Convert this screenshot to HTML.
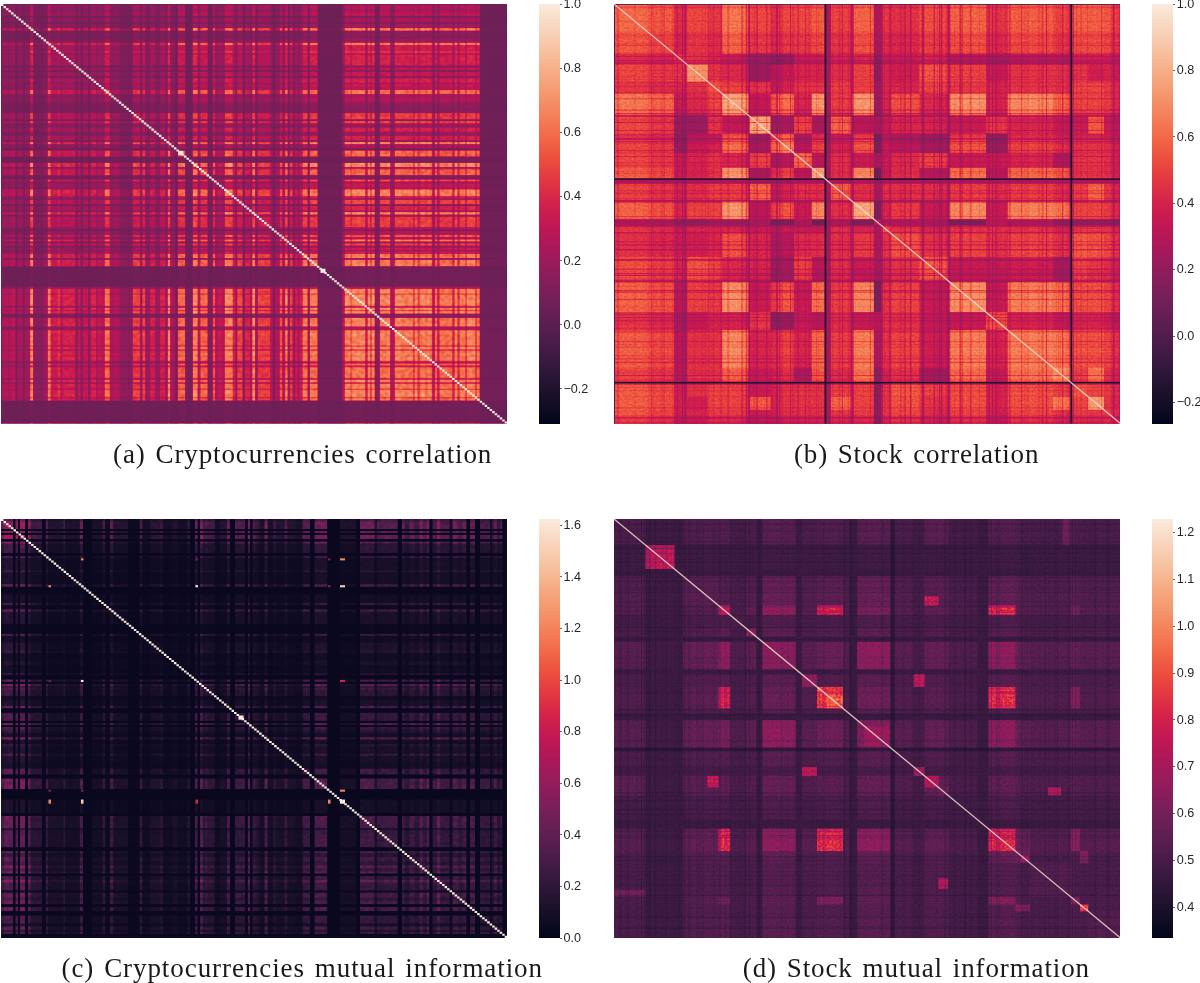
<!DOCTYPE html><html><head><meta charset="utf-8"><title>Correlation and mutual information heatmaps</title><style>
html,body{margin:0;padding:0;background:#fff}
#r{position:relative;width:1200px;height:983px;overflow:hidden;background:#fff;font-family:"Liberation Sans",sans-serif}
.cb{position:absolute;background:linear-gradient(to bottom,#faebdd 0%,#f8d7c0 5.26%,#f7c4a4 10.53%,#f6ae87 15.79%,#f59970 21.05%,#f4815a 26.32%,#f26948 31.58%,#ed4e3e 36.84%,#e33641 42.11%,#d3214b 47.37%,#c11754 52.63%,#aa185a 57.89%,#931c5b 63.16%,#7b1f59 68.42%,#661f54 73.68%,#501d4c 78.95%,#3c1a42 84.21%,#271534 89.47%,#140e26 94.74%,#03051a 100%)}
.tk{position:absolute;width:2px;height:1px;background:#666}
.tl{position:absolute;font-size:12.6px;line-height:15px;color:#262626;white-space:nowrap}
.cap{position:absolute;font-family:"Liberation Serif",serif;font-size:27px;line-height:30px;color:#1a1a1a;white-space:nowrap}
svg{display:block}
</style></head><body><div id="r"><svg width="0" height="0" style="position:absolute"><defs><filter id="fa" x="0" y="0" width="100%" height="100%" color-interpolation-filters="sRGB"><feTurbulence type="fractalNoise" baseFrequency="0.25 0.3" numOctaves="1" seed="5" result="n"/><feColorMatrix in="n" type="matrix" values="1 0 0 0 0 1 0 0 0 0 1 0 0 0 0 0 0 0 0 1" result="m"/><feComposite in="SourceGraphic" in2="m" operator="arithmetic" k1="0.4" k2="0.6" k3="0" k4="0" result="s"/><feComponentTransfer in="s"><feFuncR type="table" tableValues="0.419 0.452 0.484 0.517 0.551 0.584 0.618 0.658 0.691 0.724 0.755 0.785 0.813 0.843 0.866 0.887 0.905 0.920 0.931 0.939 0.946 0.951 0.954 0.957 0.960 0.961 0.963 0.964 0.965 0.965 0.966 0.967 0.969 0.972 0.974 0.978 0.981 0.014 0.014 0.014 0.014 0.014 0.014 0.014 0.014 0.014 0.014 0.014"/><feFuncG type="table" tableValues="0.122 0.122 0.120 0.118 0.114 0.109 0.103 0.096 0.090 0.087 0.089 0.099 0.116 0.146 0.174 0.205 0.239 0.275 0.314 0.353 0.398 0.435 0.471 0.506 0.540 0.573 0.606 0.645 0.677 0.708 0.738 0.769 0.798 0.833 0.862 0.891 0.921 0.020 0.020 0.020 0.020 0.020 0.020 0.020 0.020 0.020 0.020 0.020"/><feFuncB type="table" tableValues="0.336 0.344 0.350 0.355 0.357 0.358 0.358 0.354 0.348 0.339 0.329 0.316 0.302 0.285 0.271 0.258 0.247 0.242 0.245 0.255 0.275 0.297 0.323 0.351 0.381 0.412 0.445 0.486 0.523 0.561 0.601 0.642 0.685 0.737 0.780 0.823 0.865 0.104 0.104 0.104 0.104 0.104 0.104 0.104 0.104 0.104 0.104 0.104"/></feComponentTransfer></filter><filter id="fb" x="0" y="0" width="100%" height="100%" color-interpolation-filters="sRGB"><feTurbulence type="fractalNoise" baseFrequency="0.45 0.55" numOctaves="1" seed="7" result="n"/><feColorMatrix in="n" type="matrix" values="1 0 0 0 0 1 0 0 0 0 1 0 0 0 0 0 0 0 0 1" result="m"/><feComposite in="SourceGraphic" in2="m" operator="arithmetic" k1="0.3" k2="0.7" k3="0" k4="0" result="s"/><feComponentTransfer in="s"><feFuncR type="table" tableValues="0.312 0.343 0.375 0.406 0.439 0.471 0.504 0.537 0.577 0.611 0.645 0.678 0.711 0.743 0.773 0.802 0.829 0.853 0.875 0.895 0.912 0.925 0.936 0.943 0.948 0.952 0.956 0.958 0.960 0.962 0.963 0.964 0.965 0.965 0.966 0.967 0.969 0.972 0.975 0.978 0.014 0.014 0.014 0.014 0.014 0.014 0.014 0.014"/><feFuncG type="table" tableValues="0.115 0.118 0.120 0.122 0.122 0.121 0.119 0.116 0.110 0.105 0.098 0.092 0.088 0.087 0.094 0.109 0.130 0.157 0.186 0.218 0.253 0.291 0.337 0.375 0.413 0.449 0.485 0.519 0.553 0.586 0.619 0.651 0.683 0.714 0.745 0.775 0.804 0.839 0.868 0.897 0.020 0.020 0.020 0.020 0.020 0.020 0.020 0.020"/><feFuncB type="table" tableValues="0.298 0.311 0.323 0.333 0.341 0.348 0.353 0.356 0.358 0.358 0.355 0.350 0.343 0.333 0.321 0.308 0.293 0.279 0.265 0.253 0.245 0.242 0.250 0.264 0.283 0.307 0.334 0.363 0.393 0.425 0.458 0.493 0.530 0.568 0.609 0.651 0.694 0.746 0.789 0.831 0.104 0.104 0.104 0.104 0.104 0.104 0.104 0.104"/></feComponentTransfer></filter><filter id="fc" x="0" y="0" width="100%" height="100%" color-interpolation-filters="sRGB"><feTurbulence type="fractalNoise" baseFrequency="0.25 0.3" numOctaves="1" seed="4" result="n"/><feColorMatrix in="n" type="matrix" values="1 0 0 0 0 1 0 0 0 0 1 0 0 0 0 0 0 0 0 1" result="m"/><feComposite in="SourceGraphic" in2="m" operator="arithmetic" k1="0.3" k2="0.7" k3="0" k4="0" result="s"/><feComponentTransfer in="s"><feFuncR type="table" tableValues="0.039 0.039 0.039 0.039 0.039 0.039 0.039 0.039 0.044 0.044 0.050 0.050 0.056 0.056 0.062 0.068 0.073 0.079 0.085 0.090 0.096 0.101 0.113 0.124 0.129 0.141 0.152 0.163 0.175 0.192 0.204 0.222 0.239 0.257 0.275 0.294 0.312 0.337 0.356 0.381 0.406 0.432 0.465 0.491 0.524 0.557 0.591 0.625 0.658 0.698 0.730 0.767 0.802 0.834 0.866 0.895 0.914 0.933 0.943 0.950 0.956 0.960 0.962 0.964"/><feFuncG type="table" tableValues="0.034 0.034 0.034 0.034 0.034 0.034 0.034 0.034 0.036 0.036 0.039 0.039 0.042 0.042 0.045 0.048 0.050 0.053 0.056 0.058 0.061 0.063 0.067 0.072 0.074 0.078 0.082 0.085 0.088 0.093 0.096 0.100 0.104 0.107 0.110 0.113 0.115 0.118 0.119 0.121 0.122 0.122 0.121 0.120 0.117 0.113 0.108 0.102 0.096 0.089 0.087 0.092 0.109 0.135 0.174 0.218 0.260 0.322 0.375 0.428 0.485 0.540 0.593 0.645"/><feFuncB type="table" tableValues="0.122 0.122 0.122 0.122 0.122 0.122 0.122 0.122 0.126 0.126 0.130 0.130 0.134 0.134 0.138 0.142 0.146 0.150 0.154 0.158 0.162 0.166 0.174 0.182 0.186 0.195 0.203 0.211 0.219 0.231 0.239 0.250 0.260 0.271 0.280 0.290 0.298 0.309 0.316 0.325 0.333 0.340 0.347 0.351 0.355 0.358 0.358 0.357 0.354 0.346 0.337 0.324 0.308 0.291 0.271 0.253 0.244 0.246 0.264 0.292 0.334 0.381 0.431 0.486"/></feComponentTransfer></filter><filter id="fd" x="0" y="0" width="100%" height="100%" color-interpolation-filters="sRGB"><feTurbulence type="fractalNoise" baseFrequency="0.45 0.55" numOctaves="1" seed="9" result="n"/><feColorMatrix in="n" type="matrix" values="1 0 0 0 0 1 0 0 0 0 1 0 0 0 0 0 0 0 0 1" result="m"/><feComposite in="SourceGraphic" in2="m" operator="arithmetic" k1="0.5" k2="0.5" k3="0" k4="0" result="s"/><feComponentTransfer in="s"><feFuncR type="table" tableValues="0.079 0.107 0.135 0.163 0.192 0.222 0.251 0.281 0.312 0.343 0.375 0.406 0.439 0.471 0.504 0.537 0.571 0.604 0.638 0.672 0.705 0.737 0.767 0.797 0.823 0.848 0.871 0.891 0.912 0.925 0.934 0.942 0.947 0.952 0.955 0.958 0.960 0.962 0.963 0.964 0.965 0.965 0.966 0.967 0.969 0.971 0.974 0.977"/><feFuncG type="table" tableValues="0.053 0.065 0.076 0.085 0.093 0.100 0.106 0.111 0.115 0.118 0.120 0.122 0.122 0.121 0.119 0.116 0.111 0.106 0.099 0.093 0.088 0.087 0.092 0.105 0.125 0.151 0.180 0.211 0.253 0.291 0.329 0.368 0.406 0.442 0.478 0.513 0.547 0.580 0.613 0.645 0.677 0.708 0.738 0.769 0.798 0.827 0.857 0.886"/><feFuncB type="table" tableValues="0.150 0.170 0.190 0.211 0.231 0.250 0.267 0.284 0.298 0.311 0.323 0.333 0.341 0.348 0.353 0.356 0.358 0.358 0.356 0.352 0.345 0.335 0.324 0.311 0.296 0.282 0.268 0.255 0.245 0.242 0.248 0.260 0.279 0.302 0.329 0.357 0.387 0.418 0.451 0.486 0.523 0.561 0.601 0.642 0.685 0.729 0.772 0.814"/></feComponentTransfer></filter></defs></svg><svg style="position:absolute;left:1px;top:4px" width="506.3" height="419.5" viewBox="0 0 506.3 419.5"><g filter="url(#fa)"><rect width="506.3" height="419.5" fill="#f5f5f5"/><g style="mix-blend-mode:multiply"><rect x="0" width="2" height="419.5" fill="#111111"/><rect x="1.3" width="6.4" height="419.5" fill="#4d4d4d"/><rect x="7" width="2.2" height="419.5" fill="#393939"/><rect x="8.5" width="3.9" height="419.5" fill="#4d4d4d"/><rect x="11.7" width="3.2" height="419.5" fill="#5f5f5f"/><rect x="14.2" width="3.2" height="419.5" fill="#181818"/><rect x="16.7" width="5.8" height="419.5" fill="#434343"/><rect x="21.8" width="2.7" height="419.5" fill="#181818"/><rect x="23.8" width="6.1" height="419.5" fill="#3c3c3c"/><rect x="29.2" width="3.7" height="419.5" fill="#d6d6d6"/><rect x="32.2" width="8.5" height="419.5" fill="#242424"/><rect x="40" width="2.4" height="419.5" fill="#181818"/><rect x="41.7" width="5.7" height="419.5" fill="#333333"/><rect x="46.7" width="3.6" height="419.5" fill="#cbcbcb"/><rect x="49.6" width="7.8" height="419.5" fill="#676767"/><rect x="56.7" width="3.2" height="419.5" fill="#838383"/><rect x="59.2" width="3.2" height="419.5" fill="#545454"/><rect x="61.7" width="13.2" height="419.5" fill="#6f6f6f"/><rect x="74.2" width="3.5" height="419.5" fill="#2a2a2a"/><rect x="77" width="3.3" height="419.5" fill="#5f5f5f"/><rect x="79.6" width="3.1" height="419.5" fill="#242424"/><rect x="82" width="5.7" height="419.5" fill="#5f5f5f"/><rect x="87" width="3.3" height="419.5" fill="#242424"/><rect x="89.6" width="6.1" height="419.5" fill="#6f6f6f"/><rect x="95" width="2.4" height="419.5" fill="#434343"/><rect x="96.7" width="4" height="419.5" fill="#5f5f5f"/><rect x="100" width="4.45" height="419.5" fill="#545454"/><rect x="103.75" width="5.7" height="419.5" fill="#bdbdbd"/><rect x="108.75" width="5.7" height="419.5" fill="#434343"/><rect x="113.75" width="3.65" height="419.5" fill="#545454"/><rect x="116.7" width="3.2" height="419.5" fill="#434343"/><rect x="119.2" width="9" height="419.5" fill="#272727"/><rect x="127.5" width="2" height="419.5" fill="#1a1a1a"/><rect x="128.8" width="3.6" height="419.5" fill="#272727"/><rect x="131.7" width="8.2" height="419.5" fill="#909090"/><rect x="139.2" width="2.75" height="419.5" fill="#242424"/><rect x="141.25" width="3.65" height="419.5" fill="#989898"/><rect x="144.2" width="5.7" height="419.5" fill="#333333"/><rect x="149.2" width="5.7" height="419.5" fill="#6f6f6f"/><rect x="154.2" width="5.7" height="419.5" fill="#333333"/><rect x="159.2" width="5.7" height="419.5" fill="#6f6f6f"/><rect x="164.2" width="3.2" height="419.5" fill="#333333"/><rect x="166.7" width="3.2" height="419.5" fill="#d6d6d6"/><rect x="169.2" width="5.7" height="419.5" fill="#434343"/><rect x="174.2" width="3.2" height="419.5" fill="#090909"/><rect x="176.7" width="8.2" height="419.5" fill="#b3b3b3"/><rect x="184.2" width="8.2" height="419.5" fill="#111111"/><rect x="191.7" width="5.7" height="419.5" fill="#d6d6d6"/><rect x="196.7" width="2.75" height="419.5" fill="#434343"/><rect x="198.75" width="1.95" height="419.5" fill="#909090"/><rect x="200" width="7.4" height="419.5" fill="#b3b3b3"/><rect x="206.7" width="5.7" height="419.5" fill="#181818"/><rect x="211.7" width="3.2" height="419.5" fill="#a6a6a6"/><rect x="214.2" width="3.2" height="419.5" fill="#434343"/><rect x="216.7" width="5.25" height="419.5" fill="#5f5f5f"/><rect x="221.25" width="3.2" height="419.5" fill="#4d4d4d"/><rect x="223.75" width="8.65" height="419.5" fill="#cfcfcf"/><rect x="231.7" width="3.2" height="419.5" fill="#6f6f6f"/><rect x="234.2" width="2.75" height="419.5" fill="#333333"/><rect x="236.25" width="6.15" height="419.5" fill="#989898"/><rect x="241.7" width="2.75" height="419.5" fill="#181818"/><rect x="243.75" width="6.15" height="419.5" fill="#727272"/><rect x="249.2" width="2.75" height="419.5" fill="#434343"/><rect x="251.25" width="3.65" height="419.5" fill="#d9d9d9"/><rect x="254.2" width="3.2" height="419.5" fill="#333333"/><rect x="256.7" width="13.2" height="419.5" fill="#909090"/><rect x="269.2" width="3.2" height="419.5" fill="#545454"/><rect x="271.7" width="3.2" height="419.5" fill="#181818"/><rect x="274.2" width="5.25" height="419.5" fill="#4d4d4d"/><rect x="278.75" width="3.2" height="419.5" fill="#a6a6a6"/><rect x="281.25" width="3.65" height="419.5" fill="#4d4d4d"/><rect x="284.2" width="3.2" height="419.5" fill="#cfcfcf"/><rect x="286.7" width="2.75" height="419.5" fill="#2a2a2a"/><rect x="288.75" width="3.65" height="419.5" fill="#909090"/><rect x="291.7" width="3.2" height="419.5" fill="#333333"/><rect x="294.2" width="3.2" height="419.5" fill="#676767"/><rect x="296.7" width="2.75" height="419.5" fill="#434343"/><rect x="298.75" width="3.65" height="419.5" fill="#676767"/><rect x="301.7" width="5.7" height="419.5" fill="#c6c6c6"/><rect x="306.7" width="2.75" height="419.5" fill="#2a2a2a"/><rect x="308.75" width="8.65" height="419.5" fill="#c6c6c6"/><rect x="316.7" width="25.25" height="419.5" fill="#090909"/><rect x="341.25" width="3.2" height="419.5" fill="#545454"/><rect x="343.75" width="6.15" height="419.5" fill="#cfcfcf"/><rect x="349.2" width="2.75" height="419.5" fill="#a6a6a6"/><rect x="351.25" width="7.75" height="419.5" fill="#cfcfcf"/><rect x="358.3" width="6.6" height="419.5" fill="#d3d3d3"/><rect x="364.2" width="3.2" height="419.5" fill="#676767"/><rect x="366.7" width="3.2" height="419.5" fill="#d6d6d6"/><rect x="369.2" width="2.3" height="419.5" fill="#909090"/><rect x="370.8" width="3.65" height="419.5" fill="#d9d9d9"/><rect x="373.75" width="5.7" height="419.5" fill="#242424"/><rect x="378.75" width="7.95" height="419.5" fill="#c6c6c6"/><rect x="386" width="3.9" height="419.5" fill="#d3d3d3"/><rect x="389.2" width="5.25" height="419.5" fill="#4d4d4d"/><rect x="393.75" width="6.95" height="419.5" fill="#cfcfcf"/><rect x="400" width="12.7" height="419.5" fill="#c6c6c6"/><rect x="412" width="2.5" height="419.5" fill="#909090"/><rect x="413.8" width="3.4" height="419.5" fill="#d3d3d3"/><rect x="416.5" width="3" height="419.5" fill="#909090"/><rect x="418.8" width="2.9" height="419.5" fill="#c6c6c6"/><rect x="421" width="3.7" height="419.5" fill="#d2d2d2"/><rect x="424" width="3.2" height="419.5" fill="#bdbdbd"/><rect x="426.5" width="3.7" height="419.5" fill="#d2d2d2"/><rect x="429.5" width="2.4" height="419.5" fill="#bdbdbd"/><rect x="431.2" width="3.4" height="419.5" fill="#545454"/><rect x="433.9" width="3" height="419.5" fill="#bdbdbd"/><rect x="436.2" width="3" height="419.5" fill="#676767"/><rect x="438.5" width="13.5" height="419.5" fill="#bdbdbd"/><rect x="451.3" width="3" height="419.5" fill="#6f6f6f"/><rect x="453.6" width="3.5" height="419.5" fill="#d3d3d3"/><rect x="456.4" width="3" height="419.5" fill="#7b7b7b"/><rect x="458.7" width="6.2" height="419.5" fill="#c6c6c6"/><rect x="464.2" width="2.5" height="419.5" fill="#909090"/><rect x="466" width="8.9" height="419.5" fill="#d0d0d0"/><rect x="474.2" width="2.5" height="419.5" fill="#909090"/><rect x="476" width="3.5" height="419.5" fill="#c6c6c6"/><rect x="478.8" width="6.2" height="419.5" fill="#080808"/><rect x="484.3" width="2.1" height="419.5" fill="#111111"/><rect x="485.7" width="20.6" height="419.5" fill="#080808"/></g><g style="mix-blend-mode:multiply"><rect y="0" height="1.78" width="506.3" fill="#111111"/><rect y="1.08" height="5.42" width="506.3" fill="#4d4d4d"/><rect y="5.8" height="1.94" width="506.3" fill="#393939"/><rect y="7.04" height="3.35" width="506.3" fill="#4d4d4d"/><rect y="9.69" height="2.77" width="506.3" fill="#5f5f5f"/><rect y="11.77" height="2.77" width="506.3" fill="#181818"/><rect y="13.84" height="4.93" width="506.3" fill="#434343"/><rect y="18.06" height="2.36" width="506.3" fill="#181818"/><rect y="19.72" height="5.17" width="506.3" fill="#3c3c3c"/><rect y="24.19" height="3.19" width="506.3" fill="#d6d6d6"/><rect y="26.68" height="7.16" width="506.3" fill="#242424"/><rect y="33.14" height="2.11" width="506.3" fill="#181818"/><rect y="34.55" height="4.84" width="506.3" fill="#333333"/><rect y="38.69" height="3.1" width="506.3" fill="#cbcbcb"/><rect y="41.1" height="6.58" width="506.3" fill="#676767"/><rect y="46.98" height="2.77" width="506.3" fill="#838383"/><rect y="49.05" height="2.77" width="506.3" fill="#545454"/><rect y="51.12" height="11.06" width="506.3" fill="#6f6f6f"/><rect y="61.48" height="3.02" width="506.3" fill="#2a2a2a"/><rect y="63.8" height="2.85" width="506.3" fill="#5f5f5f"/><rect y="65.95" height="2.69" width="506.3" fill="#242424"/><rect y="67.94" height="4.84" width="506.3" fill="#5f5f5f"/><rect y="72.08" height="2.85" width="506.3" fill="#242424"/><rect y="74.24" height="5.17" width="506.3" fill="#6f6f6f"/><rect y="78.71" height="2.11" width="506.3" fill="#434343"/><rect y="80.12" height="3.43" width="506.3" fill="#5f5f5f"/><rect y="82.86" height="3.81" width="506.3" fill="#545454"/><rect y="85.96" height="4.84" width="506.3" fill="#bdbdbd"/><rect y="90.11" height="4.84" width="506.3" fill="#434343"/><rect y="94.25" height="3.14" width="506.3" fill="#545454"/><rect y="96.69" height="2.77" width="506.3" fill="#434343"/><rect y="98.76" height="7.58" width="506.3" fill="#272727"/><rect y="105.64" height="1.78" width="506.3" fill="#1a1a1a"/><rect y="106.72" height="3.1" width="506.3" fill="#272727"/><rect y="109.12" height="6.91" width="506.3" fill="#909090"/><rect y="115.34" height="2.4" width="506.3" fill="#242424"/><rect y="117.03" height="3.14" width="506.3" fill="#989898"/><rect y="119.48" height="4.84" width="506.3" fill="#333333"/><rect y="123.62" height="4.84" width="506.3" fill="#6f6f6f"/><rect y="127.76" height="4.84" width="506.3" fill="#333333"/><rect y="131.91" height="4.84" width="506.3" fill="#6f6f6f"/><rect y="136.05" height="2.77" width="506.3" fill="#333333"/><rect y="138.12" height="2.77" width="506.3" fill="#d6d6d6"/><rect y="140.19" height="4.84" width="506.3" fill="#434343"/><rect y="144.34" height="2.77" width="506.3" fill="#090909"/><rect y="146.41" height="6.91" width="506.3" fill="#b3b3b3"/><rect y="152.62" height="6.91" width="506.3" fill="#111111"/><rect y="158.83" height="4.84" width="506.3" fill="#d6d6d6"/><rect y="162.98" height="2.4" width="506.3" fill="#434343"/><rect y="164.68" height="1.74" width="506.3" fill="#909090"/><rect y="165.71" height="6.25" width="506.3" fill="#b3b3b3"/><rect y="171.26" height="4.84" width="506.3" fill="#181818"/><rect y="175.41" height="2.77" width="506.3" fill="#a6a6a6"/><rect y="177.48" height="2.77" width="506.3" fill="#434343"/><rect y="179.55" height="4.47" width="506.3" fill="#5f5f5f"/><rect y="183.32" height="2.77" width="506.3" fill="#4d4d4d"/><rect y="185.39" height="7.29" width="506.3" fill="#cfcfcf"/><rect y="191.98" height="2.77" width="506.3" fill="#6f6f6f"/><rect y="194.05" height="2.4" width="506.3" fill="#333333"/><rect y="195.75" height="5.22" width="506.3" fill="#989898"/><rect y="200.26" height="2.4" width="506.3" fill="#181818"/><rect y="201.96" height="5.22" width="506.3" fill="#727272"/><rect y="206.48" height="2.4" width="506.3" fill="#434343"/><rect y="208.18" height="3.14" width="506.3" fill="#d9d9d9"/><rect y="210.62" height="2.77" width="506.3" fill="#333333"/><rect y="212.69" height="11.06" width="506.3" fill="#909090"/><rect y="223.05" height="2.77" width="506.3" fill="#545454"/><rect y="225.12" height="2.77" width="506.3" fill="#181818"/><rect y="227.19" height="4.47" width="506.3" fill="#4d4d4d"/><rect y="230.96" height="2.77" width="506.3" fill="#a6a6a6"/><rect y="233.03" height="3.14" width="506.3" fill="#4d4d4d"/><rect y="235.48" height="2.77" width="506.3" fill="#cfcfcf"/><rect y="237.55" height="2.4" width="506.3" fill="#2a2a2a"/><rect y="239.25" height="3.14" width="506.3" fill="#909090"/><rect y="241.69" height="2.77" width="506.3" fill="#333333"/><rect y="243.76" height="2.77" width="506.3" fill="#676767"/><rect y="245.83" height="2.4" width="506.3" fill="#434343"/><rect y="247.53" height="3.14" width="506.3" fill="#676767"/><rect y="249.98" height="4.84" width="506.3" fill="#c6c6c6"/><rect y="254.12" height="2.4" width="506.3" fill="#2a2a2a"/><rect y="255.82" height="7.29" width="506.3" fill="#c6c6c6"/><rect y="262.4" height="21.04" width="506.3" fill="#090909"/><rect y="282.75" height="2.77" width="506.3" fill="#545454"/><rect y="284.82" height="5.22" width="506.3" fill="#cfcfcf"/><rect y="289.33" height="2.4" width="506.3" fill="#a6a6a6"/><rect y="291.03" height="6.54" width="506.3" fill="#cfcfcf"/><rect y="296.87" height="5.59" width="506.3" fill="#d3d3d3"/><rect y="301.76" height="2.77" width="506.3" fill="#676767"/><rect y="303.83" height="2.77" width="506.3" fill="#d6d6d6"/><rect y="305.9" height="2.03" width="506.3" fill="#909090"/><rect y="307.23" height="3.14" width="506.3" fill="#d9d9d9"/><rect y="309.67" height="4.84" width="506.3" fill="#242424"/><rect y="313.82" height="6.71" width="506.3" fill="#c6c6c6"/><rect y="319.82" height="3.35" width="506.3" fill="#d3d3d3"/><rect y="322.48" height="4.47" width="506.3" fill="#4d4d4d"/><rect y="326.25" height="5.88" width="506.3" fill="#cfcfcf"/><rect y="331.42" height="10.64" width="506.3" fill="#c6c6c6"/><rect y="341.37" height="2.19" width="506.3" fill="#909090"/><rect y="342.86" height="2.94" width="506.3" fill="#d3d3d3"/><rect y="345.1" height="2.61" width="506.3" fill="#909090"/><rect y="347" height="2.52" width="506.3" fill="#c6c6c6"/><rect y="348.82" height="3.19" width="506.3" fill="#d2d2d2"/><rect y="351.31" height="2.77" width="506.3" fill="#bdbdbd"/><rect y="353.38" height="3.19" width="506.3" fill="#d2d2d2"/><rect y="355.87" height="2.11" width="506.3" fill="#bdbdbd"/><rect y="357.28" height="2.94" width="506.3" fill="#545454"/><rect y="359.51" height="2.61" width="506.3" fill="#bdbdbd"/><rect y="361.42" height="2.61" width="506.3" fill="#676767"/><rect y="363.32" height="11.31" width="506.3" fill="#bdbdbd"/><rect y="373.93" height="2.61" width="506.3" fill="#6f6f6f"/><rect y="375.83" height="3.02" width="506.3" fill="#d3d3d3"/><rect y="378.15" height="2.61" width="506.3" fill="#7b7b7b"/><rect y="380.06" height="5.26" width="506.3" fill="#c6c6c6"/><rect y="384.62" height="2.19" width="506.3" fill="#909090"/><rect y="386.11" height="7.49" width="506.3" fill="#d0d0d0"/><rect y="392.9" height="2.19" width="506.3" fill="#909090"/><rect y="394.39" height="3.02" width="506.3" fill="#c6c6c6"/><rect y="396.71" height="5.26" width="506.3" fill="#080808"/><rect y="401.27" height="1.86" width="506.3" fill="#111111"/><rect y="402.43" height="17.07" width="506.3" fill="#080808"/></g></g><rect x="319.5" y="264.72" width="5" height="4.14" fill="#faebdd"/><rect x="177.3" y="146.9" width="5" height="4.14" fill="#faebdd"/><path d="M0 0h2.506v2.077h-2.506zm2.506 2.077h2.506v2.077h-2.506zm2.506 2.077h2.506v2.077h-2.506zm2.506 2.077h2.506v2.077h-2.506zm2.506 2.077h2.506v2.077h-2.506zm2.506 2.077h2.506v2.077h-2.506zm2.506 2.077h2.506v2.077h-2.506zm2.506 2.077h2.506v2.077h-2.506zm2.506 2.077h2.506v2.077h-2.506zm2.506 2.077h2.506v2.077h-2.506zm2.506 2.077h2.506v2.077h-2.506zm2.506 2.077h2.506v2.077h-2.506zm2.506 2.077h2.506v2.077h-2.506zm2.506 2.077h2.506v2.077h-2.506zm2.506 2.077h2.506v2.077h-2.506zm2.506 2.077h2.506v2.077h-2.506zm2.506 2.077h2.506v2.077h-2.506zm2.506 2.077h2.506v2.077h-2.506zm2.506 2.077h2.506v2.077h-2.506zm2.506 2.077h2.506v2.077h-2.506zm2.506 2.077h2.506v2.077h-2.506zm2.506 2.077h2.506v2.077h-2.506zm2.506 2.077h2.506v2.077h-2.506zm2.506 2.077h2.506v2.077h-2.506zm2.506 2.077h2.506v2.077h-2.506zm2.506 2.077h2.506v2.077h-2.506zm2.506 2.077h2.506v2.077h-2.506zm2.506 2.077h2.506v2.077h-2.506zm2.506 2.077h2.506v2.077h-2.506zm2.506 2.077h2.506v2.077h-2.506zm2.506 2.077h2.506v2.077h-2.506zm2.506 2.077h2.506v2.077h-2.506zm2.506 2.077h2.506v2.077h-2.506zm2.506 2.077h2.506v2.077h-2.506zm2.506 2.077h2.506v2.077h-2.506zm2.506 2.077h2.506v2.077h-2.506zm2.506 2.077h2.506v2.077h-2.506zm2.506 2.077h2.506v2.077h-2.506zm2.506 2.077h2.506v2.077h-2.506zm2.506 2.077h2.506v2.077h-2.506zm2.506 2.077h2.506v2.077h-2.506zm2.506 2.077h2.506v2.077h-2.506zm2.506 2.077h2.506v2.077h-2.506zm2.506 2.077h2.506v2.077h-2.506zm2.506 2.077h2.506v2.077h-2.506zm2.506 2.077h2.506v2.077h-2.506zm2.506 2.077h2.506v2.077h-2.506zm2.506 2.077h2.506v2.077h-2.506zm2.506 2.077h2.506v2.077h-2.506zm2.506 2.077h2.506v2.077h-2.506zm2.506 2.077h2.506v2.077h-2.506zm2.506 2.077h2.506v2.077h-2.506zm2.506 2.077h2.506v2.077h-2.506zm2.506 2.077h2.506v2.077h-2.506zm2.506 2.077h2.506v2.077h-2.506zm2.506 2.077h2.506v2.077h-2.506zm2.506 2.077h2.506v2.077h-2.506zm2.506 2.077h2.506v2.077h-2.506zm2.506 2.077h2.506v2.077h-2.506zm2.506 2.077h2.506v2.077h-2.506zm2.506 2.077h2.506v2.077h-2.506zm2.506 2.077h2.506v2.077h-2.506zm2.506 2.077h2.506v2.077h-2.506zm2.506 2.077h2.506v2.077h-2.506zm2.506 2.077h2.506v2.077h-2.506zm2.506 2.077h2.506v2.077h-2.506zm2.506 2.077h2.506v2.077h-2.506zm2.506 2.077h2.506v2.077h-2.506zm2.506 2.077h2.506v2.077h-2.506zm2.506 2.077h2.506v2.077h-2.506zm2.506 2.077h2.506v2.077h-2.506zm2.506 2.077h2.506v2.077h-2.506zm2.506 2.077h2.506v2.077h-2.506zm2.506 2.077h2.506v2.077h-2.506zm2.506 2.077h2.506v2.077h-2.506zm2.506 2.077h2.506v2.077h-2.506zm2.506 2.077h2.506v2.077h-2.506zm2.506 2.077h2.506v2.077h-2.506zm2.506 2.077h2.506v2.077h-2.506zm2.506 2.077h2.506v2.077h-2.506zm2.506 2.077h2.506v2.077h-2.506zm2.506 2.077h2.506v2.077h-2.506zm2.506 2.077h2.506v2.077h-2.506zm2.506 2.077h2.506v2.077h-2.506zm2.506 2.077h2.506v2.077h-2.506zm2.506 2.077h2.506v2.077h-2.506zm2.506 2.077h2.506v2.077h-2.506zm2.506 2.077h2.506v2.077h-2.506zm2.506 2.077h2.506v2.077h-2.506zm2.506 2.077h2.506v2.077h-2.506zm2.506 2.077h2.506v2.077h-2.506zm2.506 2.077h2.506v2.077h-2.506zm2.506 2.077h2.506v2.077h-2.506zm2.506 2.077h2.506v2.077h-2.506zm2.506 2.077h2.506v2.077h-2.506zm2.506 2.077h2.506v2.077h-2.506zm2.506 2.077h2.506v2.077h-2.506zm2.506 2.077h2.506v2.077h-2.506zm2.506 2.077h2.506v2.077h-2.506zm2.506 2.077h2.506v2.077h-2.506zm2.506 2.077h2.506v2.077h-2.506zm2.506 2.077h2.506v2.077h-2.506zm2.506 2.077h2.506v2.077h-2.506zm2.506 2.077h2.506v2.077h-2.506zm2.506 2.077h2.506v2.077h-2.506zm2.506 2.077h2.506v2.077h-2.506zm2.506 2.077h2.506v2.077h-2.506zm2.506 2.077h2.506v2.077h-2.506zm2.506 2.077h2.506v2.077h-2.506zm2.506 2.077h2.506v2.077h-2.506zm2.506 2.077h2.506v2.077h-2.506zm2.506 2.077h2.506v2.077h-2.506zm2.506 2.077h2.506v2.077h-2.506zm2.506 2.077h2.506v2.077h-2.506zm2.506 2.077h2.506v2.077h-2.506zm2.506 2.077h2.506v2.077h-2.506zm2.506 2.077h2.506v2.077h-2.506zm2.506 2.077h2.506v2.077h-2.506zm2.506 2.077h2.506v2.077h-2.506zm2.506 2.077h2.506v2.077h-2.506zm2.506 2.077h2.506v2.077h-2.506zm2.506 2.077h2.506v2.077h-2.506zm2.506 2.077h2.506v2.077h-2.506zm2.506 2.077h2.506v2.077h-2.506zm2.506 2.077h2.506v2.077h-2.506zm2.506 2.077h2.506v2.077h-2.506zm2.506 2.077h2.506v2.077h-2.506zm2.506 2.077h2.506v2.077h-2.506zm2.506 2.077h2.506v2.077h-2.506zm2.506 2.077h2.506v2.077h-2.506zm2.506 2.077h2.506v2.077h-2.506zm2.506 2.077h2.506v2.077h-2.506zm2.506 2.077h2.506v2.077h-2.506zm2.506 2.077h2.506v2.077h-2.506zm2.506 2.077h2.506v2.077h-2.506zm2.506 2.077h2.506v2.077h-2.506zm2.506 2.077h2.506v2.077h-2.506zm2.506 2.077h2.506v2.077h-2.506zm2.506 2.077h2.506v2.077h-2.506zm2.506 2.077h2.506v2.077h-2.506zm2.506 2.077h2.506v2.077h-2.506zm2.506 2.077h2.506v2.077h-2.506zm2.506 2.077h2.506v2.077h-2.506zm2.506 2.077h2.506v2.077h-2.506zm2.506 2.077h2.506v2.077h-2.506zm2.506 2.077h2.506v2.077h-2.506zm2.506 2.077h2.506v2.077h-2.506zm2.506 2.077h2.506v2.077h-2.506zm2.506 2.077h2.506v2.077h-2.506zm2.506 2.077h2.506v2.077h-2.506zm2.506 2.077h2.506v2.077h-2.506zm2.506 2.077h2.506v2.077h-2.506zm2.506 2.077h2.506v2.077h-2.506zm2.506 2.077h2.506v2.077h-2.506zm2.506 2.077h2.506v2.077h-2.506zm2.506 2.077h2.506v2.077h-2.506zm2.506 2.077h2.506v2.077h-2.506zm2.506 2.077h2.506v2.077h-2.506zm2.506 2.077h2.506v2.077h-2.506zm2.506 2.077h2.506v2.077h-2.506zm2.506 2.077h2.506v2.077h-2.506zm2.506 2.077h2.506v2.077h-2.506zm2.506 2.077h2.506v2.077h-2.506zm2.506 2.077h2.506v2.077h-2.506zm2.506 2.077h2.506v2.077h-2.506zm2.506 2.077h2.506v2.077h-2.506zm2.506 2.077h2.506v2.077h-2.506zm2.506 2.077h2.506v2.077h-2.506zm2.506 2.077h2.506v2.077h-2.506zm2.506 2.077h2.506v2.077h-2.506zm2.506 2.077h2.506v2.077h-2.506zm2.506 2.077h2.506v2.077h-2.506zm2.506 2.077h2.506v2.077h-2.506zm2.506 2.077h2.506v2.077h-2.506zm2.506 2.077h2.506v2.077h-2.506zm2.506 2.077h2.506v2.077h-2.506zm2.506 2.077h2.506v2.077h-2.506zm2.506 2.077h2.506v2.077h-2.506zm2.506 2.077h2.506v2.077h-2.506zm2.506 2.077h2.506v2.077h-2.506zm2.506 2.077h2.506v2.077h-2.506zm2.506 2.077h2.506v2.077h-2.506zm2.506 2.077h2.506v2.077h-2.506zm2.506 2.077h2.506v2.077h-2.506zm2.506 2.077h2.506v2.077h-2.506zm2.506 2.077h2.506v2.077h-2.506zm2.506 2.077h2.506v2.077h-2.506zm2.506 2.077h2.506v2.077h-2.506zm2.506 2.077h2.506v2.077h-2.506zm2.506 2.077h2.506v2.077h-2.506zm2.506 2.077h2.506v2.077h-2.506zm2.506 2.077h2.506v2.077h-2.506zm2.506 2.077h2.506v2.077h-2.506zm2.506 2.077h2.506v2.077h-2.506zm2.506 2.077h2.506v2.077h-2.506zm2.506 2.077h2.506v2.077h-2.506zm2.506 2.077h2.506v2.077h-2.506zm2.506 2.077h2.506v2.077h-2.506zm2.506 2.077h2.506v2.077h-2.506zm2.506 2.077h2.506v2.077h-2.506zm2.506 2.077h2.506v2.077h-2.506zm2.506 2.077h2.506v2.077h-2.506zm2.506 2.077" fill="#faebdd"/></svg><svg style="position:absolute;left:613.7px;top:4px" width="506.5" height="419.5" viewBox="0 0 506.5 419.5"><g filter="url(#fb)"><rect width="506.5" height="419.5" fill="#808080"/><rect x="0" y="0" width="60.5" height="50.11" fill="#9a9a9a"/><rect x="60" y="0" width="13.8" height="50.11" fill="#747474"/><rect x="0" y="49.69" width="60.5" height="11.43" fill="#747474"/><rect x="73.3" y="0" width="20.9" height="50.11" fill="#888888"/><rect x="0" y="60.71" width="60.5" height="17.31" fill="#888888"/><rect x="93.7" y="0" width="15.1" height="50.11" fill="#7c7c7c"/><rect x="0" y="77.61" width="60.5" height="12.51" fill="#7c7c7c"/><rect x="108.3" y="0" width="27.2" height="50.11" fill="#a8a8a8"/><rect x="0" y="89.7" width="60.5" height="22.53" fill="#a8a8a8"/><rect x="135" y="0" width="22.1" height="50.11" fill="#888888"/><rect x="0" y="111.81" width="60.5" height="18.3" fill="#888888"/><rect x="156.6" y="0" width="23.9" height="50.11" fill="#888888"/><rect x="0" y="129.7" width="60.5" height="19.79" fill="#888888"/><rect x="180" y="0" width="18.3" height="50.11" fill="#888888"/><rect x="0" y="149.08" width="60.5" height="15.16" fill="#888888"/><rect x="197.8" y="0" width="13.3" height="50.11" fill="#959595"/><rect x="0" y="163.82" width="60.5" height="11.02" fill="#959595"/><rect x="210.6" y="0" width="6.9" height="50.11" fill="#4a4a4a"/><rect x="0" y="174.43" width="60.5" height="5.71" fill="#4a4a4a"/><rect x="217" y="0" width="21.5" height="50.11" fill="#888888"/><rect x="0" y="179.73" width="60.5" height="17.81" fill="#888888"/><rect x="238" y="0" width="22.5" height="50.11" fill="#9a9a9a"/><rect x="0" y="197.12" width="60.5" height="18.64" fill="#9a9a9a"/><rect x="260" y="0" width="7.5" height="50.11" fill="#4a4a4a"/><rect x="0" y="215.34" width="60.5" height="6.21" fill="#4a4a4a"/><rect x="267" y="0" width="10.5" height="50.11" fill="#7c7c7c"/><rect x="0" y="221.14" width="60.5" height="8.7" fill="#7c7c7c"/><rect x="277" y="0" width="28.9" height="50.11" fill="#777777"/><rect x="0" y="229.42" width="60.5" height="23.94" fill="#777777"/><rect x="305.4" y="0" width="30.1" height="50.11" fill="#8d8d8d"/><rect x="0" y="252.94" width="60.5" height="24.93" fill="#8d8d8d"/><rect x="335" y="0" width="37.5" height="50.11" fill="#9a9a9a"/><rect x="0" y="277.46" width="60.5" height="31.06" fill="#9a9a9a"/><rect x="372" y="0" width="22" height="50.11" fill="#7c7c7c"/><rect x="0" y="308.1" width="60.5" height="18.22" fill="#7c7c7c"/><rect x="393.5" y="0" width="46" height="50.11" fill="#959595"/><rect x="0" y="325.91" width="60.5" height="38.1" fill="#959595"/><rect x="439" y="0" width="19" height="50.11" fill="#888888"/><rect x="0" y="363.59" width="60.5" height="15.74" fill="#888888"/><rect x="457.5" y="0" width="17.3" height="50.11" fill="#959595"/><rect x="0" y="378.92" width="60.5" height="14.33" fill="#959595"/><rect x="474.3" y="0" width="16.2" height="50.11" fill="#959595"/><rect x="0" y="392.83" width="60.5" height="13.42" fill="#959595"/><rect x="490" y="0" width="17" height="50.11" fill="#909090"/><rect x="0" y="405.83" width="60.5" height="14.08" fill="#909090"/><rect x="60" y="49.69" width="13.8" height="11.43" fill="#7c7c7c"/><rect x="73.3" y="49.69" width="20.9" height="11.43" fill="#7c7c7c"/><rect x="60" y="60.71" width="13.8" height="17.31" fill="#7c7c7c"/><rect x="93.7" y="49.69" width="15.1" height="11.43" fill="#6f6f6f"/><rect x="60" y="77.61" width="13.8" height="12.51" fill="#6f6f6f"/><rect x="108.3" y="49.69" width="27.2" height="11.43" fill="#636363"/><rect x="60" y="89.7" width="13.8" height="22.53" fill="#636363"/><rect x="135" y="49.69" width="22.1" height="11.43" fill="#3e3e3e"/><rect x="60" y="111.81" width="13.8" height="18.3" fill="#3e3e3e"/><rect x="156.6" y="49.69" width="23.9" height="11.43" fill="#3e3e3e"/><rect x="60" y="129.7" width="13.8" height="19.79" fill="#3e3e3e"/><rect x="180" y="49.69" width="18.3" height="11.43" fill="#636363"/><rect x="60" y="149.08" width="13.8" height="15.16" fill="#636363"/><rect x="197.8" y="49.69" width="13.3" height="11.43" fill="#636363"/><rect x="60" y="163.82" width="13.8" height="11.02" fill="#636363"/><rect x="210.6" y="49.69" width="6.9" height="11.43" fill="#3e3e3e"/><rect x="60" y="174.43" width="13.8" height="5.71" fill="#3e3e3e"/><rect x="217" y="49.69" width="21.5" height="11.43" fill="#6f6f6f"/><rect x="60" y="179.73" width="13.8" height="17.81" fill="#6f6f6f"/><rect x="238" y="49.69" width="22.5" height="11.43" fill="#6f6f6f"/><rect x="60" y="197.12" width="13.8" height="18.64" fill="#6f6f6f"/><rect x="260" y="49.69" width="7.5" height="11.43" fill="#323232"/><rect x="60" y="215.34" width="13.8" height="6.21" fill="#323232"/><rect x="267" y="49.69" width="10.5" height="11.43" fill="#636363"/><rect x="60" y="221.14" width="13.8" height="8.7" fill="#636363"/><rect x="277" y="49.69" width="28.9" height="11.43" fill="#636363"/><rect x="60" y="229.42" width="13.8" height="23.94" fill="#636363"/><rect x="305.4" y="49.69" width="30.1" height="11.43" fill="#6f6f6f"/><rect x="60" y="252.94" width="13.8" height="24.93" fill="#6f6f6f"/><rect x="335" y="49.69" width="37.5" height="11.43" fill="#575757"/><rect x="60" y="277.46" width="13.8" height="31.06" fill="#575757"/><rect x="372" y="49.69" width="22" height="11.43" fill="#4a4a4a"/><rect x="60" y="308.1" width="13.8" height="18.22" fill="#4a4a4a"/><rect x="393.5" y="49.69" width="46" height="11.43" fill="#575757"/><rect x="60" y="325.91" width="13.8" height="38.1" fill="#575757"/><rect x="439" y="49.69" width="19" height="11.43" fill="#575757"/><rect x="60" y="363.59" width="13.8" height="15.74" fill="#575757"/><rect x="457.5" y="49.69" width="17.3" height="11.43" fill="#686868"/><rect x="60" y="378.92" width="13.8" height="14.33" fill="#686868"/><rect x="474.3" y="49.69" width="16.2" height="11.43" fill="#686868"/><rect x="60" y="392.83" width="13.8" height="13.42" fill="#686868"/><rect x="490" y="49.69" width="17" height="11.43" fill="#686868"/><rect x="60" y="405.83" width="13.8" height="14.08" fill="#686868"/><rect x="73.3" y="60.71" width="20.9" height="17.31" fill="#c6c6c6"/><rect x="93.7" y="60.71" width="15.1" height="17.31" fill="#7c7c7c"/><rect x="73.3" y="77.61" width="20.9" height="12.51" fill="#7c7c7c"/><rect x="108.3" y="60.71" width="27.2" height="17.31" fill="#747474"/><rect x="73.3" y="89.7" width="20.9" height="22.53" fill="#747474"/><rect x="135" y="60.71" width="22.1" height="17.31" fill="#3e3e3e"/><rect x="73.3" y="111.81" width="20.9" height="18.3" fill="#3e3e3e"/><rect x="156.6" y="60.71" width="23.9" height="17.31" fill="#636363"/><rect x="73.3" y="129.7" width="20.9" height="19.79" fill="#636363"/><rect x="180" y="60.71" width="18.3" height="17.31" fill="#6f6f6f"/><rect x="73.3" y="149.08" width="20.9" height="15.16" fill="#6f6f6f"/><rect x="197.8" y="60.71" width="13.3" height="17.31" fill="#6f6f6f"/><rect x="73.3" y="163.82" width="20.9" height="11.02" fill="#6f6f6f"/><rect x="210.6" y="60.71" width="6.9" height="17.31" fill="#4a4a4a"/><rect x="73.3" y="174.43" width="20.9" height="5.71" fill="#4a4a4a"/><rect x="217" y="60.71" width="21.5" height="17.31" fill="#7c7c7c"/><rect x="73.3" y="179.73" width="20.9" height="17.81" fill="#7c7c7c"/><rect x="238" y="60.71" width="22.5" height="17.31" fill="#888888"/><rect x="73.3" y="197.12" width="20.9" height="18.64" fill="#888888"/><rect x="260" y="60.71" width="7.5" height="17.31" fill="#323232"/><rect x="73.3" y="215.34" width="20.9" height="6.21" fill="#323232"/><rect x="267" y="60.71" width="10.5" height="17.31" fill="#6f6f6f"/><rect x="73.3" y="221.14" width="20.9" height="8.7" fill="#6f6f6f"/><rect x="277" y="60.71" width="28.9" height="17.31" fill="#686868"/><rect x="73.3" y="229.42" width="20.9" height="23.94" fill="#686868"/><rect x="305.4" y="60.71" width="30.1" height="17.31" fill="#959595"/><rect x="73.3" y="252.94" width="20.9" height="24.93" fill="#959595"/><rect x="335" y="60.71" width="37.5" height="17.31" fill="#888888"/><rect x="73.3" y="277.46" width="20.9" height="31.06" fill="#888888"/><rect x="372" y="60.71" width="22" height="17.31" fill="#636363"/><rect x="73.3" y="308.1" width="20.9" height="18.22" fill="#636363"/><rect x="393.5" y="60.71" width="46" height="17.31" fill="#7c7c7c"/><rect x="73.3" y="325.91" width="20.9" height="38.1" fill="#7c7c7c"/><rect x="439" y="60.71" width="19" height="17.31" fill="#7c7c7c"/><rect x="73.3" y="363.59" width="20.9" height="15.74" fill="#7c7c7c"/><rect x="457.5" y="60.71" width="17.3" height="17.31" fill="#7c7c7c"/><rect x="73.3" y="378.92" width="20.9" height="14.33" fill="#7c7c7c"/><rect x="474.3" y="60.71" width="16.2" height="17.31" fill="#686868"/><rect x="73.3" y="392.83" width="20.9" height="13.42" fill="#686868"/><rect x="490" y="60.71" width="17" height="17.31" fill="#6f6f6f"/><rect x="73.3" y="405.83" width="20.9" height="14.08" fill="#6f6f6f"/><rect x="93.7" y="77.61" width="15.1" height="12.51" fill="#959595"/><rect x="108.3" y="77.61" width="27.2" height="12.51" fill="#888888"/><rect x="93.7" y="89.7" width="15.1" height="22.53" fill="#888888"/><rect x="135" y="77.61" width="22.1" height="12.51" fill="#7c7c7c"/><rect x="93.7" y="111.81" width="15.1" height="18.3" fill="#7c7c7c"/><rect x="156.6" y="77.61" width="23.9" height="12.51" fill="#6d6d6d"/><rect x="93.7" y="129.7" width="15.1" height="19.79" fill="#6d6d6d"/><rect x="180" y="77.61" width="18.3" height="12.51" fill="#7c7c7c"/><rect x="93.7" y="149.08" width="15.1" height="15.16" fill="#7c7c7c"/><rect x="197.8" y="77.61" width="13.3" height="12.51" fill="#7c7c7c"/><rect x="93.7" y="163.82" width="15.1" height="11.02" fill="#7c7c7c"/><rect x="210.6" y="77.61" width="6.9" height="12.51" fill="#4a4a4a"/><rect x="93.7" y="174.43" width="15.1" height="5.71" fill="#4a4a4a"/><rect x="217" y="77.61" width="21.5" height="12.51" fill="#888888"/><rect x="93.7" y="179.73" width="15.1" height="17.81" fill="#888888"/><rect x="238" y="77.61" width="22.5" height="12.51" fill="#888888"/><rect x="93.7" y="197.12" width="15.1" height="18.64" fill="#888888"/><rect x="260" y="77.61" width="7.5" height="12.51" fill="#3e3e3e"/><rect x="93.7" y="215.34" width="15.1" height="6.21" fill="#3e3e3e"/><rect x="267" y="77.61" width="10.5" height="12.51" fill="#6f6f6f"/><rect x="93.7" y="221.14" width="15.1" height="8.7" fill="#6f6f6f"/><rect x="277" y="77.61" width="28.9" height="12.51" fill="#6f6f6f"/><rect x="93.7" y="229.42" width="15.1" height="23.94" fill="#6f6f6f"/><rect x="305.4" y="77.61" width="30.1" height="12.51" fill="#888888"/><rect x="93.7" y="252.94" width="15.1" height="24.93" fill="#888888"/><rect x="335" y="77.61" width="37.5" height="12.51" fill="#818181"/><rect x="93.7" y="277.46" width="15.1" height="31.06" fill="#818181"/><rect x="372" y="77.61" width="22" height="12.51" fill="#6f6f6f"/><rect x="93.7" y="308.1" width="15.1" height="18.22" fill="#6f6f6f"/><rect x="393.5" y="77.61" width="46" height="12.51" fill="#7c7c7c"/><rect x="93.7" y="325.91" width="15.1" height="38.1" fill="#7c7c7c"/><rect x="439" y="77.61" width="19" height="12.51" fill="#7c7c7c"/><rect x="93.7" y="363.59" width="15.1" height="15.74" fill="#7c7c7c"/><rect x="457.5" y="77.61" width="17.3" height="12.51" fill="#888888"/><rect x="93.7" y="378.92" width="15.1" height="14.33" fill="#888888"/><rect x="474.3" y="77.61" width="16.2" height="12.51" fill="#888888"/><rect x="93.7" y="392.83" width="15.1" height="13.42" fill="#888888"/><rect x="490" y="77.61" width="17" height="12.51" fill="#818181"/><rect x="93.7" y="405.83" width="15.1" height="14.08" fill="#818181"/><rect x="108.3" y="89.7" width="27.2" height="22.53" fill="#d3d3d3"/><rect x="135" y="89.7" width="22.1" height="22.53" fill="#5e5e5e"/><rect x="108.3" y="111.81" width="27.2" height="18.3" fill="#5e5e5e"/><rect x="156.6" y="89.7" width="23.9" height="22.53" fill="#a8a8a8"/><rect x="108.3" y="129.7" width="27.2" height="19.79" fill="#a8a8a8"/><rect x="180" y="89.7" width="18.3" height="22.53" fill="#6f6f6f"/><rect x="108.3" y="149.08" width="27.2" height="15.16" fill="#6f6f6f"/><rect x="197.8" y="89.7" width="13.3" height="22.53" fill="#c6c6c6"/><rect x="108.3" y="163.82" width="27.2" height="11.02" fill="#c6c6c6"/><rect x="210.6" y="89.7" width="6.9" height="22.53" fill="#4a4a4a"/><rect x="108.3" y="174.43" width="27.2" height="5.71" fill="#4a4a4a"/><rect x="217" y="89.7" width="21.5" height="22.53" fill="#888888"/><rect x="108.3" y="179.73" width="27.2" height="17.81" fill="#888888"/><rect x="238" y="89.7" width="22.5" height="22.53" fill="#c6c6c6"/><rect x="108.3" y="197.12" width="27.2" height="18.64" fill="#c6c6c6"/><rect x="260" y="89.7" width="7.5" height="22.53" fill="#3e3e3e"/><rect x="108.3" y="215.34" width="27.2" height="6.21" fill="#3e3e3e"/><rect x="267" y="89.7" width="10.5" height="22.53" fill="#6f6f6f"/><rect x="108.3" y="221.14" width="27.2" height="8.7" fill="#6f6f6f"/><rect x="277" y="89.7" width="28.9" height="22.53" fill="#909090"/><rect x="108.3" y="229.42" width="27.2" height="23.94" fill="#909090"/><rect x="305.4" y="89.7" width="30.1" height="22.53" fill="#747474"/><rect x="108.3" y="252.94" width="27.2" height="24.93" fill="#747474"/><rect x="335" y="89.7" width="37.5" height="22.53" fill="#c1c1c1"/><rect x="108.3" y="277.46" width="27.2" height="31.06" fill="#c1c1c1"/><rect x="372" y="89.7" width="22" height="22.53" fill="#6f6f6f"/><rect x="108.3" y="308.1" width="27.2" height="18.22" fill="#6f6f6f"/><rect x="393.5" y="89.7" width="46" height="22.53" fill="#bababa"/><rect x="108.3" y="325.91" width="27.2" height="38.1" fill="#bababa"/><rect x="439" y="89.7" width="19" height="22.53" fill="#a1a1a1"/><rect x="108.3" y="363.59" width="27.2" height="15.74" fill="#a1a1a1"/><rect x="457.5" y="89.7" width="17.3" height="22.53" fill="#888888"/><rect x="108.3" y="378.92" width="27.2" height="14.33" fill="#888888"/><rect x="474.3" y="89.7" width="16.2" height="22.53" fill="#888888"/><rect x="108.3" y="392.83" width="27.2" height="13.42" fill="#888888"/><rect x="490" y="89.7" width="17" height="22.53" fill="#818181"/><rect x="108.3" y="405.83" width="27.2" height="14.08" fill="#818181"/><rect x="135" y="111.81" width="22.1" height="18.3" fill="#d3d3d3"/><rect x="156.6" y="111.81" width="23.9" height="18.3" fill="#4a4a4a"/><rect x="135" y="129.7" width="22.1" height="19.79" fill="#4a4a4a"/><rect x="180" y="111.81" width="18.3" height="18.3" fill="#888888"/><rect x="135" y="149.08" width="22.1" height="15.16" fill="#888888"/><rect x="197.8" y="111.81" width="13.3" height="18.3" fill="#4a4a4a"/><rect x="135" y="163.82" width="22.1" height="11.02" fill="#4a4a4a"/><rect x="210.6" y="111.81" width="6.9" height="18.3" fill="#3e3e3e"/><rect x="135" y="174.43" width="22.1" height="5.71" fill="#3e3e3e"/><rect x="217" y="111.81" width="21.5" height="18.3" fill="#a1a1a1"/><rect x="135" y="179.73" width="22.1" height="17.81" fill="#a1a1a1"/><rect x="238" y="111.81" width="22.5" height="18.3" fill="#575757"/><rect x="135" y="197.12" width="22.1" height="18.64" fill="#575757"/><rect x="260" y="111.81" width="7.5" height="18.3" fill="#4a4a4a"/><rect x="135" y="215.34" width="22.1" height="6.21" fill="#4a4a4a"/><rect x="267" y="111.81" width="10.5" height="18.3" fill="#636363"/><rect x="135" y="221.14" width="22.1" height="8.7" fill="#636363"/><rect x="277" y="111.81" width="28.9" height="18.3" fill="#6f6f6f"/><rect x="135" y="229.42" width="22.1" height="23.94" fill="#6f6f6f"/><rect x="305.4" y="111.81" width="30.1" height="18.3" fill="#6f6f6f"/><rect x="135" y="252.94" width="22.1" height="24.93" fill="#6f6f6f"/><rect x="335" y="111.81" width="37.5" height="18.3" fill="#636363"/><rect x="135" y="277.46" width="22.1" height="31.06" fill="#636363"/><rect x="372" y="111.81" width="22" height="18.3" fill="#818181"/><rect x="135" y="308.1" width="22.1" height="18.22" fill="#818181"/><rect x="393.5" y="111.81" width="46" height="18.3" fill="#6f6f6f"/><rect x="135" y="325.91" width="22.1" height="38.1" fill="#6f6f6f"/><rect x="439" y="111.81" width="19" height="18.3" fill="#636363"/><rect x="135" y="363.59" width="22.1" height="15.74" fill="#636363"/><rect x="457.5" y="111.81" width="17.3" height="18.3" fill="#636363"/><rect x="135" y="378.92" width="22.1" height="14.33" fill="#636363"/><rect x="474.3" y="111.81" width="16.2" height="18.3" fill="#959595"/><rect x="135" y="392.83" width="22.1" height="13.42" fill="#959595"/><rect x="490" y="111.81" width="17" height="18.3" fill="#636363"/><rect x="135" y="405.83" width="22.1" height="14.08" fill="#636363"/><rect x="156.6" y="129.7" width="23.9" height="19.79" fill="#bababa"/><rect x="180" y="129.7" width="18.3" height="19.79" fill="#575757"/><rect x="156.6" y="149.08" width="23.9" height="15.16" fill="#575757"/><rect x="197.8" y="129.7" width="13.3" height="19.79" fill="#888888"/><rect x="156.6" y="163.82" width="23.9" height="11.02" fill="#888888"/><rect x="210.6" y="129.7" width="6.9" height="19.79" fill="#3e3e3e"/><rect x="156.6" y="174.43" width="23.9" height="5.71" fill="#3e3e3e"/><rect x="217" y="129.7" width="21.5" height="19.79" fill="#6f6f6f"/><rect x="156.6" y="179.73" width="23.9" height="17.81" fill="#6f6f6f"/><rect x="238" y="129.7" width="22.5" height="19.79" fill="#959595"/><rect x="156.6" y="197.12" width="23.9" height="18.64" fill="#959595"/><rect x="260" y="129.7" width="7.5" height="19.79" fill="#252525"/><rect x="156.6" y="215.34" width="23.9" height="6.21" fill="#252525"/><rect x="267" y="129.7" width="10.5" height="19.79" fill="#636363"/><rect x="156.6" y="221.14" width="23.9" height="8.7" fill="#636363"/><rect x="277" y="129.7" width="28.9" height="19.79" fill="#575757"/><rect x="156.6" y="229.42" width="23.9" height="23.94" fill="#575757"/><rect x="305.4" y="129.7" width="30.1" height="19.79" fill="#4a4a4a"/><rect x="156.6" y="252.94" width="23.9" height="24.93" fill="#4a4a4a"/><rect x="335" y="129.7" width="37.5" height="19.79" fill="#959595"/><rect x="156.6" y="277.46" width="23.9" height="31.06" fill="#959595"/><rect x="372" y="129.7" width="22" height="19.79" fill="#3e3e3e"/><rect x="156.6" y="308.1" width="23.9" height="18.22" fill="#3e3e3e"/><rect x="393.5" y="129.7" width="46" height="19.79" fill="#888888"/><rect x="156.6" y="325.91" width="23.9" height="38.1" fill="#888888"/><rect x="439" y="129.7" width="19" height="19.79" fill="#7c7c7c"/><rect x="156.6" y="363.59" width="23.9" height="15.74" fill="#7c7c7c"/><rect x="457.5" y="129.7" width="17.3" height="19.79" fill="#7c7c7c"/><rect x="156.6" y="378.92" width="23.9" height="14.33" fill="#7c7c7c"/><rect x="474.3" y="129.7" width="16.2" height="19.79" fill="#7c7c7c"/><rect x="156.6" y="392.83" width="23.9" height="13.42" fill="#7c7c7c"/><rect x="490" y="129.7" width="17" height="19.79" fill="#777777"/><rect x="156.6" y="405.83" width="23.9" height="14.08" fill="#777777"/><rect x="180" y="149.08" width="18.3" height="15.16" fill="#a1a1a1"/><rect x="197.8" y="149.08" width="13.3" height="15.16" fill="#575757"/><rect x="180" y="163.82" width="18.3" height="11.02" fill="#575757"/><rect x="210.6" y="149.08" width="6.9" height="15.16" fill="#4a4a4a"/><rect x="180" y="174.43" width="18.3" height="5.71" fill="#4a4a4a"/><rect x="217" y="149.08" width="21.5" height="15.16" fill="#7c7c7c"/><rect x="180" y="179.73" width="18.3" height="17.81" fill="#7c7c7c"/><rect x="238" y="149.08" width="22.5" height="15.16" fill="#636363"/><rect x="180" y="197.12" width="18.3" height="18.64" fill="#636363"/><rect x="260" y="149.08" width="7.5" height="15.16" fill="#4a4a4a"/><rect x="180" y="215.34" width="18.3" height="6.21" fill="#4a4a4a"/><rect x="267" y="149.08" width="10.5" height="15.16" fill="#636363"/><rect x="180" y="221.14" width="18.3" height="8.7" fill="#636363"/><rect x="277" y="149.08" width="28.9" height="15.16" fill="#747474"/><rect x="180" y="229.42" width="18.3" height="23.94" fill="#747474"/><rect x="305.4" y="149.08" width="30.1" height="15.16" fill="#888888"/><rect x="180" y="252.94" width="18.3" height="24.93" fill="#888888"/><rect x="335" y="149.08" width="37.5" height="15.16" fill="#636363"/><rect x="180" y="277.46" width="18.3" height="31.06" fill="#636363"/><rect x="372" y="149.08" width="22" height="15.16" fill="#636363"/><rect x="180" y="308.1" width="18.3" height="18.22" fill="#636363"/><rect x="393.5" y="149.08" width="46" height="15.16" fill="#6f6f6f"/><rect x="180" y="325.91" width="18.3" height="38.1" fill="#6f6f6f"/><rect x="439" y="149.08" width="19" height="15.16" fill="#4f4f4f"/><rect x="180" y="363.59" width="18.3" height="15.74" fill="#4f4f4f"/><rect x="457.5" y="149.08" width="17.3" height="15.16" fill="#7c7c7c"/><rect x="180" y="378.92" width="18.3" height="14.33" fill="#7c7c7c"/><rect x="474.3" y="149.08" width="16.2" height="15.16" fill="#7c7c7c"/><rect x="180" y="392.83" width="18.3" height="13.42" fill="#7c7c7c"/><rect x="490" y="149.08" width="17" height="15.16" fill="#777777"/><rect x="180" y="405.83" width="18.3" height="14.08" fill="#777777"/><rect x="197.8" y="163.82" width="13.3" height="11.02" fill="#d3d3d3"/><rect x="210.6" y="163.82" width="6.9" height="11.02" fill="#4a4a4a"/><rect x="197.8" y="174.43" width="13.3" height="5.71" fill="#4a4a4a"/><rect x="217" y="163.82" width="21.5" height="11.02" fill="#7c7c7c"/><rect x="197.8" y="179.73" width="13.3" height="17.81" fill="#7c7c7c"/><rect x="238" y="163.82" width="22.5" height="11.02" fill="#bababa"/><rect x="197.8" y="197.12" width="13.3" height="18.64" fill="#bababa"/><rect x="260" y="163.82" width="7.5" height="11.02" fill="#191919"/><rect x="197.8" y="215.34" width="13.3" height="6.21" fill="#191919"/><rect x="267" y="163.82" width="10.5" height="11.02" fill="#636363"/><rect x="197.8" y="221.14" width="13.3" height="8.7" fill="#636363"/><rect x="277" y="163.82" width="28.9" height="11.02" fill="#777777"/><rect x="197.8" y="229.42" width="13.3" height="23.94" fill="#777777"/><rect x="305.4" y="163.82" width="30.1" height="11.02" fill="#575757"/><rect x="197.8" y="252.94" width="13.3" height="24.93" fill="#575757"/><rect x="335" y="163.82" width="37.5" height="11.02" fill="#a8a8a8"/><rect x="197.8" y="277.46" width="13.3" height="31.06" fill="#a8a8a8"/><rect x="372" y="163.82" width="22" height="11.02" fill="#575757"/><rect x="197.8" y="308.1" width="13.3" height="18.22" fill="#575757"/><rect x="393.5" y="163.82" width="46" height="11.02" fill="#a1a1a1"/><rect x="197.8" y="325.91" width="13.3" height="38.1" fill="#a1a1a1"/><rect x="439" y="163.82" width="19" height="11.02" fill="#9a9a9a"/><rect x="197.8" y="363.59" width="13.3" height="15.74" fill="#9a9a9a"/><rect x="457.5" y="163.82" width="17.3" height="11.02" fill="#7c7c7c"/><rect x="197.8" y="378.92" width="13.3" height="14.33" fill="#7c7c7c"/><rect x="474.3" y="163.82" width="16.2" height="11.02" fill="#7c7c7c"/><rect x="197.8" y="392.83" width="13.3" height="13.42" fill="#7c7c7c"/><rect x="490" y="163.82" width="17" height="11.02" fill="#777777"/><rect x="197.8" y="405.83" width="13.3" height="14.08" fill="#777777"/><rect x="210.6" y="174.43" width="6.9" height="5.71" fill="#4a4a4a"/><rect x="217" y="174.43" width="21.5" height="5.71" fill="#4a4a4a"/><rect x="210.6" y="179.73" width="6.9" height="17.81" fill="#4a4a4a"/><rect x="238" y="174.43" width="22.5" height="5.71" fill="#4a4a4a"/><rect x="210.6" y="197.12" width="6.9" height="18.64" fill="#4a4a4a"/><rect x="260" y="174.43" width="7.5" height="5.71" fill="#323232"/><rect x="210.6" y="215.34" width="6.9" height="6.21" fill="#323232"/><rect x="267" y="174.43" width="10.5" height="5.71" fill="#4a4a4a"/><rect x="210.6" y="221.14" width="6.9" height="8.7" fill="#4a4a4a"/><rect x="277" y="174.43" width="28.9" height="5.71" fill="#4a4a4a"/><rect x="210.6" y="229.42" width="6.9" height="23.94" fill="#4a4a4a"/><rect x="305.4" y="174.43" width="30.1" height="5.71" fill="#4a4a4a"/><rect x="210.6" y="252.94" width="6.9" height="24.93" fill="#4a4a4a"/><rect x="335" y="174.43" width="37.5" height="5.71" fill="#4a4a4a"/><rect x="210.6" y="277.46" width="6.9" height="31.06" fill="#4a4a4a"/><rect x="372" y="174.43" width="22" height="5.71" fill="#4a4a4a"/><rect x="210.6" y="308.1" width="6.9" height="18.22" fill="#4a4a4a"/><rect x="393.5" y="174.43" width="46" height="5.71" fill="#4a4a4a"/><rect x="210.6" y="325.91" width="6.9" height="38.1" fill="#4a4a4a"/><rect x="439" y="174.43" width="19" height="5.71" fill="#4a4a4a"/><rect x="210.6" y="363.59" width="6.9" height="15.74" fill="#4a4a4a"/><rect x="457.5" y="174.43" width="17.3" height="5.71" fill="#4a4a4a"/><rect x="210.6" y="378.92" width="6.9" height="14.33" fill="#4a4a4a"/><rect x="474.3" y="174.43" width="16.2" height="5.71" fill="#4a4a4a"/><rect x="210.6" y="392.83" width="6.9" height="13.42" fill="#4a4a4a"/><rect x="490" y="174.43" width="17" height="5.71" fill="#4a4a4a"/><rect x="210.6" y="405.83" width="6.9" height="14.08" fill="#4a4a4a"/><rect x="217" y="179.73" width="21.5" height="17.81" fill="#a1a1a1"/><rect x="238" y="179.73" width="22.5" height="17.81" fill="#7c7c7c"/><rect x="217" y="197.12" width="21.5" height="18.64" fill="#7c7c7c"/><rect x="260" y="179.73" width="7.5" height="17.81" fill="#4a4a4a"/><rect x="217" y="215.34" width="21.5" height="6.21" fill="#4a4a4a"/><rect x="267" y="179.73" width="10.5" height="17.81" fill="#7c7c7c"/><rect x="217" y="221.14" width="21.5" height="8.7" fill="#7c7c7c"/><rect x="277" y="179.73" width="28.9" height="17.81" fill="#7c7c7c"/><rect x="217" y="229.42" width="21.5" height="23.94" fill="#7c7c7c"/><rect x="305.4" y="179.73" width="30.1" height="17.81" fill="#7c7c7c"/><rect x="217" y="252.94" width="21.5" height="24.93" fill="#7c7c7c"/><rect x="335" y="179.73" width="37.5" height="17.81" fill="#888888"/><rect x="217" y="277.46" width="21.5" height="31.06" fill="#888888"/><rect x="372" y="179.73" width="22" height="17.81" fill="#7c7c7c"/><rect x="217" y="308.1" width="21.5" height="18.22" fill="#7c7c7c"/><rect x="393.5" y="179.73" width="46" height="17.81" fill="#888888"/><rect x="217" y="325.91" width="21.5" height="38.1" fill="#888888"/><rect x="439" y="179.73" width="19" height="17.81" fill="#7c7c7c"/><rect x="217" y="363.59" width="21.5" height="15.74" fill="#7c7c7c"/><rect x="457.5" y="179.73" width="17.3" height="17.81" fill="#888888"/><rect x="217" y="378.92" width="21.5" height="14.33" fill="#888888"/><rect x="474.3" y="179.73" width="16.2" height="17.81" fill="#a1a1a1"/><rect x="217" y="392.83" width="21.5" height="13.42" fill="#a1a1a1"/><rect x="490" y="179.73" width="17" height="17.81" fill="#818181"/><rect x="217" y="405.83" width="21.5" height="14.08" fill="#818181"/><rect x="238" y="197.12" width="22.5" height="18.64" fill="#d3d3d3"/><rect x="260" y="197.12" width="7.5" height="18.64" fill="#252525"/><rect x="238" y="215.34" width="22.5" height="6.21" fill="#252525"/><rect x="267" y="197.12" width="10.5" height="18.64" fill="#6f6f6f"/><rect x="238" y="221.14" width="22.5" height="8.7" fill="#6f6f6f"/><rect x="277" y="197.12" width="28.9" height="18.64" fill="#818181"/><rect x="238" y="229.42" width="22.5" height="23.94" fill="#818181"/><rect x="305.4" y="197.12" width="30.1" height="18.64" fill="#636363"/><rect x="238" y="252.94" width="22.5" height="24.93" fill="#636363"/><rect x="335" y="197.12" width="37.5" height="18.64" fill="#bababa"/><rect x="238" y="277.46" width="22.5" height="31.06" fill="#bababa"/><rect x="372" y="197.12" width="22" height="18.64" fill="#636363"/><rect x="238" y="308.1" width="22.5" height="18.22" fill="#636363"/><rect x="393.5" y="197.12" width="46" height="18.64" fill="#b2b2b2"/><rect x="238" y="325.91" width="22.5" height="38.1" fill="#b2b2b2"/><rect x="439" y="197.12" width="19" height="18.64" fill="#adadad"/><rect x="238" y="363.59" width="22.5" height="15.74" fill="#adadad"/><rect x="457.5" y="197.12" width="17.3" height="18.64" fill="#888888"/><rect x="238" y="378.92" width="22.5" height="14.33" fill="#888888"/><rect x="474.3" y="197.12" width="16.2" height="18.64" fill="#888888"/><rect x="238" y="392.83" width="22.5" height="13.42" fill="#888888"/><rect x="490" y="197.12" width="17" height="18.64" fill="#818181"/><rect x="238" y="405.83" width="22.5" height="14.08" fill="#818181"/><rect x="260" y="215.34" width="7.5" height="6.21" fill="#575757"/><rect x="267" y="215.34" width="10.5" height="6.21" fill="#4a4a4a"/><rect x="260" y="221.14" width="7.5" height="8.7" fill="#4a4a4a"/><rect x="277" y="215.34" width="28.9" height="6.21" fill="#4a4a4a"/><rect x="260" y="229.42" width="7.5" height="23.94" fill="#4a4a4a"/><rect x="305.4" y="215.34" width="30.1" height="6.21" fill="#4a4a4a"/><rect x="260" y="252.94" width="7.5" height="24.93" fill="#4a4a4a"/><rect x="335" y="215.34" width="37.5" height="6.21" fill="#252525"/><rect x="260" y="277.46" width="7.5" height="31.06" fill="#252525"/><rect x="372" y="215.34" width="22" height="6.21" fill="#575757"/><rect x="260" y="308.1" width="7.5" height="18.22" fill="#575757"/><rect x="393.5" y="215.34" width="46" height="6.21" fill="#4a4a4a"/><rect x="260" y="325.91" width="7.5" height="38.1" fill="#4a4a4a"/><rect x="439" y="215.34" width="19" height="6.21" fill="#323232"/><rect x="260" y="363.59" width="7.5" height="15.74" fill="#323232"/><rect x="457.5" y="215.34" width="17.3" height="6.21" fill="#323232"/><rect x="260" y="378.92" width="7.5" height="14.33" fill="#323232"/><rect x="474.3" y="215.34" width="16.2" height="6.21" fill="#323232"/><rect x="260" y="392.83" width="7.5" height="13.42" fill="#323232"/><rect x="490" y="215.34" width="17" height="6.21" fill="#323232"/><rect x="260" y="405.83" width="7.5" height="14.08" fill="#323232"/><rect x="267" y="221.14" width="10.5" height="8.7" fill="#959595"/><rect x="277" y="221.14" width="28.9" height="8.7" fill="#7c7c7c"/><rect x="267" y="229.42" width="10.5" height="23.94" fill="#7c7c7c"/><rect x="305.4" y="221.14" width="30.1" height="8.7" fill="#6f6f6f"/><rect x="267" y="252.94" width="10.5" height="24.93" fill="#6f6f6f"/><rect x="335" y="221.14" width="37.5" height="8.7" fill="#7c7c7c"/><rect x="267" y="277.46" width="10.5" height="31.06" fill="#7c7c7c"/><rect x="372" y="221.14" width="22" height="8.7" fill="#7c7c7c"/><rect x="267" y="308.1" width="10.5" height="18.22" fill="#7c7c7c"/><rect x="393.5" y="221.14" width="46" height="8.7" fill="#7c7c7c"/><rect x="267" y="325.91" width="10.5" height="38.1" fill="#7c7c7c"/><rect x="439" y="221.14" width="19" height="8.7" fill="#6f6f6f"/><rect x="267" y="363.59" width="10.5" height="15.74" fill="#6f6f6f"/><rect x="457.5" y="221.14" width="17.3" height="8.7" fill="#7c7c7c"/><rect x="267" y="378.92" width="10.5" height="14.33" fill="#7c7c7c"/><rect x="474.3" y="221.14" width="16.2" height="8.7" fill="#7c7c7c"/><rect x="267" y="392.83" width="10.5" height="13.42" fill="#7c7c7c"/><rect x="490" y="221.14" width="17" height="8.7" fill="#7c7c7c"/><rect x="267" y="405.83" width="10.5" height="14.08" fill="#7c7c7c"/><rect x="277" y="229.42" width="28.9" height="23.94" fill="#909090"/><rect x="305.4" y="229.42" width="30.1" height="23.94" fill="#7c7c7c"/><rect x="277" y="252.94" width="28.9" height="24.93" fill="#7c7c7c"/><rect x="335" y="229.42" width="37.5" height="23.94" fill="#888888"/><rect x="277" y="277.46" width="28.9" height="31.06" fill="#888888"/><rect x="372" y="229.42" width="22" height="23.94" fill="#7c7c7c"/><rect x="277" y="308.1" width="28.9" height="18.22" fill="#7c7c7c"/><rect x="393.5" y="229.42" width="46" height="23.94" fill="#888888"/><rect x="277" y="325.91" width="28.9" height="38.1" fill="#888888"/><rect x="439" y="229.42" width="19" height="23.94" fill="#7c7c7c"/><rect x="277" y="363.59" width="28.9" height="15.74" fill="#7c7c7c"/><rect x="457.5" y="229.42" width="17.3" height="23.94" fill="#959595"/><rect x="277" y="378.92" width="28.9" height="14.33" fill="#959595"/><rect x="474.3" y="229.42" width="16.2" height="23.94" fill="#909090"/><rect x="277" y="392.83" width="28.9" height="13.42" fill="#909090"/><rect x="490" y="229.42" width="17" height="23.94" fill="#888888"/><rect x="277" y="405.83" width="28.9" height="14.08" fill="#888888"/><rect x="305.4" y="252.94" width="30.1" height="24.93" fill="#9a9a9a"/><rect x="335" y="252.94" width="37.5" height="24.93" fill="#636363"/><rect x="305.4" y="277.46" width="30.1" height="31.06" fill="#636363"/><rect x="372" y="252.94" width="22" height="24.93" fill="#636363"/><rect x="305.4" y="308.1" width="30.1" height="18.22" fill="#636363"/><rect x="393.5" y="252.94" width="46" height="24.93" fill="#686868"/><rect x="305.4" y="325.91" width="30.1" height="38.1" fill="#686868"/><rect x="439" y="252.94" width="19" height="24.93" fill="#4a4a4a"/><rect x="305.4" y="363.59" width="30.1" height="15.74" fill="#4a4a4a"/><rect x="457.5" y="252.94" width="17.3" height="24.93" fill="#888888"/><rect x="305.4" y="378.92" width="30.1" height="14.33" fill="#888888"/><rect x="474.3" y="252.94" width="16.2" height="24.93" fill="#7c7c7c"/><rect x="305.4" y="392.83" width="30.1" height="13.42" fill="#7c7c7c"/><rect x="490" y="252.94" width="17" height="24.93" fill="#777777"/><rect x="305.4" y="405.83" width="30.1" height="14.08" fill="#777777"/><rect x="335" y="277.46" width="37.5" height="31.06" fill="#c1c1c1"/><rect x="372" y="277.46" width="22" height="31.06" fill="#636363"/><rect x="335" y="308.1" width="37.5" height="18.22" fill="#636363"/><rect x="393.5" y="277.46" width="46" height="31.06" fill="#b2b2b2"/><rect x="335" y="325.91" width="37.5" height="38.1" fill="#b2b2b2"/><rect x="439" y="277.46" width="19" height="31.06" fill="#a8a8a8"/><rect x="335" y="363.59" width="37.5" height="15.74" fill="#a8a8a8"/><rect x="457.5" y="277.46" width="17.3" height="31.06" fill="#909090"/><rect x="335" y="378.92" width="37.5" height="14.33" fill="#909090"/><rect x="474.3" y="277.46" width="16.2" height="31.06" fill="#909090"/><rect x="335" y="392.83" width="37.5" height="13.42" fill="#909090"/><rect x="490" y="277.46" width="17" height="31.06" fill="#888888"/><rect x="335" y="405.83" width="37.5" height="14.08" fill="#888888"/><rect x="372" y="308.1" width="22" height="18.22" fill="#959595"/><rect x="393.5" y="308.1" width="46" height="18.22" fill="#6f6f6f"/><rect x="372" y="325.91" width="22" height="38.1" fill="#6f6f6f"/><rect x="439" y="308.1" width="19" height="18.22" fill="#636363"/><rect x="372" y="363.59" width="22" height="15.74" fill="#636363"/><rect x="457.5" y="308.1" width="17.3" height="18.22" fill="#6f6f6f"/><rect x="372" y="378.92" width="22" height="14.33" fill="#6f6f6f"/><rect x="474.3" y="308.1" width="16.2" height="18.22" fill="#6f6f6f"/><rect x="372" y="392.83" width="22" height="13.42" fill="#6f6f6f"/><rect x="490" y="308.1" width="17" height="18.22" fill="#686868"/><rect x="372" y="405.83" width="22" height="14.08" fill="#686868"/><rect x="393.5" y="325.91" width="46" height="38.1" fill="#b2b2b2"/><rect x="439" y="325.91" width="19" height="38.1" fill="#adadad"/><rect x="393.5" y="363.59" width="46" height="15.74" fill="#adadad"/><rect x="457.5" y="325.91" width="17.3" height="38.1" fill="#909090"/><rect x="393.5" y="378.92" width="46" height="14.33" fill="#909090"/><rect x="474.3" y="325.91" width="16.2" height="38.1" fill="#909090"/><rect x="393.5" y="392.83" width="46" height="13.42" fill="#909090"/><rect x="490" y="325.91" width="17" height="38.1" fill="#888888"/><rect x="393.5" y="405.83" width="46" height="14.08" fill="#888888"/><rect x="439" y="363.59" width="19" height="15.74" fill="#c6c6c6"/><rect x="457.5" y="363.59" width="17.3" height="15.74" fill="#888888"/><rect x="439" y="378.92" width="19" height="14.33" fill="#888888"/><rect x="474.3" y="363.59" width="16.2" height="15.74" fill="#adadad"/><rect x="439" y="392.83" width="19" height="13.42" fill="#adadad"/><rect x="490" y="363.59" width="17" height="15.74" fill="#7c7c7c"/><rect x="439" y="405.83" width="19" height="14.08" fill="#7c7c7c"/><rect x="457.5" y="378.92" width="17.3" height="14.33" fill="#959595"/><rect x="474.3" y="378.92" width="16.2" height="14.33" fill="#888888"/><rect x="457.5" y="392.83" width="17.3" height="13.42" fill="#888888"/><rect x="490" y="378.92" width="17" height="14.33" fill="#818181"/><rect x="457.5" y="405.83" width="17.3" height="14.08" fill="#818181"/><rect x="474.3" y="392.83" width="16.2" height="13.42" fill="#c6c6c6"/><rect x="490" y="392.83" width="17" height="13.42" fill="#7c7c7c"/><rect x="474.3" y="405.83" width="16.2" height="14.08" fill="#7c7c7c"/><rect x="490" y="405.83" width="17" height="14.08" fill="#818181"/><g style="mix-blend-mode:multiply"><rect x="0" width="1.78" height="419.5" fill="#f0f0f0"/><rect x="1.08" width="1.78" height="419.5" fill="#ffffff"/><rect x="2.16" width="1.78" height="419.5" fill="#fcfcfc"/><rect x="3.24" width="1.78" height="419.5" fill="#d6d6d6"/><rect x="4.32" width="1.78" height="419.5" fill="#e8e8e8"/><rect x="5.4" width="6.1" height="419.5" fill="#ffffff"/><rect x="10.8" width="1.78" height="419.5" fill="#fcfcfc"/><rect x="11.88" width="1.78" height="419.5" fill="#ffffff"/><rect x="12.96" width="1.78" height="419.5" fill="#fcfcfc"/><rect x="14.04" width="6.1" height="419.5" fill="#ffffff"/><rect x="19.44" width="1.78" height="419.5" fill="#fcfcfc"/><rect x="20.52" width="1.78" height="419.5" fill="#e8e8e8"/><rect x="21.6" width="8.26" height="419.5" fill="#ffffff"/><rect x="29.16" width="1.78" height="419.5" fill="#f5f5f5"/><rect x="30.24" width="1.78" height="419.5" fill="#ffffff"/><rect x="31.32" width="1.78" height="419.5" fill="#fafafa"/><rect x="32.4" width="1.78" height="419.5" fill="#f5f5f5"/><rect x="33.48" width="1.78" height="419.5" fill="#fafafa"/><rect x="34.56" width="1.78" height="419.5" fill="#dbdbdb"/><rect x="35.64" width="1.78" height="419.5" fill="#ffffff"/><rect x="36.72" width="1.78" height="419.5" fill="#bfbfbf"/><rect x="37.8" width="1.78" height="419.5" fill="#e6e6e6"/><rect x="38.88" width="1.78" height="419.5" fill="#dedede"/><rect x="39.96" width="2.86" height="419.5" fill="#e6e6e6"/><rect x="42.12" width="1.78" height="419.5" fill="#e8e8e8"/><rect x="43.2" width="2.86" height="419.5" fill="#f0f0f0"/><rect x="45.36" width="1.78" height="419.5" fill="#e6e6e6"/><rect x="46.44" width="1.78" height="419.5" fill="#e3e3e3"/><rect x="47.52" width="1.78" height="419.5" fill="#d6d6d6"/><rect x="48.6" width="1.78" height="419.5" fill="#e6e6e6"/><rect x="49.68" width="1.78" height="419.5" fill="#c4c4c4"/><rect x="50.76" width="1.78" height="419.5" fill="#f0f0f0"/><rect x="51.84" width="1.78" height="419.5" fill="#e8e8e8"/><rect x="52.92" width="5.02" height="419.5" fill="#ebebeb"/><rect x="57.24" width="1.78" height="419.5" fill="#ededed"/><rect x="58.32" width="1.78" height="419.5" fill="#d4d4d4"/><rect x="59.4" width="1.78" height="419.5" fill="#ebebeb"/><rect x="60.48" width="1.78" height="419.5" fill="#f2f2f2"/><rect x="61.56" width="1.78" height="419.5" fill="#fafafa"/><rect x="62.64" width="1.78" height="419.5" fill="#bfbfbf"/><rect x="63.72" width="1.78" height="419.5" fill="#f2f2f2"/><rect x="64.8" width="2.86" height="419.5" fill="#f7f7f7"/><rect x="66.96" width="1.78" height="419.5" fill="#fcfcfc"/><rect x="68.04" width="1.78" height="419.5" fill="#9e9e9e"/><rect x="69.12" width="1.78" height="419.5" fill="#ffffff"/><rect x="70.2" width="2.86" height="419.5" fill="#bfbfbf"/><rect x="72.36" width="1.78" height="419.5" fill="#f7f7f7"/><rect x="73.44" width="1.78" height="419.5" fill="#fafafa"/><rect x="74.52" width="1.78" height="419.5" fill="#f7f7f7"/><rect x="75.6" width="1.78" height="419.5" fill="#f2f2f2"/><rect x="76.68" width="1.78" height="419.5" fill="#fcfcfc"/><rect x="77.76" width="2.86" height="419.5" fill="#f5f5f5"/><rect x="79.92" width="1.78" height="419.5" fill="#e3e3e3"/><rect x="81" width="1.78" height="419.5" fill="#f5f5f5"/><rect x="82.08" width="2.86" height="419.5" fill="#f7f7f7"/><rect x="84.24" width="1.78" height="419.5" fill="#f5f5f5"/><rect x="85.32" width="1.78" height="419.5" fill="#fafafa"/><rect x="86.4" width="1.78" height="419.5" fill="#f7f7f7"/><rect x="87.48" width="1.78" height="419.5" fill="#dbdbdb"/><rect x="88.56" width="1.78" height="419.5" fill="#f5f5f5"/><rect x="89.64" width="1.78" height="419.5" fill="#fcfcfc"/><rect x="90.72" width="1.78" height="419.5" fill="#e0e0e0"/><rect x="91.8" width="1.78" height="419.5" fill="#fafafa"/><rect x="92.88" width="1.78" height="419.5" fill="#f7f7f7"/><rect x="93.96" width="1.78" height="419.5" fill="#e0e0e0"/><rect x="95.04" width="1.78" height="419.5" fill="#f5f5f5"/><rect x="96.12" width="2.86" height="419.5" fill="#f7f7f7"/><rect x="98.28" width="1.78" height="419.5" fill="#f5f5f5"/><rect x="99.36" width="1.78" height="419.5" fill="#d6d6d6"/><rect x="100.44" width="2.86" height="419.5" fill="#ffffff"/><rect x="102.6" width="1.78" height="419.5" fill="#f5f5f5"/><rect x="103.68" width="1.78" height="419.5" fill="#fcfcfc"/><rect x="104.76" width="1.78" height="419.5" fill="#fafafa"/><rect x="105.84" width="1.78" height="419.5" fill="#e0e0e0"/><rect x="106.92" width="1.78" height="419.5" fill="#dbdbdb"/><rect x="108" width="1.78" height="419.5" fill="#f5f5f5"/><rect x="109.08" width="1.78" height="419.5" fill="#f2f2f2"/><rect x="110.16" width="1.78" height="419.5" fill="#fafafa"/><rect x="111.24" width="1.78" height="419.5" fill="#fcfcfc"/><rect x="112.32" width="1.78" height="419.5" fill="#fafafa"/><rect x="113.4" width="1.78" height="419.5" fill="#c9c9c9"/><rect x="114.48" width="1.78" height="419.5" fill="#e0e0e0"/><rect x="115.56" width="1.78" height="419.5" fill="#fafafa"/><rect x="116.64" width="1.78" height="419.5" fill="#ffffff"/><rect x="117.72" width="1.78" height="419.5" fill="#f7f7f7"/><rect x="118.8" width="1.78" height="419.5" fill="#f0f0f0"/><rect x="119.88" width="1.78" height="419.5" fill="#fcfcfc"/><rect x="120.96" width="1.78" height="419.5" fill="#f5f5f5"/><rect x="122.04" width="1.78" height="419.5" fill="#fcfcfc"/><rect x="123.12" width="1.78" height="419.5" fill="#ededed"/><rect x="124.2" width="1.78" height="419.5" fill="#fcfcfc"/><rect x="125.28" width="1.78" height="419.5" fill="#f2f2f2"/><rect x="126.36" width="1.78" height="419.5" fill="#fcfcfc"/><rect x="127.44" width="1.78" height="419.5" fill="#ababab"/><rect x="128.52" width="1.78" height="419.5" fill="#e6e6e6"/><rect x="129.6" width="1.78" height="419.5" fill="#f7f7f7"/><rect x="130.68" width="1.78" height="419.5" fill="#f2f2f2"/><rect x="131.76" width="1.78" height="419.5" fill="#a1a1a1"/><rect x="132.84" width="1.78" height="419.5" fill="#dbdbdb"/><rect x="133.92" width="2.86" height="419.5" fill="#999999"/><rect x="136.08" width="1.78" height="419.5" fill="#f7f7f7"/><rect x="137.16" width="1.78" height="419.5" fill="#fafafa"/><rect x="138.24" width="1.78" height="419.5" fill="#f7f7f7"/><rect x="139.32" width="1.78" height="419.5" fill="#e0e0e0"/><rect x="140.4" width="1.78" height="419.5" fill="#e8e8e8"/><rect x="141.48" width="1.78" height="419.5" fill="#f7f7f7"/><rect x="142.56" width="1.78" height="419.5" fill="#a3a3a3"/><rect x="143.64" width="1.78" height="419.5" fill="#fafafa"/><rect x="144.72" width="1.78" height="419.5" fill="#f7f7f7"/><rect x="145.8" width="1.78" height="419.5" fill="#fafafa"/><rect x="146.88" width="1.78" height="419.5" fill="#f7f7f7"/><rect x="147.96" width="1.78" height="419.5" fill="#fcfcfc"/><rect x="149.04" width="1.78" height="419.5" fill="#fafafa"/><rect x="150.12" width="1.78" height="419.5" fill="#f5f5f5"/><rect x="151.2" width="1.78" height="419.5" fill="#fafafa"/><rect x="152.28" width="1.78" height="419.5" fill="#b5b5b5"/><rect x="153.36" width="1.78" height="419.5" fill="#fcfcfc"/><rect x="154.44" width="1.78" height="419.5" fill="#f7f7f7"/><rect x="155.52" width="1.78" height="419.5" fill="#fcfcfc"/><rect x="156.6" width="1.78" height="419.5" fill="#c4c4c4"/><rect x="157.68" width="1.78" height="419.5" fill="#cccccc"/><rect x="158.76" width="1.78" height="419.5" fill="#dbdbdb"/><rect x="159.84" width="1.78" height="419.5" fill="#d9d9d9"/><rect x="160.92" width="1.78" height="419.5" fill="#d6d6d6"/><rect x="162" width="2.86" height="419.5" fill="#a3a3a3"/><rect x="164.16" width="1.78" height="419.5" fill="#f2f2f2"/><rect x="165.24" width="1.78" height="419.5" fill="#9e9e9e"/><rect x="166.32" width="1.78" height="419.5" fill="#f5f5f5"/><rect x="167.4" width="1.78" height="419.5" fill="#cfcfcf"/><rect x="168.48" width="1.78" height="419.5" fill="#ededed"/><rect x="169.56" width="1.78" height="419.5" fill="#fcfcfc"/><rect x="170.64" width="1.78" height="419.5" fill="#fafafa"/><rect x="171.72" width="1.78" height="419.5" fill="#f2f2f2"/><rect x="172.8" width="1.78" height="419.5" fill="#fafafa"/><rect x="173.88" width="1.78" height="419.5" fill="#f5f5f5"/><rect x="174.96" width="1.78" height="419.5" fill="#ffffff"/><rect x="176.04" width="1.78" height="419.5" fill="#adadad"/><rect x="177.12" width="1.78" height="419.5" fill="#fcfcfc"/><rect x="178.2" width="1.78" height="419.5" fill="#dedede"/><rect x="179.28" width="1.78" height="419.5" fill="#e8e8e8"/><rect x="180.36" width="3.94" height="419.5" fill="#f7f7f7"/><rect x="183.6" width="1.78" height="419.5" fill="#bababa"/><rect x="184.68" width="1.78" height="419.5" fill="#f7f7f7"/><rect x="185.76" width="1.78" height="419.5" fill="#f5f5f5"/><rect x="186.84" width="1.78" height="419.5" fill="#fcfcfc"/><rect x="187.92" width="2.86" height="419.5" fill="#fafafa"/><rect x="190.08" width="1.78" height="419.5" fill="#f5f5f5"/><rect x="191.16" width="1.78" height="419.5" fill="#c9c9c9"/><rect x="192.24" width="1.78" height="419.5" fill="#fafafa"/><rect x="193.32" width="1.78" height="419.5" fill="#fcfcfc"/><rect x="194.4" width="1.78" height="419.5" fill="#e0e0e0"/><rect x="195.48" width="1.78" height="419.5" fill="#e8e8e8"/><rect x="196.56" width="1.78" height="419.5" fill="#f5f5f5"/><rect x="197.64" width="1.78" height="419.5" fill="#ffffff"/><rect x="198.72" width="1.78" height="419.5" fill="#ebebeb"/><rect x="199.8" width="1.78" height="419.5" fill="#fcfcfc"/><rect x="200.88" width="1.78" height="419.5" fill="#f5f5f5"/><rect x="201.96" width="1.78" height="419.5" fill="#d9d9d9"/><rect x="203.04" width="1.78" height="419.5" fill="#f7f7f7"/><rect x="204.12" width="1.78" height="419.5" fill="#e3e3e3"/><rect x="205.2" width="1.78" height="419.5" fill="#fcfcfc"/><rect x="206.28" width="1.78" height="419.5" fill="#f2f2f2"/><rect x="207.36" width="1.78" height="419.5" fill="#fafafa"/><rect x="208.44" width="1.78" height="419.5" fill="#fcfcfc"/><rect x="209.52" width="1.78" height="419.5" fill="#fafafa"/><rect x="210.6" width="1.78" height="419.5" fill="#fcfcfc"/><rect x="211.68" width="1.78" height="419.5" fill="#f7f7f7"/><rect x="212.76" width="1.78" height="419.5" fill="#ffffff"/><rect x="213.84" width="1.78" height="419.5" fill="#f5f5f5"/><rect x="214.92" width="1.78" height="419.5" fill="#ebebeb"/><rect x="216" width="1.78" height="419.5" fill="#ffffff"/><rect x="217.08" width="1.78" height="419.5" fill="#f5f5f5"/><rect x="218.16" width="1.78" height="419.5" fill="#e0e0e0"/><rect x="219.24" width="1.78" height="419.5" fill="#ebebeb"/><rect x="220.32" width="1.78" height="419.5" fill="#fcfcfc"/><rect x="221.4" width="1.78" height="419.5" fill="#f0f0f0"/><rect x="222.48" width="1.78" height="419.5" fill="#f7f7f7"/><rect x="223.56" width="1.78" height="419.5" fill="#f2f2f2"/><rect x="224.64" width="1.78" height="419.5" fill="#cfcfcf"/><rect x="225.72" width="1.78" height="419.5" fill="#e3e3e3"/><rect x="226.8" width="1.78" height="419.5" fill="#fafafa"/><rect x="227.88" width="1.78" height="419.5" fill="#adadad"/><rect x="228.96" width="1.78" height="419.5" fill="#f7f7f7"/><rect x="230.04" width="1.78" height="419.5" fill="#e8e8e8"/><rect x="231.12" width="1.78" height="419.5" fill="#f7f7f7"/><rect x="232.2" width="1.78" height="419.5" fill="#f5f5f5"/><rect x="233.28" width="1.78" height="419.5" fill="#ebebeb"/><rect x="234.36" width="1.78" height="419.5" fill="#d1d1d1"/><rect x="235.44" width="1.78" height="419.5" fill="#f2f2f2"/><rect x="236.52" width="3.94" height="419.5" fill="#999999"/><rect x="239.76" width="1.78" height="419.5" fill="#fcfcfc"/><rect x="240.84" width="1.78" height="419.5" fill="#ededed"/><rect x="241.92" width="1.78" height="419.5" fill="#fafafa"/><rect x="243" width="1.78" height="419.5" fill="#f5f5f5"/><rect x="244.08" width="1.78" height="419.5" fill="#f7f7f7"/><rect x="245.16" width="1.78" height="419.5" fill="#fafafa"/><rect x="246.24" width="1.78" height="419.5" fill="#f5f5f5"/><rect x="247.32" width="1.78" height="419.5" fill="#fafafa"/><rect x="248.4" width="1.78" height="419.5" fill="#f0f0f0"/><rect x="249.48" width="2.86" height="419.5" fill="#f5f5f5"/><rect x="251.64" width="1.78" height="419.5" fill="#fcfcfc"/><rect x="252.72" width="1.78" height="419.5" fill="#fafafa"/><rect x="253.8" width="1.78" height="419.5" fill="#f7f7f7"/><rect x="254.88" width="1.78" height="419.5" fill="#f5f5f5"/><rect x="255.96" width="1.78" height="419.5" fill="#c7c7c7"/><rect x="257.04" width="1.78" height="419.5" fill="#fafafa"/><rect x="258.12" width="1.78" height="419.5" fill="#f7f7f7"/><rect x="259.2" width="1.78" height="419.5" fill="#e3e3e3"/><rect x="260.28" width="1.78" height="419.5" fill="#f2f2f2"/><rect x="261.36" width="1.78" height="419.5" fill="#f5f5f5"/><rect x="262.44" width="2.86" height="419.5" fill="#f7f7f7"/><rect x="264.6" width="2.86" height="419.5" fill="#fcfcfc"/><rect x="266.76" width="1.78" height="419.5" fill="#ababab"/><rect x="267.84" width="1.78" height="419.5" fill="#a1a1a1"/><rect x="268.92" width="1.78" height="419.5" fill="#fcfcfc"/><rect x="270" width="1.78" height="419.5" fill="#dedede"/><rect x="271.08" width="2.86" height="419.5" fill="#fcfcfc"/><rect x="273.24" width="2.86" height="419.5" fill="#f5f5f5"/><rect x="275.4" width="1.78" height="419.5" fill="#b2b2b2"/><rect x="276.48" width="1.78" height="419.5" fill="#e0e0e0"/><rect x="277.56" width="1.78" height="419.5" fill="#f2f2f2"/><rect x="278.64" width="1.78" height="419.5" fill="#fcfcfc"/><rect x="279.72" width="1.78" height="419.5" fill="#f7f7f7"/><rect x="280.8" width="1.78" height="419.5" fill="#fafafa"/><rect x="281.88" width="1.78" height="419.5" fill="#ffffff"/><rect x="282.96" width="1.78" height="419.5" fill="#f5f5f5"/><rect x="284.04" width="1.78" height="419.5" fill="#f7f7f7"/><rect x="285.12" width="1.78" height="419.5" fill="#fcfcfc"/><rect x="286.2" width="1.78" height="419.5" fill="#c9c9c9"/><rect x="287.28" width="2.86" height="419.5" fill="#f7f7f7"/><rect x="289.44" width="1.78" height="419.5" fill="#e6e6e6"/><rect x="290.52" width="1.78" height="419.5" fill="#bababa"/><rect x="291.6" width="1.78" height="419.5" fill="#f7f7f7"/><rect x="292.68" width="1.78" height="419.5" fill="#ffffff"/><rect x="293.76" width="1.78" height="419.5" fill="#f5f5f5"/><rect x="294.84" width="1.78" height="419.5" fill="#fafafa"/><rect x="295.92" width="1.78" height="419.5" fill="#b0b0b0"/><rect x="297" width="1.78" height="419.5" fill="#dbdbdb"/><rect x="298.08" width="1.78" height="419.5" fill="#ffffff"/><rect x="299.16" width="1.78" height="419.5" fill="#fcfcfc"/><rect x="300.24" width="1.78" height="419.5" fill="#f5f5f5"/><rect x="301.32" width="1.78" height="419.5" fill="#fafafa"/><rect x="302.4" width="1.78" height="419.5" fill="#fcfcfc"/><rect x="303.48" width="1.78" height="419.5" fill="#f7f7f7"/><rect x="304.56" width="1.78" height="419.5" fill="#ffffff"/><rect x="305.64" width="2.86" height="419.5" fill="#f7f7f7"/><rect x="307.8" width="1.78" height="419.5" fill="#9c9c9c"/><rect x="308.88" width="1.78" height="419.5" fill="#a6a6a6"/><rect x="309.96" width="1.78" height="419.5" fill="#e6e6e6"/><rect x="311.04" width="2.86" height="419.5" fill="#fafafa"/><rect x="313.2" width="2.86" height="419.5" fill="#f7f7f7"/><rect x="315.36" width="1.78" height="419.5" fill="#f0f0f0"/><rect x="316.44" width="1.78" height="419.5" fill="#f7f7f7"/><rect x="317.52" width="1.78" height="419.5" fill="#fafafa"/><rect x="318.6" width="1.78" height="419.5" fill="#f5f5f5"/><rect x="319.68" width="1.78" height="419.5" fill="#a6a6a6"/><rect x="320.76" width="2.86" height="419.5" fill="#f5f5f5"/><rect x="322.92" width="1.78" height="419.5" fill="#dedede"/><rect x="324" width="1.78" height="419.5" fill="#f5f5f5"/><rect x="325.08" width="1.78" height="419.5" fill="#a1a1a1"/><rect x="326.16" width="1.78" height="419.5" fill="#e6e6e6"/><rect x="327.24" width="1.78" height="419.5" fill="#9c9c9c"/><rect x="328.32" width="1.78" height="419.5" fill="#f7f7f7"/><rect x="329.4" width="1.78" height="419.5" fill="#f2f2f2"/><rect x="330.48" width="1.78" height="419.5" fill="#f7f7f7"/><rect x="331.56" width="1.78" height="419.5" fill="#d6d6d6"/><rect x="332.64" width="1.78" height="419.5" fill="#dbdbdb"/><rect x="333.72" width="2.86" height="419.5" fill="#8c8c8c"/><rect x="335.88" width="1.78" height="419.5" fill="#dbdbdb"/><rect x="336.96" width="1.78" height="419.5" fill="#f5f5f5"/><rect x="338.04" width="2.86" height="419.5" fill="#f7f7f7"/><rect x="340.2" width="1.78" height="419.5" fill="#e0e0e0"/><rect x="341.28" width="1.78" height="419.5" fill="#fafafa"/><rect x="342.36" width="1.78" height="419.5" fill="#f2f2f2"/><rect x="343.44" width="1.78" height="419.5" fill="#ffffff"/><rect x="344.52" width="1.78" height="419.5" fill="#f2f2f2"/><rect x="345.6" width="1.78" height="419.5" fill="#9e9e9e"/><rect x="346.68" width="1.78" height="419.5" fill="#d9d9d9"/><rect x="347.76" width="1.78" height="419.5" fill="#c2c2c2"/><rect x="348.84" width="1.78" height="419.5" fill="#f5f5f5"/><rect x="349.92" width="1.78" height="419.5" fill="#f7f7f7"/><rect x="351" width="1.78" height="419.5" fill="#ffffff"/><rect x="352.08" width="1.78" height="419.5" fill="#f2f2f2"/><rect x="353.16" width="1.78" height="419.5" fill="#fafafa"/><rect x="354.24" width="1.78" height="419.5" fill="#f2f2f2"/><rect x="355.32" width="1.78" height="419.5" fill="#ededed"/><rect x="356.4" width="1.78" height="419.5" fill="#b2b2b2"/><rect x="357.48" width="1.78" height="419.5" fill="#fafafa"/><rect x="358.56" width="1.78" height="419.5" fill="#f5f5f5"/><rect x="359.64" width="1.78" height="419.5" fill="#fcfcfc"/><rect x="360.72" width="1.78" height="419.5" fill="#fafafa"/><rect x="361.8" width="1.78" height="419.5" fill="#f7f7f7"/><rect x="362.88" width="1.78" height="419.5" fill="#f5f5f5"/><rect x="363.96" width="1.78" height="419.5" fill="#f7f7f7"/><rect x="365.04" width="1.78" height="419.5" fill="#dedede"/><rect x="366.12" width="1.78" height="419.5" fill="#fafafa"/><rect x="367.2" width="1.78" height="419.5" fill="#f7f7f7"/><rect x="368.28" width="1.78" height="419.5" fill="#f5f5f5"/><rect x="369.36" width="1.78" height="419.5" fill="#f2f2f2"/><rect x="370.44" width="1.78" height="419.5" fill="#fcfcfc"/><rect x="371.52" width="1.78" height="419.5" fill="#f2f2f2"/><rect x="372.6" width="1.78" height="419.5" fill="#ededed"/><rect x="373.68" width="2.86" height="419.5" fill="#cccccc"/><rect x="375.84" width="1.78" height="419.5" fill="#fcfcfc"/><rect x="376.92" width="1.78" height="419.5" fill="#f7f7f7"/><rect x="378" width="1.78" height="419.5" fill="#b2b2b2"/><rect x="379.08" width="2.86" height="419.5" fill="#f5f5f5"/><rect x="381.24" width="1.78" height="419.5" fill="#c2c2c2"/><rect x="382.32" width="1.78" height="419.5" fill="#d9d9d9"/><rect x="383.4" width="1.78" height="419.5" fill="#e8e8e8"/><rect x="384.48" width="2.86" height="419.5" fill="#f2f2f2"/><rect x="386.64" width="1.78" height="419.5" fill="#e8e8e8"/><rect x="387.72" width="2.86" height="419.5" fill="#fcfcfc"/><rect x="389.88" width="1.78" height="419.5" fill="#f5f5f5"/><rect x="390.96" width="1.78" height="419.5" fill="#dbdbdb"/><rect x="392.04" width="1.78" height="419.5" fill="#f5f5f5"/><rect x="393.12" width="1.78" height="419.5" fill="#d6d6d6"/><rect x="394.2" width="1.78" height="419.5" fill="#f0f0f0"/><rect x="395.28" width="1.78" height="419.5" fill="#b8b8b8"/><rect x="396.36" width="1.78" height="419.5" fill="#ededed"/><rect x="397.44" width="1.78" height="419.5" fill="#fafafa"/><rect x="398.52" width="1.78" height="419.5" fill="#fcfcfc"/><rect x="399.6" width="1.78" height="419.5" fill="#fafafa"/><rect x="400.68" width="1.78" height="419.5" fill="#f5f5f5"/><rect x="401.76" width="1.78" height="419.5" fill="#fafafa"/><rect x="402.84" width="1.78" height="419.5" fill="#f5f5f5"/><rect x="403.92" width="1.78" height="419.5" fill="#f7f7f7"/><rect x="405" width="1.78" height="419.5" fill="#f2f2f2"/><rect x="406.08" width="1.78" height="419.5" fill="#f7f7f7"/><rect x="407.16" width="1.78" height="419.5" fill="#bdbdbd"/><rect x="408.24" width="1.78" height="419.5" fill="#f7f7f7"/><rect x="409.32" width="1.78" height="419.5" fill="#fafafa"/><rect x="410.4" width="1.78" height="419.5" fill="#e3e3e3"/><rect x="411.48" width="1.78" height="419.5" fill="#f7f7f7"/><rect x="412.56" width="1.78" height="419.5" fill="#f2f2f2"/><rect x="413.64" width="1.78" height="419.5" fill="#dedede"/><rect x="414.72" width="1.78" height="419.5" fill="#fcfcfc"/><rect x="415.8" width="2.86" height="419.5" fill="#ffffff"/><rect x="417.96" width="1.78" height="419.5" fill="#f7f7f7"/><rect x="419.04" width="1.78" height="419.5" fill="#ffffff"/><rect x="420.12" width="2.86" height="419.5" fill="#f7f7f7"/><rect x="422.28" width="1.78" height="419.5" fill="#ffffff"/><rect x="423.36" width="1.78" height="419.5" fill="#f0f0f0"/><rect x="424.44" width="1.78" height="419.5" fill="#dbdbdb"/><rect x="425.52" width="1.78" height="419.5" fill="#f5f5f5"/><rect x="426.6" width="1.78" height="419.5" fill="#fafafa"/><rect x="427.68" width="1.78" height="419.5" fill="#c9c9c9"/><rect x="428.76" width="1.78" height="419.5" fill="#e3e3e3"/><rect x="429.84" width="1.78" height="419.5" fill="#fcfcfc"/><rect x="430.92" width="1.78" height="419.5" fill="#f5f5f5"/><rect x="432" width="1.78" height="419.5" fill="#ababab"/><rect x="433.08" width="1.78" height="419.5" fill="#f2f2f2"/><rect x="434.16" width="1.78" height="419.5" fill="#ededed"/><rect x="435.24" width="1.78" height="419.5" fill="#ffffff"/><rect x="436.32" width="1.78" height="419.5" fill="#fcfcfc"/><rect x="437.4" width="1.78" height="419.5" fill="#f5f5f5"/><rect x="438.48" width="1.78" height="419.5" fill="#f7f7f7"/><rect x="439.56" width="1.78" height="419.5" fill="#fafafa"/><rect x="440.64" width="1.78" height="419.5" fill="#fcfcfc"/><rect x="441.72" width="1.78" height="419.5" fill="#e6e6e6"/><rect x="442.8" width="1.78" height="419.5" fill="#fcfcfc"/><rect x="443.88" width="1.78" height="419.5" fill="#dedede"/><rect x="444.96" width="1.78" height="419.5" fill="#f2f2f2"/><rect x="446.04" width="1.78" height="419.5" fill="#e6e6e6"/><rect x="447.12" width="1.78" height="419.5" fill="#f5f5f5"/><rect x="448.2" width="1.78" height="419.5" fill="#a6a6a6"/><rect x="449.28" width="1.78" height="419.5" fill="#f7f7f7"/><rect x="450.36" width="1.78" height="419.5" fill="#fcfcfc"/><rect x="451.44" width="1.78" height="419.5" fill="#f2f2f2"/><rect x="452.52" width="1.78" height="419.5" fill="#d9d9d9"/><rect x="453.6" width="1.78" height="419.5" fill="#f7f7f7"/><rect x="454.68" width="1.78" height="419.5" fill="#bdbdbd"/><rect x="455.76" width="1.78" height="419.5" fill="#adadad"/><rect x="456.84" width="1.78" height="419.5" fill="#ededed"/><rect x="457.92" width="1.78" height="419.5" fill="#f5f5f5"/><rect x="459" width="1.78" height="419.5" fill="#b5b5b5"/><rect x="460.08" width="1.78" height="419.5" fill="#fafafa"/><rect x="461.16" width="1.78" height="419.5" fill="#fcfcfc"/><rect x="462.24" width="1.78" height="419.5" fill="#dbdbdb"/><rect x="463.32" width="2.86" height="419.5" fill="#fcfcfc"/><rect x="465.48" width="1.78" height="419.5" fill="#f5f5f5"/><rect x="466.56" width="1.78" height="419.5" fill="#d9d9d9"/><rect x="467.64" width="1.78" height="419.5" fill="#fcfcfc"/><rect x="468.72" width="1.78" height="419.5" fill="#f7f7f7"/><rect x="469.8" width="1.78" height="419.5" fill="#ffffff"/><rect x="470.88" width="2.86" height="419.5" fill="#fafafa"/><rect x="473.04" width="1.78" height="419.5" fill="#dedede"/><rect x="474.12" width="1.78" height="419.5" fill="#ffffff"/><rect x="475.2" width="3.94" height="419.5" fill="#f7f7f7"/><rect x="478.44" width="1.78" height="419.5" fill="#f5f5f5"/><rect x="479.52" width="1.78" height="419.5" fill="#fafafa"/><rect x="480.6" width="1.78" height="419.5" fill="#fcfcfc"/><rect x="481.68" width="1.78" height="419.5" fill="#ffffff"/><rect x="482.76" width="1.78" height="419.5" fill="#f2f2f2"/><rect x="483.84" width="1.78" height="419.5" fill="#fafafa"/><rect x="484.92" width="1.78" height="419.5" fill="#f5f5f5"/><rect x="486" width="1.78" height="419.5" fill="#ffffff"/><rect x="487.08" width="1.78" height="419.5" fill="#c4c4c4"/><rect x="488.16" width="1.78" height="419.5" fill="#fafafa"/><rect x="489.24" width="1.78" height="419.5" fill="#ffffff"/><rect x="490.32" width="2.86" height="419.5" fill="#f5f5f5"/><rect x="492.48" width="1.78" height="419.5" fill="#fcfcfc"/><rect x="493.56" width="1.78" height="419.5" fill="#f5f5f5"/><rect x="494.64" width="1.78" height="419.5" fill="#ffffff"/><rect x="495.72" width="1.78" height="419.5" fill="#f7f7f7"/><rect x="496.8" width="1.78" height="419.5" fill="#dbdbdb"/><rect x="497.88" width="1.78" height="419.5" fill="#d9d9d9"/><rect x="498.96" width="1.78" height="419.5" fill="#969696"/><rect x="500.04" width="1.78" height="419.5" fill="#c4c4c4"/><rect x="501.12" width="1.78" height="419.5" fill="#e3e3e3"/><rect x="502.2" width="1.78" height="419.5" fill="#e0e0e0"/><rect x="503.28" width="1.78" height="419.5" fill="#dbdbdb"/><rect x="504.36" width="1.78" height="419.5" fill="#d9d9d9"/><rect x="505.44" width="1.06" height="419.5" fill="#999999"/></g><g style="mix-blend-mode:multiply"><rect y="0" height="1.59" width="506.5" fill="#f0f0f0"/><rect y="0.89" height="1.59" width="506.5" fill="#ffffff"/><rect y="1.79" height="1.59" width="506.5" fill="#fcfcfc"/><rect y="2.68" height="1.59" width="506.5" fill="#d6d6d6"/><rect y="3.58" height="1.59" width="506.5" fill="#e8e8e8"/><rect y="4.47" height="5.17" width="506.5" fill="#ffffff"/><rect y="8.94" height="1.59" width="506.5" fill="#fcfcfc"/><rect y="9.84" height="1.59" width="506.5" fill="#ffffff"/><rect y="10.73" height="1.59" width="506.5" fill="#fcfcfc"/><rect y="11.63" height="5.17" width="506.5" fill="#ffffff"/><rect y="16.1" height="1.59" width="506.5" fill="#fcfcfc"/><rect y="17" height="1.59" width="506.5" fill="#e8e8e8"/><rect y="17.89" height="6.96" width="506.5" fill="#ffffff"/><rect y="24.15" height="1.59" width="506.5" fill="#f5f5f5"/><rect y="25.05" height="1.59" width="506.5" fill="#ffffff"/><rect y="25.94" height="1.59" width="506.5" fill="#fafafa"/><rect y="26.83" height="1.59" width="506.5" fill="#f5f5f5"/><rect y="27.73" height="1.59" width="506.5" fill="#fafafa"/><rect y="28.62" height="1.59" width="506.5" fill="#dbdbdb"/><rect y="29.52" height="1.59" width="506.5" fill="#ffffff"/><rect y="30.41" height="1.59" width="506.5" fill="#bfbfbf"/><rect y="31.31" height="1.59" width="506.5" fill="#e6e6e6"/><rect y="32.2" height="1.59" width="506.5" fill="#dedede"/><rect y="33.1" height="2.49" width="506.5" fill="#e6e6e6"/><rect y="34.89" height="1.59" width="506.5" fill="#e8e8e8"/><rect y="35.78" height="2.49" width="506.5" fill="#f0f0f0"/><rect y="37.57" height="1.59" width="506.5" fill="#e6e6e6"/><rect y="38.46" height="1.59" width="506.5" fill="#e3e3e3"/><rect y="39.36" height="1.59" width="506.5" fill="#d6d6d6"/><rect y="40.25" height="1.59" width="506.5" fill="#e6e6e6"/><rect y="41.15" height="1.59" width="506.5" fill="#c4c4c4"/><rect y="42.04" height="1.59" width="506.5" fill="#f0f0f0"/><rect y="42.94" height="1.59" width="506.5" fill="#e8e8e8"/><rect y="43.83" height="4.28" width="506.5" fill="#ebebeb"/><rect y="47.41" height="1.59" width="506.5" fill="#ededed"/><rect y="48.3" height="1.59" width="506.5" fill="#d4d4d4"/><rect y="49.2" height="1.59" width="506.5" fill="#ebebeb"/><rect y="50.09" height="1.59" width="506.5" fill="#f2f2f2"/><rect y="50.99" height="1.59" width="506.5" fill="#fafafa"/><rect y="51.88" height="1.59" width="506.5" fill="#bfbfbf"/><rect y="52.78" height="1.59" width="506.5" fill="#f2f2f2"/><rect y="53.67" height="2.49" width="506.5" fill="#f7f7f7"/><rect y="55.46" height="1.59" width="506.5" fill="#fcfcfc"/><rect y="56.35" height="1.59" width="506.5" fill="#9e9e9e"/><rect y="57.25" height="1.59" width="506.5" fill="#ffffff"/><rect y="58.14" height="2.49" width="506.5" fill="#bfbfbf"/><rect y="59.93" height="1.59" width="506.5" fill="#f7f7f7"/><rect y="60.83" height="1.59" width="506.5" fill="#fafafa"/><rect y="61.72" height="1.59" width="506.5" fill="#f7f7f7"/><rect y="62.61" height="1.59" width="506.5" fill="#f2f2f2"/><rect y="63.51" height="1.59" width="506.5" fill="#fcfcfc"/><rect y="64.4" height="2.49" width="506.5" fill="#f5f5f5"/><rect y="66.19" height="1.59" width="506.5" fill="#e3e3e3"/><rect y="67.09" height="1.59" width="506.5" fill="#f5f5f5"/><rect y="67.98" height="2.49" width="506.5" fill="#f7f7f7"/><rect y="69.77" height="1.59" width="506.5" fill="#f5f5f5"/><rect y="70.66" height="1.59" width="506.5" fill="#fafafa"/><rect y="71.56" height="1.59" width="506.5" fill="#f7f7f7"/><rect y="72.45" height="1.59" width="506.5" fill="#dbdbdb"/><rect y="73.35" height="1.59" width="506.5" fill="#f5f5f5"/><rect y="74.24" height="1.59" width="506.5" fill="#fcfcfc"/><rect y="75.14" height="1.59" width="506.5" fill="#e0e0e0"/><rect y="76.03" height="1.59" width="506.5" fill="#fafafa"/><rect y="76.93" height="1.59" width="506.5" fill="#f7f7f7"/><rect y="77.82" height="1.59" width="506.5" fill="#e0e0e0"/><rect y="78.72" height="1.59" width="506.5" fill="#f5f5f5"/><rect y="79.61" height="2.49" width="506.5" fill="#f7f7f7"/><rect y="81.4" height="1.59" width="506.5" fill="#f5f5f5"/><rect y="82.29" height="1.59" width="506.5" fill="#d6d6d6"/><rect y="83.19" height="2.49" width="506.5" fill="#ffffff"/><rect y="84.98" height="1.59" width="506.5" fill="#f5f5f5"/><rect y="85.87" height="1.59" width="506.5" fill="#fcfcfc"/><rect y="86.77" height="1.59" width="506.5" fill="#fafafa"/><rect y="87.66" height="1.59" width="506.5" fill="#e0e0e0"/><rect y="88.55" height="1.59" width="506.5" fill="#dbdbdb"/><rect y="89.45" height="1.59" width="506.5" fill="#f5f5f5"/><rect y="90.34" height="1.59" width="506.5" fill="#f2f2f2"/><rect y="91.24" height="1.59" width="506.5" fill="#fafafa"/><rect y="92.13" height="1.59" width="506.5" fill="#fcfcfc"/><rect y="93.03" height="1.59" width="506.5" fill="#fafafa"/><rect y="93.92" height="1.59" width="506.5" fill="#c9c9c9"/><rect y="94.82" height="1.59" width="506.5" fill="#e0e0e0"/><rect y="95.71" height="1.59" width="506.5" fill="#fafafa"/><rect y="96.61" height="1.59" width="506.5" fill="#ffffff"/><rect y="97.5" height="1.59" width="506.5" fill="#f7f7f7"/><rect y="98.39" height="1.59" width="506.5" fill="#f0f0f0"/><rect y="99.29" height="1.59" width="506.5" fill="#fcfcfc"/><rect y="100.18" height="1.59" width="506.5" fill="#f5f5f5"/><rect y="101.08" height="1.59" width="506.5" fill="#fcfcfc"/><rect y="101.97" height="1.59" width="506.5" fill="#ededed"/><rect y="102.87" height="1.59" width="506.5" fill="#fcfcfc"/><rect y="103.76" height="1.59" width="506.5" fill="#f2f2f2"/><rect y="104.66" height="1.59" width="506.5" fill="#fcfcfc"/><rect y="105.55" height="1.59" width="506.5" fill="#ababab"/><rect y="106.44" height="1.59" width="506.5" fill="#e6e6e6"/><rect y="107.34" height="1.59" width="506.5" fill="#f7f7f7"/><rect y="108.23" height="1.59" width="506.5" fill="#f2f2f2"/><rect y="109.13" height="1.59" width="506.5" fill="#a1a1a1"/><rect y="110.02" height="1.59" width="506.5" fill="#dbdbdb"/><rect y="110.92" height="2.49" width="506.5" fill="#999999"/><rect y="112.71" height="1.59" width="506.5" fill="#f7f7f7"/><rect y="113.6" height="1.59" width="506.5" fill="#fafafa"/><rect y="114.49" height="1.59" width="506.5" fill="#f7f7f7"/><rect y="115.39" height="1.59" width="506.5" fill="#e0e0e0"/><rect y="116.28" height="1.59" width="506.5" fill="#e8e8e8"/><rect y="117.18" height="1.59" width="506.5" fill="#f7f7f7"/><rect y="118.07" height="1.59" width="506.5" fill="#a3a3a3"/><rect y="118.97" height="1.59" width="506.5" fill="#fafafa"/><rect y="119.86" height="1.59" width="506.5" fill="#f7f7f7"/><rect y="120.76" height="1.59" width="506.5" fill="#fafafa"/><rect y="121.65" height="1.59" width="506.5" fill="#f7f7f7"/><rect y="122.55" height="1.59" width="506.5" fill="#fcfcfc"/><rect y="123.44" height="1.59" width="506.5" fill="#fafafa"/><rect y="124.33" height="1.59" width="506.5" fill="#f5f5f5"/><rect y="125.23" height="1.59" width="506.5" fill="#fafafa"/><rect y="126.12" height="1.59" width="506.5" fill="#b5b5b5"/><rect y="127.02" height="1.59" width="506.5" fill="#fcfcfc"/><rect y="127.91" height="1.59" width="506.5" fill="#f7f7f7"/><rect y="128.81" height="1.59" width="506.5" fill="#fcfcfc"/><rect y="129.7" height="1.59" width="506.5" fill="#c4c4c4"/><rect y="130.6" height="1.59" width="506.5" fill="#cccccc"/><rect y="131.49" height="1.59" width="506.5" fill="#dbdbdb"/><rect y="132.38" height="1.59" width="506.5" fill="#d9d9d9"/><rect y="133.28" height="1.59" width="506.5" fill="#d6d6d6"/><rect y="134.17" height="2.49" width="506.5" fill="#a3a3a3"/><rect y="135.96" height="1.59" width="506.5" fill="#f2f2f2"/><rect y="136.86" height="1.59" width="506.5" fill="#9e9e9e"/><rect y="137.75" height="1.59" width="506.5" fill="#f5f5f5"/><rect y="138.65" height="1.59" width="506.5" fill="#cfcfcf"/><rect y="139.54" height="1.59" width="506.5" fill="#ededed"/><rect y="140.44" height="1.59" width="506.5" fill="#fcfcfc"/><rect y="141.33" height="1.59" width="506.5" fill="#fafafa"/><rect y="142.22" height="1.59" width="506.5" fill="#f2f2f2"/><rect y="143.12" height="1.59" width="506.5" fill="#fafafa"/><rect y="144.01" height="1.59" width="506.5" fill="#f5f5f5"/><rect y="144.91" height="1.59" width="506.5" fill="#ffffff"/><rect y="145.8" height="1.59" width="506.5" fill="#adadad"/><rect y="146.7" height="1.59" width="506.5" fill="#fcfcfc"/><rect y="147.59" height="1.59" width="506.5" fill="#dedede"/><rect y="148.49" height="1.59" width="506.5" fill="#e8e8e8"/><rect y="149.38" height="3.38" width="506.5" fill="#f7f7f7"/><rect y="152.06" height="1.59" width="506.5" fill="#bababa"/><rect y="152.96" height="1.59" width="506.5" fill="#f7f7f7"/><rect y="153.85" height="1.59" width="506.5" fill="#f5f5f5"/><rect y="154.75" height="1.59" width="506.5" fill="#fcfcfc"/><rect y="155.64" height="2.49" width="506.5" fill="#fafafa"/><rect y="157.43" height="1.59" width="506.5" fill="#f5f5f5"/><rect y="158.33" height="1.59" width="506.5" fill="#c9c9c9"/><rect y="159.22" height="1.59" width="506.5" fill="#fafafa"/><rect y="160.11" height="1.59" width="506.5" fill="#fcfcfc"/><rect y="161.01" height="1.59" width="506.5" fill="#e0e0e0"/><rect y="161.9" height="1.59" width="506.5" fill="#e8e8e8"/><rect y="162.8" height="1.59" width="506.5" fill="#f5f5f5"/><rect y="163.69" height="1.59" width="506.5" fill="#ffffff"/><rect y="164.59" height="1.59" width="506.5" fill="#ebebeb"/><rect y="165.48" height="1.59" width="506.5" fill="#fcfcfc"/><rect y="166.38" height="1.59" width="506.5" fill="#f5f5f5"/><rect y="167.27" height="1.59" width="506.5" fill="#d9d9d9"/><rect y="168.16" height="1.59" width="506.5" fill="#f7f7f7"/><rect y="169.06" height="1.59" width="506.5" fill="#e3e3e3"/><rect y="169.95" height="1.59" width="506.5" fill="#fcfcfc"/><rect y="170.85" height="1.59" width="506.5" fill="#f2f2f2"/><rect y="171.74" height="1.59" width="506.5" fill="#fafafa"/><rect y="172.64" height="1.59" width="506.5" fill="#fcfcfc"/><rect y="173.53" height="1.59" width="506.5" fill="#fafafa"/><rect y="174.43" height="1.59" width="506.5" fill="#fcfcfc"/><rect y="175.32" height="1.59" width="506.5" fill="#f7f7f7"/><rect y="176.21" height="1.59" width="506.5" fill="#ffffff"/><rect y="177.11" height="1.59" width="506.5" fill="#f5f5f5"/><rect y="178" height="1.59" width="506.5" fill="#ebebeb"/><rect y="178.9" height="1.59" width="506.5" fill="#ffffff"/><rect y="179.79" height="1.59" width="506.5" fill="#f5f5f5"/><rect y="180.69" height="1.59" width="506.5" fill="#e0e0e0"/><rect y="181.58" height="1.59" width="506.5" fill="#ebebeb"/><rect y="182.48" height="1.59" width="506.5" fill="#fcfcfc"/><rect y="183.37" height="1.59" width="506.5" fill="#f0f0f0"/><rect y="184.27" height="1.59" width="506.5" fill="#f7f7f7"/><rect y="185.16" height="1.59" width="506.5" fill="#f2f2f2"/><rect y="186.05" height="1.59" width="506.5" fill="#cfcfcf"/><rect y="186.95" height="1.59" width="506.5" fill="#e3e3e3"/><rect y="187.84" height="1.59" width="506.5" fill="#fafafa"/><rect y="188.74" height="1.59" width="506.5" fill="#adadad"/><rect y="189.63" height="1.59" width="506.5" fill="#f7f7f7"/><rect y="190.53" height="1.59" width="506.5" fill="#e8e8e8"/><rect y="191.42" height="1.59" width="506.5" fill="#f7f7f7"/><rect y="192.32" height="1.59" width="506.5" fill="#f5f5f5"/><rect y="193.21" height="1.59" width="506.5" fill="#ebebeb"/><rect y="194.1" height="1.59" width="506.5" fill="#d1d1d1"/><rect y="195" height="1.59" width="506.5" fill="#f2f2f2"/><rect y="195.89" height="3.38" width="506.5" fill="#999999"/><rect y="198.58" height="1.59" width="506.5" fill="#fcfcfc"/><rect y="199.47" height="1.59" width="506.5" fill="#ededed"/><rect y="200.37" height="1.59" width="506.5" fill="#fafafa"/><rect y="201.26" height="1.59" width="506.5" fill="#f5f5f5"/><rect y="202.16" height="1.59" width="506.5" fill="#f7f7f7"/><rect y="203.05" height="1.59" width="506.5" fill="#fafafa"/><rect y="203.94" height="1.59" width="506.5" fill="#f5f5f5"/><rect y="204.84" height="1.59" width="506.5" fill="#fafafa"/><rect y="205.73" height="1.59" width="506.5" fill="#f0f0f0"/><rect y="206.63" height="2.49" width="506.5" fill="#f5f5f5"/><rect y="208.42" height="1.59" width="506.5" fill="#fcfcfc"/><rect y="209.31" height="1.59" width="506.5" fill="#fafafa"/><rect y="210.21" height="1.59" width="506.5" fill="#f7f7f7"/><rect y="211.1" height="1.59" width="506.5" fill="#f5f5f5"/><rect y="211.99" height="1.59" width="506.5" fill="#c7c7c7"/><rect y="212.89" height="1.59" width="506.5" fill="#fafafa"/><rect y="213.78" height="1.59" width="506.5" fill="#f7f7f7"/><rect y="214.68" height="1.59" width="506.5" fill="#e3e3e3"/><rect y="215.57" height="1.59" width="506.5" fill="#f2f2f2"/><rect y="216.47" height="1.59" width="506.5" fill="#f5f5f5"/><rect y="217.36" height="2.49" width="506.5" fill="#f7f7f7"/><rect y="219.15" height="2.49" width="506.5" fill="#fcfcfc"/><rect y="220.94" height="1.59" width="506.5" fill="#ababab"/><rect y="221.83" height="1.59" width="506.5" fill="#a1a1a1"/><rect y="222.73" height="1.59" width="506.5" fill="#fcfcfc"/><rect y="223.62" height="1.59" width="506.5" fill="#dedede"/><rect y="224.52" height="2.49" width="506.5" fill="#fcfcfc"/><rect y="226.31" height="2.49" width="506.5" fill="#f5f5f5"/><rect y="228.1" height="1.59" width="506.5" fill="#b2b2b2"/><rect y="228.99" height="1.59" width="506.5" fill="#e0e0e0"/><rect y="229.88" height="1.59" width="506.5" fill="#f2f2f2"/><rect y="230.78" height="1.59" width="506.5" fill="#fcfcfc"/><rect y="231.67" height="1.59" width="506.5" fill="#f7f7f7"/><rect y="232.57" height="1.59" width="506.5" fill="#fafafa"/><rect y="233.46" height="1.59" width="506.5" fill="#ffffff"/><rect y="234.36" height="1.59" width="506.5" fill="#f5f5f5"/><rect y="235.25" height="1.59" width="506.5" fill="#f7f7f7"/><rect y="236.15" height="1.59" width="506.5" fill="#fcfcfc"/><rect y="237.04" height="1.59" width="506.5" fill="#c9c9c9"/><rect y="237.93" height="2.49" width="506.5" fill="#f7f7f7"/><rect y="239.72" height="1.59" width="506.5" fill="#e6e6e6"/><rect y="240.62" height="1.59" width="506.5" fill="#bababa"/><rect y="241.51" height="1.59" width="506.5" fill="#f7f7f7"/><rect y="242.41" height="1.59" width="506.5" fill="#ffffff"/><rect y="243.3" height="1.59" width="506.5" fill="#f5f5f5"/><rect y="244.2" height="1.59" width="506.5" fill="#fafafa"/><rect y="245.09" height="1.59" width="506.5" fill="#b0b0b0"/><rect y="245.99" height="1.59" width="506.5" fill="#dbdbdb"/><rect y="246.88" height="1.59" width="506.5" fill="#ffffff"/><rect y="247.77" height="1.59" width="506.5" fill="#fcfcfc"/><rect y="248.67" height="1.59" width="506.5" fill="#f5f5f5"/><rect y="249.56" height="1.59" width="506.5" fill="#fafafa"/><rect y="250.46" height="1.59" width="506.5" fill="#fcfcfc"/><rect y="251.35" height="1.59" width="506.5" fill="#f7f7f7"/><rect y="252.25" height="1.59" width="506.5" fill="#ffffff"/><rect y="253.14" height="2.49" width="506.5" fill="#f7f7f7"/><rect y="254.93" height="1.59" width="506.5" fill="#9c9c9c"/><rect y="255.82" height="1.59" width="506.5" fill="#a6a6a6"/><rect y="256.72" height="1.59" width="506.5" fill="#e6e6e6"/><rect y="257.61" height="2.49" width="506.5" fill="#fafafa"/><rect y="259.4" height="2.49" width="506.5" fill="#f7f7f7"/><rect y="261.19" height="1.59" width="506.5" fill="#f0f0f0"/><rect y="262.09" height="1.59" width="506.5" fill="#f7f7f7"/><rect y="262.98" height="1.59" width="506.5" fill="#fafafa"/><rect y="263.88" height="1.59" width="506.5" fill="#f5f5f5"/><rect y="264.77" height="1.59" width="506.5" fill="#a6a6a6"/><rect y="265.66" height="2.49" width="506.5" fill="#f5f5f5"/><rect y="267.45" height="1.59" width="506.5" fill="#dedede"/><rect y="268.35" height="1.59" width="506.5" fill="#f5f5f5"/><rect y="269.24" height="1.59" width="506.5" fill="#a1a1a1"/><rect y="270.14" height="1.59" width="506.5" fill="#e6e6e6"/><rect y="271.03" height="1.59" width="506.5" fill="#9c9c9c"/><rect y="271.93" height="1.59" width="506.5" fill="#f7f7f7"/><rect y="272.82" height="1.59" width="506.5" fill="#f2f2f2"/><rect y="273.71" height="1.59" width="506.5" fill="#f7f7f7"/><rect y="274.61" height="1.59" width="506.5" fill="#d6d6d6"/><rect y="275.5" height="1.59" width="506.5" fill="#dbdbdb"/><rect y="276.4" height="2.49" width="506.5" fill="#8c8c8c"/><rect y="278.19" height="1.59" width="506.5" fill="#dbdbdb"/><rect y="279.08" height="1.59" width="506.5" fill="#f5f5f5"/><rect y="279.98" height="2.49" width="506.5" fill="#f7f7f7"/><rect y="281.76" height="1.59" width="506.5" fill="#e0e0e0"/><rect y="282.66" height="1.59" width="506.5" fill="#fafafa"/><rect y="283.55" height="1.59" width="506.5" fill="#f2f2f2"/><rect y="284.45" height="1.59" width="506.5" fill="#ffffff"/><rect y="285.34" height="1.59" width="506.5" fill="#f2f2f2"/><rect y="286.24" height="1.59" width="506.5" fill="#9e9e9e"/><rect y="287.13" height="1.59" width="506.5" fill="#d9d9d9"/><rect y="288.03" height="1.59" width="506.5" fill="#c2c2c2"/><rect y="288.92" height="1.59" width="506.5" fill="#f5f5f5"/><rect y="289.82" height="1.59" width="506.5" fill="#f7f7f7"/><rect y="290.71" height="1.59" width="506.5" fill="#ffffff"/><rect y="291.6" height="1.59" width="506.5" fill="#f2f2f2"/><rect y="292.5" height="1.59" width="506.5" fill="#fafafa"/><rect y="293.39" height="1.59" width="506.5" fill="#f2f2f2"/><rect y="294.29" height="1.59" width="506.5" fill="#ededed"/><rect y="295.18" height="1.59" width="506.5" fill="#b2b2b2"/><rect y="296.08" height="1.59" width="506.5" fill="#fafafa"/><rect y="296.97" height="1.59" width="506.5" fill="#f5f5f5"/><rect y="297.87" height="1.59" width="506.5" fill="#fcfcfc"/><rect y="298.76" height="1.59" width="506.5" fill="#fafafa"/><rect y="299.65" height="1.59" width="506.5" fill="#f7f7f7"/><rect y="300.55" height="1.59" width="506.5" fill="#f5f5f5"/><rect y="301.44" height="1.59" width="506.5" fill="#f7f7f7"/><rect y="302.34" height="1.59" width="506.5" fill="#dedede"/><rect y="303.23" height="1.59" width="506.5" fill="#fafafa"/><rect y="304.13" height="1.59" width="506.5" fill="#f7f7f7"/><rect y="305.02" height="1.59" width="506.5" fill="#f5f5f5"/><rect y="305.92" height="1.59" width="506.5" fill="#f2f2f2"/><rect y="306.81" height="1.59" width="506.5" fill="#fcfcfc"/><rect y="307.71" height="1.59" width="506.5" fill="#f2f2f2"/><rect y="308.6" height="1.59" width="506.5" fill="#ededed"/><rect y="309.49" height="2.49" width="506.5" fill="#cccccc"/><rect y="311.28" height="1.59" width="506.5" fill="#fcfcfc"/><rect y="312.18" height="1.59" width="506.5" fill="#f7f7f7"/><rect y="313.07" height="1.59" width="506.5" fill="#b2b2b2"/><rect y="313.97" height="2.49" width="506.5" fill="#f5f5f5"/><rect y="315.76" height="1.59" width="506.5" fill="#c2c2c2"/><rect y="316.65" height="1.59" width="506.5" fill="#d9d9d9"/><rect y="317.54" height="1.59" width="506.5" fill="#e8e8e8"/><rect y="318.44" height="2.49" width="506.5" fill="#f2f2f2"/><rect y="320.23" height="1.59" width="506.5" fill="#e8e8e8"/><rect y="321.12" height="2.49" width="506.5" fill="#fcfcfc"/><rect y="322.91" height="1.59" width="506.5" fill="#f5f5f5"/><rect y="323.81" height="1.59" width="506.5" fill="#dbdbdb"/><rect y="324.7" height="1.59" width="506.5" fill="#f5f5f5"/><rect y="325.59" height="1.59" width="506.5" fill="#d6d6d6"/><rect y="326.49" height="1.59" width="506.5" fill="#f0f0f0"/><rect y="327.38" height="1.59" width="506.5" fill="#b8b8b8"/><rect y="328.28" height="1.59" width="506.5" fill="#ededed"/><rect y="329.17" height="1.59" width="506.5" fill="#fafafa"/><rect y="330.07" height="1.59" width="506.5" fill="#fcfcfc"/><rect y="330.96" height="1.59" width="506.5" fill="#fafafa"/><rect y="331.86" height="1.59" width="506.5" fill="#f5f5f5"/><rect y="332.75" height="1.59" width="506.5" fill="#fafafa"/><rect y="333.65" height="1.59" width="506.5" fill="#f5f5f5"/><rect y="334.54" height="1.59" width="506.5" fill="#f7f7f7"/><rect y="335.43" height="1.59" width="506.5" fill="#f2f2f2"/><rect y="336.33" height="1.59" width="506.5" fill="#f7f7f7"/><rect y="337.22" height="1.59" width="506.5" fill="#bdbdbd"/><rect y="338.12" height="1.59" width="506.5" fill="#f7f7f7"/><rect y="339.01" height="1.59" width="506.5" fill="#fafafa"/><rect y="339.91" height="1.59" width="506.5" fill="#e3e3e3"/><rect y="340.8" height="1.59" width="506.5" fill="#f7f7f7"/><rect y="341.7" height="1.59" width="506.5" fill="#f2f2f2"/><rect y="342.59" height="1.59" width="506.5" fill="#dedede"/><rect y="343.48" height="1.59" width="506.5" fill="#fcfcfc"/><rect y="344.38" height="2.49" width="506.5" fill="#ffffff"/><rect y="346.17" height="1.59" width="506.5" fill="#f7f7f7"/><rect y="347.06" height="1.59" width="506.5" fill="#ffffff"/><rect y="347.96" height="2.49" width="506.5" fill="#f7f7f7"/><rect y="349.75" height="1.59" width="506.5" fill="#ffffff"/><rect y="350.64" height="1.59" width="506.5" fill="#f0f0f0"/><rect y="351.54" height="1.59" width="506.5" fill="#dbdbdb"/><rect y="352.43" height="1.59" width="506.5" fill="#f5f5f5"/><rect y="353.32" height="1.59" width="506.5" fill="#fafafa"/><rect y="354.22" height="1.59" width="506.5" fill="#c9c9c9"/><rect y="355.11" height="1.59" width="506.5" fill="#e3e3e3"/><rect y="356.01" height="1.59" width="506.5" fill="#fcfcfc"/><rect y="356.9" height="1.59" width="506.5" fill="#f5f5f5"/><rect y="357.8" height="1.59" width="506.5" fill="#ababab"/><rect y="358.69" height="1.59" width="506.5" fill="#f2f2f2"/><rect y="359.59" height="1.59" width="506.5" fill="#ededed"/><rect y="360.48" height="1.59" width="506.5" fill="#ffffff"/><rect y="361.37" height="1.59" width="506.5" fill="#fcfcfc"/><rect y="362.27" height="1.59" width="506.5" fill="#f5f5f5"/><rect y="363.16" height="1.59" width="506.5" fill="#f7f7f7"/><rect y="364.06" height="1.59" width="506.5" fill="#fafafa"/><rect y="364.95" height="1.59" width="506.5" fill="#fcfcfc"/><rect y="365.85" height="1.59" width="506.5" fill="#e6e6e6"/><rect y="366.74" height="1.59" width="506.5" fill="#fcfcfc"/><rect y="367.64" height="1.59" width="506.5" fill="#dedede"/><rect y="368.53" height="1.59" width="506.5" fill="#f2f2f2"/><rect y="369.43" height="1.59" width="506.5" fill="#e6e6e6"/><rect y="370.32" height="1.59" width="506.5" fill="#f5f5f5"/><rect y="371.21" height="1.59" width="506.5" fill="#a6a6a6"/><rect y="372.11" height="1.59" width="506.5" fill="#f7f7f7"/><rect y="373" height="1.59" width="506.5" fill="#fcfcfc"/><rect y="373.9" height="1.59" width="506.5" fill="#f2f2f2"/><rect y="374.79" height="1.59" width="506.5" fill="#d9d9d9"/><rect y="375.69" height="1.59" width="506.5" fill="#f7f7f7"/><rect y="376.58" height="1.59" width="506.5" fill="#bdbdbd"/><rect y="377.48" height="1.59" width="506.5" fill="#adadad"/><rect y="378.37" height="1.59" width="506.5" fill="#ededed"/><rect y="379.26" height="1.59" width="506.5" fill="#f5f5f5"/><rect y="380.16" height="1.59" width="506.5" fill="#b5b5b5"/><rect y="381.05" height="1.59" width="506.5" fill="#fafafa"/><rect y="381.95" height="1.59" width="506.5" fill="#fcfcfc"/><rect y="382.84" height="1.59" width="506.5" fill="#dbdbdb"/><rect y="383.74" height="2.49" width="506.5" fill="#fcfcfc"/><rect y="385.53" height="1.59" width="506.5" fill="#f5f5f5"/><rect y="386.42" height="1.59" width="506.5" fill="#d9d9d9"/><rect y="387.31" height="1.59" width="506.5" fill="#fcfcfc"/><rect y="388.21" height="1.59" width="506.5" fill="#f7f7f7"/><rect y="389.1" height="1.59" width="506.5" fill="#ffffff"/><rect y="390" height="2.49" width="506.5" fill="#fafafa"/><rect y="391.79" height="1.59" width="506.5" fill="#dedede"/><rect y="392.68" height="1.59" width="506.5" fill="#ffffff"/><rect y="393.58" height="3.38" width="506.5" fill="#f7f7f7"/><rect y="396.26" height="1.59" width="506.5" fill="#f5f5f5"/><rect y="397.15" height="1.59" width="506.5" fill="#fafafa"/><rect y="398.05" height="1.59" width="506.5" fill="#fcfcfc"/><rect y="398.94" height="1.59" width="506.5" fill="#ffffff"/><rect y="399.84" height="1.59" width="506.5" fill="#f2f2f2"/><rect y="400.73" height="1.59" width="506.5" fill="#fafafa"/><rect y="401.63" height="1.59" width="506.5" fill="#f5f5f5"/><rect y="402.52" height="1.59" width="506.5" fill="#ffffff"/><rect y="403.42" height="1.59" width="506.5" fill="#c4c4c4"/><rect y="404.31" height="1.59" width="506.5" fill="#fafafa"/><rect y="405.2" height="1.59" width="506.5" fill="#ffffff"/><rect y="406.1" height="2.49" width="506.5" fill="#f5f5f5"/><rect y="407.89" height="1.59" width="506.5" fill="#fcfcfc"/><rect y="408.78" height="1.59" width="506.5" fill="#f5f5f5"/><rect y="409.68" height="1.59" width="506.5" fill="#ffffff"/><rect y="410.57" height="1.59" width="506.5" fill="#f7f7f7"/><rect y="411.47" height="1.59" width="506.5" fill="#dbdbdb"/><rect y="412.36" height="1.59" width="506.5" fill="#d9d9d9"/><rect y="413.26" height="1.59" width="506.5" fill="#969696"/><rect y="414.15" height="1.59" width="506.5" fill="#c4c4c4"/><rect y="415.04" height="1.59" width="506.5" fill="#e3e3e3"/><rect y="415.94" height="1.59" width="506.5" fill="#e0e0e0"/><rect y="416.83" height="1.59" width="506.5" fill="#dbdbdb"/><rect y="417.73" height="1.59" width="506.5" fill="#d9d9d9"/><rect y="418.62" height="0.88" width="506.5" fill="#999999"/></g></g><rect x="0" y="0" width="1" height="419.5" fill="#4a1c52"/><rect x="0" y="0" width="506.5" height="0.83" fill="#4a1c52"/><rect x="210.6" y="0" width="1.7" height="419.5" fill="#1c102e"/><rect x="0" y="174.43" width="506.5" height="1.41" fill="#1c102e"/><rect x="456.5" y="0" width="1.8" height="419.5" fill="#1c102e"/><rect x="0" y="378.09" width="506.5" height="1.49" fill="#1c102e"/><line x1="0" y1="0" x2="506.5" y2="419.5" stroke="#f9dfcc" stroke-width="1.25" stroke-opacity="0.85"/></svg><svg style="position:absolute;left:1px;top:519px" width="506.3" height="419" viewBox="0 0 506.3 419"><g filter="url(#fc)"><rect width="506.3" height="419" fill="#f5f5f5"/><g style="mix-blend-mode:multiply"><rect x="0" width="3.9" height="419" fill="#cfcfcf"/><rect x="3.2" width="9.7" height="419" fill="#f1f1f1"/><rect x="12.2" width="2.8" height="419" fill="#000000"/><rect x="14.3" width="3.4" height="419" fill="#ececec"/><rect x="17" width="2.7" height="419" fill="#000000"/><rect x="19" width="6" height="419" fill="#f9f9f9"/><rect x="24.3" width="3.4" height="419" fill="#000000"/><rect x="27" width="3.3" height="419" fill="#ececec"/><rect x="29.6" width="12.4" height="419" fill="#acacac"/><rect x="41.3" width="3.8" height="419" fill="#000000"/><rect x="44.4" width="3.3" height="419" fill="#bcbcbc"/><rect x="47" width="16.1" height="419" fill="#838383"/><rect x="62.4" width="2.3" height="419" fill="#b6b6b6"/><rect x="64" width="15.5" height="419" fill="#777777"/><rect x="78.8" width="3.9" height="419" fill="#d2d2d2"/><rect x="82" width="9.7" height="419" fill="#282828"/><rect x="91" width="11.3" height="419" fill="#717171"/><rect x="101.6" width="3.3" height="419" fill="#b6b6b6"/><rect x="104.2" width="5.5" height="419" fill="#4e4e4e"/><rect x="109" width="3.9" height="419" fill="#cacaca"/><rect x="112.2" width="15.5" height="419" fill="#838383"/><rect x="127" width="12.3" height="419" fill="#3f3f3f"/><rect x="138.6" width="3.4" height="419" fill="#bcbcbc"/><rect x="141.3" width="8.6" height="419" fill="#626262"/><rect x="149.2" width="10.3" height="419" fill="#8d8d8d"/><rect x="158.8" width="3.9" height="419" fill="#a2a2a2"/><rect x="162" width="10.1" height="419" fill="#626262"/><rect x="171.4" width="6" height="419" fill="#838383"/><rect x="176.7" width="10.3" height="419" fill="#626262"/><rect x="186.3" width="3.4" height="419" fill="#9a9a9a"/><rect x="189" width="5.4" height="419" fill="#000000"/><rect x="193.7" width="3.8" height="419" fill="#d2d2d2"/><rect x="196.8" width="2.9" height="419" fill="#000000"/><rect x="199" width="3.7" height="419" fill="#e2e2e2"/><rect x="202" width="3" height="419" fill="#acacac"/><rect x="204.3" width="2.8" height="419" fill="#c2c2c2"/><rect x="206.4" width="8.1" height="419" fill="#acacac"/><rect x="213.8" width="5.9" height="419" fill="#626262"/><rect x="219" width="7.7" height="419" fill="#838383"/><rect x="226" width="3.7" height="419" fill="#d2d2d2"/><rect x="229" width="5.6" height="419" fill="#000000"/><rect x="233.9" width="10.8" height="419" fill="#bcbcbc"/><rect x="244" width="3.3" height="419" fill="#000000"/><rect x="246.6" width="3.3" height="419" fill="#e2e2e2"/><rect x="249.2" width="2.8" height="419" fill="#000000"/><rect x="251.3" width="3.4" height="419" fill="#bcbcbc"/><rect x="254" width="2.7" height="419" fill="#acacac"/><rect x="256" width="3.5" height="419" fill="#9a9a9a"/><rect x="258.8" width="5.4" height="419" fill="#717171"/><rect x="263.5" width="3.9" height="419" fill="#dbdbdb"/><rect x="266.7" width="6" height="419" fill="#717171"/><rect x="272" width="3.7" height="419" fill="#a2a2a2"/><rect x="275" width="9.3" height="419" fill="#838383"/><rect x="283.6" width="3.4" height="419" fill="#bcbcbc"/><rect x="286.3" width="8.6" height="419" fill="#838383"/><rect x="294.2" width="8.1" height="419" fill="#717171"/><rect x="301.6" width="8.1" height="419" fill="#c5c5c5"/><rect x="309" width="5" height="419" fill="#000000"/><rect x="313.3" width="13.9" height="419" fill="#d7d7d7"/><rect x="326.5" width="12.9" height="419" fill="#000000"/><rect x="338.7" width="17.6" height="419" fill="#777777"/><rect x="355.6" width="3.9" height="419" fill="#000000"/><rect x="358.8" width="15.5" height="419" fill="#d2d2d2"/><rect x="373.6" width="3.1" height="419" fill="#838383"/><rect x="376" width="5.7" height="419" fill="#bcbcbc"/><rect x="381" width="16.6" height="419" fill="#c5c5c5"/><rect x="396.9" width="4.8" height="419" fill="#000000"/><rect x="401" width="3.4" height="419" fill="#cacaca"/><rect x="403.7" width="5.5" height="419" fill="#a2a2a2"/><rect x="408.5" width="6" height="419" fill="#cacaca"/><rect x="413.8" width="5.5" height="419" fill="#acacac"/><rect x="418.6" width="3.8" height="419" fill="#e2e2e2"/><rect x="421.7" width="5" height="419" fill="#bcbcbc"/><rect x="426" width="3.3" height="419" fill="#e2e2e2"/><rect x="428.6" width="3.4" height="419" fill="#000000"/><rect x="431.3" width="5.4" height="419" fill="#bcbcbc"/><rect x="436" width="3.9" height="419" fill="#e9e9e9"/><rect x="439.2" width="10.2" height="419" fill="#bcbcbc"/><rect x="448.7" width="3.4" height="419" fill="#626262"/><rect x="451.4" width="6.5" height="419" fill="#d2d2d2"/><rect x="457.2" width="4.9" height="419" fill="#b6b6b6"/><rect x="461.4" width="5" height="419" fill="#d2d2d2"/><rect x="465.7" width="3.8" height="419" fill="#000000"/><rect x="468.8" width="6" height="419" fill="#d2d2d2"/><rect x="474.1" width="5.5" height="419" fill="#000000"/><rect x="478.9" width="10.8" height="419" fill="#b6b6b6"/><rect x="489" width="2.7" height="419" fill="#626262"/><rect x="491" width="2.9" height="419" fill="#a2a2a2"/><rect x="493.2" width="3.8" height="419" fill="#cacaca"/><rect x="496.3" width="3.4" height="419" fill="#9a9a9a"/><rect x="499" width="3.3" height="419" fill="#bcbcbc"/><rect x="501.6" width="4.7" height="419" fill="#000000"/></g><g style="mix-blend-mode:multiply"><rect y="0" height="3.35" width="506.3" fill="#cfcfcf"/><rect y="2.65" height="8.15" width="506.3" fill="#f1f1f1"/><rect y="10.1" height="2.44" width="506.3" fill="#000000"/><rect y="11.83" height="2.93" width="506.3" fill="#ececec"/><rect y="14.07" height="2.36" width="506.3" fill="#000000"/><rect y="15.72" height="5.09" width="506.3" fill="#f9f9f9"/><rect y="20.11" height="2.93" width="506.3" fill="#000000"/><rect y="22.34" height="2.85" width="506.3" fill="#ececec"/><rect y="24.5" height="10.38" width="506.3" fill="#acacac"/><rect y="34.18" height="3.27" width="506.3" fill="#000000"/><rect y="36.74" height="2.85" width="506.3" fill="#bcbcbc"/><rect y="38.9" height="13.44" width="506.3" fill="#838383"/><rect y="51.64" height="2.02" width="506.3" fill="#b6b6b6"/><rect y="52.96" height="12.95" width="506.3" fill="#777777"/><rect y="65.21" height="3.35" width="506.3" fill="#d2d2d2"/><rect y="67.86" height="8.15" width="506.3" fill="#282828"/><rect y="75.31" height="9.47" width="506.3" fill="#717171"/><rect y="84.08" height="2.85" width="506.3" fill="#b6b6b6"/><rect y="86.23" height="4.67" width="506.3" fill="#4e4e4e"/><rect y="90.21" height="3.35" width="506.3" fill="#cacaca"/><rect y="92.85" height="12.95" width="506.3" fill="#838383"/><rect y="105.1" height="10.3" width="506.3" fill="#3f3f3f"/><rect y="114.7" height="2.93" width="506.3" fill="#bcbcbc"/><rect y="116.94" height="7.24" width="506.3" fill="#626262"/><rect y="123.47" height="8.64" width="506.3" fill="#8d8d8d"/><rect y="131.42" height="3.35" width="506.3" fill="#a2a2a2"/><rect y="134.07" height="8.48" width="506.3" fill="#626262"/><rect y="141.85" height="5.09" width="506.3" fill="#838383"/><rect y="146.23" height="8.64" width="506.3" fill="#626262"/><rect y="154.18" height="2.93" width="506.3" fill="#9a9a9a"/><rect y="156.41" height="4.59" width="506.3" fill="#000000"/><rect y="160.3" height="3.27" width="506.3" fill="#d2d2d2"/><rect y="162.87" height="2.52" width="506.3" fill="#000000"/><rect y="164.69" height="3.18" width="506.3" fill="#e2e2e2"/><rect y="167.17" height="2.6" width="506.3" fill="#acacac"/><rect y="169.07" height="2.44" width="506.3" fill="#c2c2c2"/><rect y="170.81" height="6.82" width="506.3" fill="#acacac"/><rect y="176.94" height="5" width="506.3" fill="#626262"/><rect y="181.24" height="6.49" width="506.3" fill="#838383"/><rect y="187.03" height="3.18" width="506.3" fill="#d2d2d2"/><rect y="189.51" height="4.76" width="506.3" fill="#000000"/><rect y="193.57" height="9.06" width="506.3" fill="#bcbcbc"/><rect y="201.93" height="2.85" width="506.3" fill="#000000"/><rect y="204.08" height="2.85" width="506.3" fill="#e2e2e2"/><rect y="206.23" height="2.44" width="506.3" fill="#000000"/><rect y="207.97" height="2.93" width="506.3" fill="#bcbcbc"/><rect y="210.2" height="2.36" width="506.3" fill="#acacac"/><rect y="211.86" height="3.02" width="506.3" fill="#9a9a9a"/><rect y="214.18" height="4.59" width="506.3" fill="#717171"/><rect y="218.07" height="3.35" width="506.3" fill="#dbdbdb"/><rect y="220.71" height="5.09" width="506.3" fill="#717171"/><rect y="225.1" height="3.18" width="506.3" fill="#a2a2a2"/><rect y="227.58" height="7.82" width="506.3" fill="#838383"/><rect y="234.7" height="2.93" width="506.3" fill="#bcbcbc"/><rect y="236.93" height="7.24" width="506.3" fill="#838383"/><rect y="243.47" height="6.82" width="506.3" fill="#717171"/><rect y="249.6" height="6.82" width="506.3" fill="#c5c5c5"/><rect y="255.72" height="4.26" width="506.3" fill="#000000"/><rect y="259.28" height="11.62" width="506.3" fill="#d7d7d7"/><rect y="270.2" height="10.8" width="506.3" fill="#000000"/><rect y="280.3" height="14.69" width="506.3" fill="#777777"/><rect y="294.28" height="3.35" width="506.3" fill="#000000"/><rect y="296.93" height="12.95" width="506.3" fill="#d2d2d2"/><rect y="309.18" height="2.69" width="506.3" fill="#838383"/><rect y="311.17" height="4.84" width="506.3" fill="#bcbcbc"/><rect y="315.31" height="13.86" width="506.3" fill="#c5c5c5"/><rect y="328.46" height="4.09" width="506.3" fill="#000000"/><rect y="331.86" height="2.93" width="506.3" fill="#cacaca"/><rect y="334.09" height="4.67" width="506.3" fill="#a2a2a2"/><rect y="338.06" height="5.09" width="506.3" fill="#cacaca"/><rect y="342.45" height="4.67" width="506.3" fill="#acacac"/><rect y="346.42" height="3.27" width="506.3" fill="#e2e2e2"/><rect y="348.99" height="4.26" width="506.3" fill="#bcbcbc"/><rect y="352.55" height="2.85" width="506.3" fill="#e2e2e2"/><rect y="354.7" height="2.93" width="506.3" fill="#000000"/><rect y="356.93" height="4.59" width="506.3" fill="#bcbcbc"/><rect y="360.82" height="3.35" width="506.3" fill="#e9e9e9"/><rect y="363.47" height="8.56" width="506.3" fill="#bcbcbc"/><rect y="371.33" height="2.93" width="506.3" fill="#626262"/><rect y="373.57" height="5.5" width="506.3" fill="#d2d2d2"/><rect y="378.37" height="4.18" width="506.3" fill="#b6b6b6"/><rect y="381.84" height="4.26" width="506.3" fill="#d2d2d2"/><rect y="385.4" height="3.27" width="506.3" fill="#000000"/><rect y="387.97" height="5.09" width="506.3" fill="#d2d2d2"/><rect y="392.35" height="4.67" width="506.3" fill="#000000"/><rect y="396.32" height="9.06" width="506.3" fill="#b6b6b6"/><rect y="404.68" height="2.36" width="506.3" fill="#626262"/><rect y="406.34" height="2.52" width="506.3" fill="#a2a2a2"/><rect y="408.16" height="3.27" width="506.3" fill="#cacaca"/><rect y="410.72" height="2.93" width="506.3" fill="#9a9a9a"/><rect y="412.96" height="2.85" width="506.3" fill="#bcbcbc"/><rect y="415.11" height="3.89" width="506.3" fill="#000000"/></g></g><rect x="47.5" y="66.21" width="2.5" height="2.07" fill="#f4875e"/><rect x="80" y="39.31" width="2.5" height="2.07" fill="#f4875e"/><rect x="47.5" y="280.55" width="2.5" height="4.14" fill="#f4875e"/><rect x="339" y="39.31" width="5" height="2.07" fill="#f4875e"/><rect x="47.5" y="160.96" width="2.5" height="2.07" fill="#7a1f59"/><rect x="194.5" y="39.31" width="2.5" height="2.07" fill="#7a1f59"/><rect x="47.5" y="270.62" width="2.5" height="2.07" fill="#7a1f59"/><rect x="327" y="39.31" width="2.5" height="2.07" fill="#7a1f59"/><rect x="80" y="160.96" width="2.5" height="2.07" fill="#faebdd"/><rect x="194.5" y="66.21" width="2.5" height="2.07" fill="#faebdd"/><rect x="80" y="280.55" width="2.5" height="4.14" fill="#f8d0b5"/><rect x="339" y="66.21" width="5" height="2.07" fill="#f8d0b5"/><rect x="80" y="270.62" width="2.5" height="2.07" fill="#8a1d5b"/><rect x="327" y="66.21" width="2.5" height="2.07" fill="#8a1d5b"/><rect x="194.5" y="280.55" width="2.5" height="4.14" fill="#d1264a"/><rect x="339" y="160.96" width="5" height="2.07" fill="#d1264a"/><rect x="327" y="280.55" width="2.5" height="4.14" fill="#f4875e"/><rect x="339" y="270.62" width="5" height="2.07" fill="#f4875e"/><rect x="339" y="280.55" width="5" height="4.14" fill="#faebdd"/><rect x="237.5" y="196.55" width="5" height="4.14" fill="#faebdd"/><path d="M0 0h2.506v2.074h-2.506zm2.506 2.074h2.506v2.074h-2.506zm2.506 2.074h2.506v2.074h-2.506zm2.506 2.074h2.506v2.074h-2.506zm2.506 2.074h2.506v2.074h-2.506zm2.506 2.074h2.506v2.074h-2.506zm2.506 2.074h2.506v2.074h-2.506zm2.506 2.074h2.506v2.074h-2.506zm2.506 2.074h2.506v2.074h-2.506zm2.506 2.074h2.506v2.074h-2.506zm2.506 2.074h2.506v2.074h-2.506zm2.506 2.074h2.506v2.074h-2.506zm2.506 2.074h2.506v2.074h-2.506zm2.506 2.074h2.506v2.074h-2.506zm2.506 2.074h2.506v2.074h-2.506zm2.506 2.074h2.506v2.074h-2.506zm2.506 2.074h2.506v2.074h-2.506zm2.506 2.074h2.506v2.074h-2.506zm2.506 2.074h2.506v2.074h-2.506zm2.506 2.074h2.506v2.074h-2.506zm2.506 2.074h2.506v2.074h-2.506zm2.506 2.074h2.506v2.074h-2.506zm2.506 2.074h2.506v2.074h-2.506zm2.506 2.074h2.506v2.074h-2.506zm2.506 2.074h2.506v2.074h-2.506zm2.506 2.074h2.506v2.074h-2.506zm2.506 2.074h2.506v2.074h-2.506zm2.506 2.074h2.506v2.074h-2.506zm2.506 2.074h2.506v2.074h-2.506zm2.506 2.074h2.506v2.074h-2.506zm2.506 2.074h2.506v2.074h-2.506zm2.506 2.074h2.506v2.074h-2.506zm2.506 2.074h2.506v2.074h-2.506zm2.506 2.074h2.506v2.074h-2.506zm2.506 2.074h2.506v2.074h-2.506zm2.506 2.074h2.506v2.074h-2.506zm2.506 2.074h2.506v2.074h-2.506zm2.506 2.074h2.506v2.074h-2.506zm2.506 2.074h2.506v2.074h-2.506zm2.506 2.074h2.506v2.074h-2.506zm2.506 2.074h2.506v2.074h-2.506zm2.506 2.074h2.506v2.074h-2.506zm2.506 2.074h2.506v2.074h-2.506zm2.506 2.074h2.506v2.074h-2.506zm2.506 2.074h2.506v2.074h-2.506zm2.506 2.074h2.506v2.074h-2.506zm2.506 2.074h2.506v2.074h-2.506zm2.506 2.074h2.506v2.074h-2.506zm2.506 2.074h2.506v2.074h-2.506zm2.506 2.074h2.506v2.074h-2.506zm2.506 2.074h2.506v2.074h-2.506zm2.506 2.074h2.506v2.074h-2.506zm2.506 2.074h2.506v2.074h-2.506zm2.506 2.074h2.506v2.074h-2.506zm2.506 2.074h2.506v2.074h-2.506zm2.506 2.074h2.506v2.074h-2.506zm2.506 2.074h2.506v2.074h-2.506zm2.506 2.074h2.506v2.074h-2.506zm2.506 2.074h2.506v2.074h-2.506zm2.506 2.074h2.506v2.074h-2.506zm2.506 2.074h2.506v2.074h-2.506zm2.506 2.074h2.506v2.074h-2.506zm2.506 2.074h2.506v2.074h-2.506zm2.506 2.074h2.506v2.074h-2.506zm2.506 2.074h2.506v2.074h-2.506zm2.506 2.074h2.506v2.074h-2.506zm2.506 2.074h2.506v2.074h-2.506zm2.506 2.074h2.506v2.074h-2.506zm2.506 2.074h2.506v2.074h-2.506zm2.506 2.074h2.506v2.074h-2.506zm2.506 2.074h2.506v2.074h-2.506zm2.506 2.074h2.506v2.074h-2.506zm2.506 2.074h2.506v2.074h-2.506zm2.506 2.074h2.506v2.074h-2.506zm2.506 2.074h2.506v2.074h-2.506zm2.506 2.074h2.506v2.074h-2.506zm2.506 2.074h2.506v2.074h-2.506zm2.506 2.074h2.506v2.074h-2.506zm2.506 2.074h2.506v2.074h-2.506zm2.506 2.074h2.506v2.074h-2.506zm2.506 2.074h2.506v2.074h-2.506zm2.506 2.074h2.506v2.074h-2.506zm2.506 2.074h2.506v2.074h-2.506zm2.506 2.074h2.506v2.074h-2.506zm2.506 2.074h2.506v2.074h-2.506zm2.506 2.074h2.506v2.074h-2.506zm2.506 2.074h2.506v2.074h-2.506zm2.506 2.074h2.506v2.074h-2.506zm2.506 2.074h2.506v2.074h-2.506zm2.506 2.074h2.506v2.074h-2.506zm2.506 2.074h2.506v2.074h-2.506zm2.506 2.074h2.506v2.074h-2.506zm2.506 2.074h2.506v2.074h-2.506zm2.506 2.074h2.506v2.074h-2.506zm2.506 2.074h2.506v2.074h-2.506zm2.506 2.074h2.506v2.074h-2.506zm2.506 2.074h2.506v2.074h-2.506zm2.506 2.074h2.506v2.074h-2.506zm2.506 2.074h2.506v2.074h-2.506zm2.506 2.074h2.506v2.074h-2.506zm2.506 2.074h2.506v2.074h-2.506zm2.506 2.074h2.506v2.074h-2.506zm2.506 2.074h2.506v2.074h-2.506zm2.506 2.074h2.506v2.074h-2.506zm2.506 2.074h2.506v2.074h-2.506zm2.506 2.074h2.506v2.074h-2.506zm2.506 2.074h2.506v2.074h-2.506zm2.506 2.074h2.506v2.074h-2.506zm2.506 2.074h2.506v2.074h-2.506zm2.506 2.074h2.506v2.074h-2.506zm2.506 2.074h2.506v2.074h-2.506zm2.506 2.074h2.506v2.074h-2.506zm2.506 2.074h2.506v2.074h-2.506zm2.506 2.074h2.506v2.074h-2.506zm2.506 2.074h2.506v2.074h-2.506zm2.506 2.074h2.506v2.074h-2.506zm2.506 2.074h2.506v2.074h-2.506zm2.506 2.074h2.506v2.074h-2.506zm2.506 2.074h2.506v2.074h-2.506zm2.506 2.074h2.506v2.074h-2.506zm2.506 2.074h2.506v2.074h-2.506zm2.506 2.074h2.506v2.074h-2.506zm2.506 2.074h2.506v2.074h-2.506zm2.506 2.074h2.506v2.074h-2.506zm2.506 2.074h2.506v2.074h-2.506zm2.506 2.074h2.506v2.074h-2.506zm2.506 2.074h2.506v2.074h-2.506zm2.506 2.074h2.506v2.074h-2.506zm2.506 2.074h2.506v2.074h-2.506zm2.506 2.074h2.506v2.074h-2.506zm2.506 2.074h2.506v2.074h-2.506zm2.506 2.074h2.506v2.074h-2.506zm2.506 2.074h2.506v2.074h-2.506zm2.506 2.074h2.506v2.074h-2.506zm2.506 2.074h2.506v2.074h-2.506zm2.506 2.074h2.506v2.074h-2.506zm2.506 2.074h2.506v2.074h-2.506zm2.506 2.074h2.506v2.074h-2.506zm2.506 2.074h2.506v2.074h-2.506zm2.506 2.074h2.506v2.074h-2.506zm2.506 2.074h2.506v2.074h-2.506zm2.506 2.074h2.506v2.074h-2.506zm2.506 2.074h2.506v2.074h-2.506zm2.506 2.074h2.506v2.074h-2.506zm2.506 2.074h2.506v2.074h-2.506zm2.506 2.074h2.506v2.074h-2.506zm2.506 2.074h2.506v2.074h-2.506zm2.506 2.074h2.506v2.074h-2.506zm2.506 2.074h2.506v2.074h-2.506zm2.506 2.074h2.506v2.074h-2.506zm2.506 2.074h2.506v2.074h-2.506zm2.506 2.074h2.506v2.074h-2.506zm2.506 2.074h2.506v2.074h-2.506zm2.506 2.074h2.506v2.074h-2.506zm2.506 2.074h2.506v2.074h-2.506zm2.506 2.074h2.506v2.074h-2.506zm2.506 2.074h2.506v2.074h-2.506zm2.506 2.074h2.506v2.074h-2.506zm2.506 2.074h2.506v2.074h-2.506zm2.506 2.074h2.506v2.074h-2.506zm2.506 2.074h2.506v2.074h-2.506zm2.506 2.074h2.506v2.074h-2.506zm2.506 2.074h2.506v2.074h-2.506zm2.506 2.074h2.506v2.074h-2.506zm2.506 2.074h2.506v2.074h-2.506zm2.506 2.074h2.506v2.074h-2.506zm2.506 2.074h2.506v2.074h-2.506zm2.506 2.074h2.506v2.074h-2.506zm2.506 2.074h2.506v2.074h-2.506zm2.506 2.074h2.506v2.074h-2.506zm2.506 2.074h2.506v2.074h-2.506zm2.506 2.074h2.506v2.074h-2.506zm2.506 2.074h2.506v2.074h-2.506zm2.506 2.074h2.506v2.074h-2.506zm2.506 2.074h2.506v2.074h-2.506zm2.506 2.074h2.506v2.074h-2.506zm2.506 2.074h2.506v2.074h-2.506zm2.506 2.074h2.506v2.074h-2.506zm2.506 2.074h2.506v2.074h-2.506zm2.506 2.074h2.506v2.074h-2.506zm2.506 2.074h2.506v2.074h-2.506zm2.506 2.074h2.506v2.074h-2.506zm2.506 2.074h2.506v2.074h-2.506zm2.506 2.074h2.506v2.074h-2.506zm2.506 2.074h2.506v2.074h-2.506zm2.506 2.074h2.506v2.074h-2.506zm2.506 2.074h2.506v2.074h-2.506zm2.506 2.074h2.506v2.074h-2.506zm2.506 2.074h2.506v2.074h-2.506zm2.506 2.074h2.506v2.074h-2.506zm2.506 2.074h2.506v2.074h-2.506zm2.506 2.074h2.506v2.074h-2.506zm2.506 2.074h2.506v2.074h-2.506zm2.506 2.074h2.506v2.074h-2.506zm2.506 2.074h2.506v2.074h-2.506zm2.506 2.074h2.506v2.074h-2.506zm2.506 2.074h2.506v2.074h-2.506zm2.506 2.074h2.506v2.074h-2.506zm2.506 2.074h2.506v2.074h-2.506zm2.506 2.074h2.506v2.074h-2.506zm2.506 2.074h2.506v2.074h-2.506zm2.506 2.074h2.506v2.074h-2.506zm2.506 2.074" fill="#faebdd"/></svg><svg style="position:absolute;left:613.7px;top:519px" width="506.5" height="419" viewBox="0 0 506.5 419"><g filter="url(#fd)"><rect width="506.5" height="419" fill="#333333"/><rect x="0" y="0" width="32" height="26.47" fill="#3a3a3a"/><rect x="31.5" y="0" width="29.5" height="26.47" fill="#2e2e2e"/><rect x="0" y="26.06" width="32" height="24.4" fill="#2e2e2e"/><rect x="60.5" y="0" width="9" height="26.47" fill="#2a2a2a"/><rect x="0" y="50.05" width="32" height="7.45" fill="#2a2a2a"/><rect x="69" y="0" width="25" height="26.47" fill="#3f3f3f"/><rect x="0" y="57.08" width="32" height="20.68" fill="#3f3f3f"/><rect x="93.5" y="0" width="11.5" height="26.47" fill="#3f3f3f"/><rect x="0" y="77.35" width="32" height="9.51" fill="#3f3f3f"/><rect x="104.5" y="0" width="12.3" height="26.47" fill="#434343"/><rect x="0" y="86.45" width="32" height="10.18" fill="#434343"/><rect x="116.3" y="0" width="16.6" height="26.47" fill="#343434"/><rect x="0" y="96.21" width="32" height="13.73" fill="#343434"/><rect x="132.4" y="0" width="10.1" height="26.47" fill="#3c3c3c"/><rect x="0" y="109.53" width="32" height="8.36" fill="#3c3c3c"/><rect x="142" y="0" width="7" height="26.47" fill="#2a2a2a"/><rect x="0" y="117.47" width="32" height="5.79" fill="#2a2a2a"/><rect x="148.5" y="0" width="33.7" height="26.47" fill="#464646"/><rect x="0" y="122.85" width="32" height="27.88" fill="#464646"/><rect x="181.7" y="0" width="6.8" height="26.47" fill="#2a2a2a"/><rect x="0" y="150.31" width="32" height="5.63" fill="#2a2a2a"/><rect x="188" y="0" width="15.5" height="26.47" fill="#393939"/><rect x="0" y="155.52" width="32" height="12.82" fill="#393939"/><rect x="203" y="0" width="26.5" height="26.47" fill="#404040"/><rect x="0" y="167.93" width="32" height="21.92" fill="#404040"/><rect x="229" y="0" width="6.8" height="26.47" fill="#373737"/><rect x="0" y="189.44" width="32" height="5.63" fill="#373737"/><rect x="235.3" y="0" width="8.2" height="26.47" fill="#2a2a2a"/><rect x="0" y="194.65" width="32" height="6.78" fill="#2a2a2a"/><rect x="243" y="0" width="33.5" height="26.47" fill="#464646"/><rect x="0" y="201.02" width="32" height="27.71" fill="#464646"/><rect x="276" y="0" width="24.2" height="26.47" fill="#393939"/><rect x="0" y="228.32" width="32" height="20.02" fill="#393939"/><rect x="299.7" y="0" width="11.3" height="26.47" fill="#303030"/><rect x="0" y="247.93" width="32" height="9.35" fill="#303030"/><rect x="310.5" y="0" width="14.5" height="26.47" fill="#484848"/><rect x="0" y="256.86" width="32" height="12" fill="#484848"/><rect x="324.5" y="0" width="11" height="26.47" fill="#484848"/><rect x="0" y="268.44" width="32" height="9.1" fill="#484848"/><rect x="335" y="0" width="28.5" height="26.47" fill="#343434"/><rect x="0" y="277.13" width="32" height="23.58" fill="#343434"/><rect x="363" y="0" width="11.9" height="26.47" fill="#2a2a2a"/><rect x="0" y="300.29" width="32" height="9.84" fill="#2a2a2a"/><rect x="374.4" y="0" width="27.5" height="26.47" fill="#434343"/><rect x="0" y="309.72" width="32" height="22.75" fill="#434343"/><rect x="401.4" y="0" width="15.3" height="26.47" fill="#3f3f3f"/><rect x="0" y="332.06" width="32" height="12.66" fill="#3f3f3f"/><rect x="416.2" y="0" width="41.3" height="26.47" fill="#383838"/><rect x="0" y="344.3" width="32" height="34.17" fill="#383838"/><rect x="457" y="0" width="9.5" height="26.47" fill="#3f3f3f"/><rect x="0" y="378.05" width="32" height="7.86" fill="#3f3f3f"/><rect x="466" y="0" width="8.8" height="26.47" fill="#393939"/><rect x="0" y="385.5" width="32" height="7.28" fill="#393939"/><rect x="474.3" y="0" width="32.7" height="26.47" fill="#393939"/><rect x="0" y="392.36" width="32" height="27.05" fill="#393939"/><rect x="31.5" y="26.06" width="29.5" height="24.4" fill="#b7b7b7"/><rect x="60.5" y="26.06" width="9" height="24.4" fill="#2a2a2a"/><rect x="31.5" y="50.05" width="29.5" height="7.45" fill="#2a2a2a"/><rect x="69" y="26.06" width="25" height="24.4" fill="#2f2f2f"/><rect x="31.5" y="57.08" width="29.5" height="20.68" fill="#2f2f2f"/><rect x="93.5" y="26.06" width="11.5" height="24.4" fill="#2f2f2f"/><rect x="31.5" y="77.35" width="29.5" height="9.51" fill="#2f2f2f"/><rect x="104.5" y="26.06" width="12.3" height="24.4" fill="#303030"/><rect x="31.5" y="86.45" width="29.5" height="10.18" fill="#303030"/><rect x="116.3" y="26.06" width="16.6" height="24.4" fill="#2d2d2d"/><rect x="31.5" y="96.21" width="29.5" height="13.73" fill="#2d2d2d"/><rect x="132.4" y="26.06" width="10.1" height="24.4" fill="#2f2f2f"/><rect x="31.5" y="109.53" width="29.5" height="8.36" fill="#2f2f2f"/><rect x="142" y="26.06" width="7" height="24.4" fill="#2a2a2a"/><rect x="31.5" y="117.47" width="29.5" height="5.79" fill="#2a2a2a"/><rect x="148.5" y="26.06" width="33.7" height="24.4" fill="#313131"/><rect x="31.5" y="122.85" width="29.5" height="27.88" fill="#313131"/><rect x="181.7" y="26.06" width="6.8" height="24.4" fill="#2a2a2a"/><rect x="31.5" y="150.31" width="29.5" height="5.63" fill="#2a2a2a"/><rect x="188" y="26.06" width="15.5" height="24.4" fill="#2e2e2e"/><rect x="31.5" y="155.52" width="29.5" height="12.82" fill="#2e2e2e"/><rect x="203" y="26.06" width="26.5" height="24.4" fill="#2f2f2f"/><rect x="31.5" y="167.93" width="29.5" height="21.92" fill="#2f2f2f"/><rect x="229" y="26.06" width="6.8" height="24.4" fill="#2d2d2d"/><rect x="31.5" y="189.44" width="29.5" height="5.63" fill="#2d2d2d"/><rect x="235.3" y="26.06" width="8.2" height="24.4" fill="#2a2a2a"/><rect x="31.5" y="194.65" width="29.5" height="6.78" fill="#2a2a2a"/><rect x="243" y="26.06" width="33.5" height="24.4" fill="#313131"/><rect x="31.5" y="201.02" width="29.5" height="27.71" fill="#313131"/><rect x="276" y="26.06" width="24.2" height="24.4" fill="#2e2e2e"/><rect x="31.5" y="228.32" width="29.5" height="20.02" fill="#2e2e2e"/><rect x="299.7" y="26.06" width="11.3" height="24.4" fill="#2c2c2c"/><rect x="31.5" y="247.93" width="29.5" height="9.35" fill="#2c2c2c"/><rect x="310.5" y="26.06" width="14.5" height="24.4" fill="#2f2f2f"/><rect x="31.5" y="256.86" width="29.5" height="12" fill="#2f2f2f"/><rect x="324.5" y="26.06" width="11" height="24.4" fill="#2f2f2f"/><rect x="31.5" y="268.44" width="29.5" height="9.1" fill="#2f2f2f"/><rect x="335" y="26.06" width="28.5" height="24.4" fill="#2d2d2d"/><rect x="31.5" y="277.13" width="29.5" height="23.58" fill="#2d2d2d"/><rect x="363" y="26.06" width="11.9" height="24.4" fill="#2a2a2a"/><rect x="31.5" y="300.29" width="29.5" height="9.84" fill="#2a2a2a"/><rect x="374.4" y="26.06" width="27.5" height="24.4" fill="#303030"/><rect x="31.5" y="309.72" width="29.5" height="22.75" fill="#303030"/><rect x="401.4" y="26.06" width="15.3" height="24.4" fill="#2f2f2f"/><rect x="31.5" y="332.06" width="29.5" height="12.66" fill="#2f2f2f"/><rect x="416.2" y="26.06" width="41.3" height="24.4" fill="#2e2e2e"/><rect x="31.5" y="344.3" width="29.5" height="34.17" fill="#2e2e2e"/><rect x="457" y="26.06" width="9.5" height="24.4" fill="#2f2f2f"/><rect x="31.5" y="378.05" width="29.5" height="7.86" fill="#2f2f2f"/><rect x="466" y="26.06" width="8.8" height="24.4" fill="#2e2e2e"/><rect x="31.5" y="385.5" width="29.5" height="7.28" fill="#2e2e2e"/><rect x="474.3" y="26.06" width="32.7" height="24.4" fill="#2e2e2e"/><rect x="31.5" y="392.36" width="29.5" height="27.05" fill="#2e2e2e"/><rect x="60.5" y="50.05" width="9" height="7.45" fill="#2a2a2a"/><rect x="69" y="50.05" width="25" height="7.45" fill="#2a2a2a"/><rect x="60.5" y="57.08" width="9" height="20.68" fill="#2a2a2a"/><rect x="93.5" y="50.05" width="11.5" height="7.45" fill="#2a2a2a"/><rect x="60.5" y="77.35" width="9" height="9.51" fill="#2a2a2a"/><rect x="104.5" y="50.05" width="12.3" height="7.45" fill="#2a2a2a"/><rect x="60.5" y="86.45" width="9" height="10.18" fill="#2a2a2a"/><rect x="116.3" y="50.05" width="16.6" height="7.45" fill="#2a2a2a"/><rect x="60.5" y="96.21" width="9" height="13.73" fill="#2a2a2a"/><rect x="132.4" y="50.05" width="10.1" height="7.45" fill="#2a2a2a"/><rect x="60.5" y="109.53" width="9" height="8.36" fill="#2a2a2a"/><rect x="142" y="50.05" width="7" height="7.45" fill="#2a2a2a"/><rect x="60.5" y="117.47" width="9" height="5.79" fill="#2a2a2a"/><rect x="148.5" y="50.05" width="33.7" height="7.45" fill="#2a2a2a"/><rect x="60.5" y="122.85" width="9" height="27.88" fill="#2a2a2a"/><rect x="181.7" y="50.05" width="6.8" height="7.45" fill="#2a2a2a"/><rect x="60.5" y="150.31" width="9" height="5.63" fill="#2a2a2a"/><rect x="188" y="50.05" width="15.5" height="7.45" fill="#2a2a2a"/><rect x="60.5" y="155.52" width="9" height="12.82" fill="#2a2a2a"/><rect x="203" y="50.05" width="26.5" height="7.45" fill="#2a2a2a"/><rect x="60.5" y="167.93" width="9" height="21.92" fill="#2a2a2a"/><rect x="229" y="50.05" width="6.8" height="7.45" fill="#2a2a2a"/><rect x="60.5" y="189.44" width="9" height="5.63" fill="#2a2a2a"/><rect x="235.3" y="50.05" width="8.2" height="7.45" fill="#2a2a2a"/><rect x="60.5" y="194.65" width="9" height="6.78" fill="#2a2a2a"/><rect x="243" y="50.05" width="33.5" height="7.45" fill="#2a2a2a"/><rect x="60.5" y="201.02" width="9" height="27.71" fill="#2a2a2a"/><rect x="276" y="50.05" width="24.2" height="7.45" fill="#2a2a2a"/><rect x="60.5" y="228.32" width="9" height="20.02" fill="#2a2a2a"/><rect x="299.7" y="50.05" width="11.3" height="7.45" fill="#2a2a2a"/><rect x="60.5" y="247.93" width="9" height="9.35" fill="#2a2a2a"/><rect x="310.5" y="50.05" width="14.5" height="7.45" fill="#2a2a2a"/><rect x="60.5" y="256.86" width="9" height="12" fill="#2a2a2a"/><rect x="324.5" y="50.05" width="11" height="7.45" fill="#2a2a2a"/><rect x="60.5" y="268.44" width="9" height="9.1" fill="#2a2a2a"/><rect x="335" y="50.05" width="28.5" height="7.45" fill="#2a2a2a"/><rect x="60.5" y="277.13" width="9" height="23.58" fill="#2a2a2a"/><rect x="363" y="50.05" width="11.9" height="7.45" fill="#2a2a2a"/><rect x="60.5" y="300.29" width="9" height="9.84" fill="#2a2a2a"/><rect x="374.4" y="50.05" width="27.5" height="7.45" fill="#2a2a2a"/><rect x="60.5" y="309.72" width="9" height="22.75" fill="#2a2a2a"/><rect x="401.4" y="50.05" width="15.3" height="7.45" fill="#2a2a2a"/><rect x="60.5" y="332.06" width="9" height="12.66" fill="#2a2a2a"/><rect x="416.2" y="50.05" width="41.3" height="7.45" fill="#2a2a2a"/><rect x="60.5" y="344.3" width="9" height="34.17" fill="#2a2a2a"/><rect x="457" y="50.05" width="9.5" height="7.45" fill="#2a2a2a"/><rect x="60.5" y="378.05" width="9" height="7.86" fill="#2a2a2a"/><rect x="466" y="50.05" width="8.8" height="7.45" fill="#2a2a2a"/><rect x="60.5" y="385.5" width="9" height="7.28" fill="#2a2a2a"/><rect x="474.3" y="50.05" width="32.7" height="7.45" fill="#2a2a2a"/><rect x="60.5" y="392.36" width="9" height="27.05" fill="#2a2a2a"/><rect x="69" y="57.08" width="25" height="20.68" fill="#484848"/><rect x="93.5" y="57.08" width="11.5" height="20.68" fill="#484848"/><rect x="69" y="77.35" width="25" height="9.51" fill="#484848"/><rect x="104.5" y="57.08" width="12.3" height="20.68" fill="#434343"/><rect x="69" y="86.45" width="25" height="10.18" fill="#434343"/><rect x="116.3" y="57.08" width="16.6" height="20.68" fill="#393939"/><rect x="69" y="96.21" width="25" height="13.73" fill="#393939"/><rect x="132.4" y="57.08" width="10.1" height="20.68" fill="#444444"/><rect x="69" y="109.53" width="25" height="8.36" fill="#444444"/><rect x="142" y="57.08" width="7" height="20.68" fill="#2a2a2a"/><rect x="69" y="117.47" width="25" height="5.79" fill="#2a2a2a"/><rect x="148.5" y="57.08" width="33.7" height="20.68" fill="#535353"/><rect x="69" y="122.85" width="25" height="27.88" fill="#535353"/><rect x="181.7" y="57.08" width="6.8" height="20.68" fill="#2a2a2a"/><rect x="69" y="150.31" width="25" height="5.63" fill="#2a2a2a"/><rect x="188" y="57.08" width="15.5" height="20.68" fill="#404040"/><rect x="69" y="155.52" width="25" height="12.82" fill="#404040"/><rect x="203" y="57.08" width="26.5" height="20.68" fill="#4a4a4a"/><rect x="69" y="167.93" width="25" height="21.92" fill="#4a4a4a"/><rect x="229" y="57.08" width="6.8" height="20.68" fill="#3c3c3c"/><rect x="69" y="189.44" width="25" height="5.63" fill="#3c3c3c"/><rect x="235.3" y="57.08" width="8.2" height="20.68" fill="#2a2a2a"/><rect x="69" y="194.65" width="25" height="6.78" fill="#2a2a2a"/><rect x="243" y="57.08" width="33.5" height="20.68" fill="#535353"/><rect x="69" y="201.02" width="25" height="27.71" fill="#535353"/><rect x="276" y="57.08" width="24.2" height="20.68" fill="#404040"/><rect x="69" y="228.32" width="25" height="20.02" fill="#404040"/><rect x="299.7" y="57.08" width="11.3" height="20.68" fill="#333333"/><rect x="69" y="247.93" width="25" height="9.35" fill="#333333"/><rect x="310.5" y="57.08" width="14.5" height="20.68" fill="#484848"/><rect x="69" y="256.86" width="25" height="12" fill="#484848"/><rect x="324.5" y="57.08" width="11" height="20.68" fill="#484848"/><rect x="69" y="268.44" width="25" height="9.1" fill="#484848"/><rect x="335" y="57.08" width="28.5" height="20.68" fill="#393939"/><rect x="69" y="277.13" width="25" height="23.58" fill="#393939"/><rect x="363" y="57.08" width="11.9" height="20.68" fill="#2a2a2a"/><rect x="69" y="300.29" width="25" height="9.84" fill="#2a2a2a"/><rect x="374.4" y="57.08" width="27.5" height="20.68" fill="#4f4f4f"/><rect x="69" y="309.72" width="25" height="22.75" fill="#4f4f4f"/><rect x="401.4" y="57.08" width="15.3" height="20.68" fill="#484848"/><rect x="69" y="332.06" width="25" height="12.66" fill="#484848"/><rect x="416.2" y="57.08" width="41.3" height="20.68" fill="#3e3e3e"/><rect x="69" y="344.3" width="25" height="34.17" fill="#3e3e3e"/><rect x="457" y="57.08" width="9.5" height="20.68" fill="#484848"/><rect x="69" y="378.05" width="25" height="7.86" fill="#484848"/><rect x="466" y="57.08" width="8.8" height="20.68" fill="#404040"/><rect x="69" y="385.5" width="25" height="7.28" fill="#404040"/><rect x="474.3" y="57.08" width="32.7" height="20.68" fill="#404040"/><rect x="69" y="392.36" width="25" height="27.05" fill="#404040"/><rect x="93.5" y="77.35" width="11.5" height="9.51" fill="#484848"/><rect x="104.5" y="77.35" width="12.3" height="9.51" fill="#434343"/><rect x="93.5" y="86.45" width="11.5" height="10.18" fill="#434343"/><rect x="116.3" y="77.35" width="16.6" height="9.51" fill="#393939"/><rect x="93.5" y="96.21" width="11.5" height="13.73" fill="#393939"/><rect x="132.4" y="77.35" width="10.1" height="9.51" fill="#444444"/><rect x="93.5" y="109.53" width="11.5" height="8.36" fill="#444444"/><rect x="142" y="77.35" width="7" height="9.51" fill="#2a2a2a"/><rect x="93.5" y="117.47" width="11.5" height="5.79" fill="#2a2a2a"/><rect x="148.5" y="77.35" width="33.7" height="9.51" fill="#535353"/><rect x="93.5" y="122.85" width="11.5" height="27.88" fill="#535353"/><rect x="181.7" y="77.35" width="6.8" height="9.51" fill="#2a2a2a"/><rect x="93.5" y="150.31" width="11.5" height="5.63" fill="#2a2a2a"/><rect x="188" y="77.35" width="15.5" height="9.51" fill="#404040"/><rect x="93.5" y="155.52" width="11.5" height="12.82" fill="#404040"/><rect x="203" y="77.35" width="26.5" height="9.51" fill="#4a4a4a"/><rect x="93.5" y="167.93" width="11.5" height="21.92" fill="#4a4a4a"/><rect x="229" y="77.35" width="6.8" height="9.51" fill="#3c3c3c"/><rect x="93.5" y="189.44" width="11.5" height="5.63" fill="#3c3c3c"/><rect x="235.3" y="77.35" width="8.2" height="9.51" fill="#2a2a2a"/><rect x="93.5" y="194.65" width="11.5" height="6.78" fill="#2a2a2a"/><rect x="243" y="77.35" width="33.5" height="9.51" fill="#535353"/><rect x="93.5" y="201.02" width="11.5" height="27.71" fill="#535353"/><rect x="276" y="77.35" width="24.2" height="9.51" fill="#404040"/><rect x="93.5" y="228.32" width="11.5" height="20.02" fill="#404040"/><rect x="299.7" y="77.35" width="11.3" height="9.51" fill="#333333"/><rect x="93.5" y="247.93" width="11.5" height="9.35" fill="#333333"/><rect x="310.5" y="77.35" width="14.5" height="9.51" fill="#adadad"/><rect x="93.5" y="256.86" width="11.5" height="12" fill="#adadad"/><rect x="324.5" y="77.35" width="11" height="9.51" fill="#484848"/><rect x="93.5" y="268.44" width="11.5" height="9.1" fill="#484848"/><rect x="335" y="77.35" width="28.5" height="9.51" fill="#393939"/><rect x="93.5" y="277.13" width="11.5" height="23.58" fill="#393939"/><rect x="363" y="77.35" width="11.9" height="9.51" fill="#2a2a2a"/><rect x="93.5" y="300.29" width="11.5" height="9.84" fill="#2a2a2a"/><rect x="374.4" y="77.35" width="27.5" height="9.51" fill="#4f4f4f"/><rect x="93.5" y="309.72" width="11.5" height="22.75" fill="#4f4f4f"/><rect x="401.4" y="77.35" width="15.3" height="9.51" fill="#484848"/><rect x="93.5" y="332.06" width="11.5" height="12.66" fill="#484848"/><rect x="416.2" y="77.35" width="41.3" height="9.51" fill="#3e3e3e"/><rect x="93.5" y="344.3" width="11.5" height="34.17" fill="#3e3e3e"/><rect x="457" y="77.35" width="9.5" height="9.51" fill="#484848"/><rect x="93.5" y="378.05" width="11.5" height="7.86" fill="#484848"/><rect x="466" y="77.35" width="8.8" height="9.51" fill="#404040"/><rect x="93.5" y="385.5" width="11.5" height="7.28" fill="#404040"/><rect x="474.3" y="77.35" width="32.7" height="9.51" fill="#404040"/><rect x="93.5" y="392.36" width="11.5" height="27.05" fill="#404040"/><rect x="104.5" y="86.45" width="12.3" height="10.18" fill="#adadad"/><rect x="116.3" y="86.45" width="16.6" height="10.18" fill="#3c3c3c"/><rect x="104.5" y="96.21" width="12.3" height="13.73" fill="#3c3c3c"/><rect x="132.4" y="86.45" width="10.1" height="10.18" fill="#525252"/><rect x="104.5" y="109.53" width="12.3" height="8.36" fill="#525252"/><rect x="142" y="86.45" width="7" height="10.18" fill="#2a2a2a"/><rect x="104.5" y="117.47" width="12.3" height="5.79" fill="#2a2a2a"/><rect x="148.5" y="86.45" width="33.7" height="10.18" fill="#7d7d7d"/><rect x="104.5" y="122.85" width="12.3" height="27.88" fill="#7d7d7d"/><rect x="181.7" y="86.45" width="6.8" height="10.18" fill="#2a2a2a"/><rect x="104.5" y="150.31" width="12.3" height="5.63" fill="#2a2a2a"/><rect x="188" y="86.45" width="15.5" height="10.18" fill="#454545"/><rect x="104.5" y="155.52" width="12.3" height="12.82" fill="#454545"/><rect x="203" y="86.45" width="26.5" height="10.18" fill="#c0c0c0"/><rect x="104.5" y="167.93" width="12.3" height="21.92" fill="#c0c0c0"/><rect x="229" y="86.45" width="6.8" height="10.18" fill="#404040"/><rect x="104.5" y="189.44" width="12.3" height="5.63" fill="#404040"/><rect x="235.3" y="86.45" width="8.2" height="10.18" fill="#2a2a2a"/><rect x="104.5" y="194.65" width="12.3" height="6.78" fill="#2a2a2a"/><rect x="243" y="86.45" width="33.5" height="10.18" fill="#656565"/><rect x="104.5" y="201.02" width="12.3" height="27.71" fill="#656565"/><rect x="276" y="86.45" width="24.2" height="10.18" fill="#454545"/><rect x="104.5" y="228.32" width="12.3" height="20.02" fill="#454545"/><rect x="299.7" y="86.45" width="11.3" height="10.18" fill="#353535"/><rect x="104.5" y="247.93" width="12.3" height="9.35" fill="#353535"/><rect x="310.5" y="86.45" width="14.5" height="10.18" fill="#4e4e4e"/><rect x="104.5" y="256.86" width="12.3" height="12" fill="#4e4e4e"/><rect x="324.5" y="86.45" width="11" height="10.18" fill="#4e4e4e"/><rect x="104.5" y="268.44" width="12.3" height="9.1" fill="#4e4e4e"/><rect x="335" y="86.45" width="28.5" height="10.18" fill="#3c3c3c"/><rect x="104.5" y="277.13" width="12.3" height="23.58" fill="#3c3c3c"/><rect x="363" y="86.45" width="11.9" height="10.18" fill="#2a2a2a"/><rect x="104.5" y="300.29" width="12.3" height="9.84" fill="#2a2a2a"/><rect x="374.4" y="86.45" width="27.5" height="10.18" fill="#cacaca"/><rect x="104.5" y="309.72" width="12.3" height="22.75" fill="#cacaca"/><rect x="401.4" y="86.45" width="15.3" height="10.18" fill="#4e4e4e"/><rect x="104.5" y="332.06" width="12.3" height="12.66" fill="#4e4e4e"/><rect x="416.2" y="86.45" width="41.3" height="10.18" fill="#424242"/><rect x="104.5" y="344.3" width="12.3" height="34.17" fill="#424242"/><rect x="457" y="86.45" width="9.5" height="10.18" fill="#656565"/><rect x="104.5" y="378.05" width="12.3" height="7.86" fill="#656565"/><rect x="466" y="86.45" width="8.8" height="10.18" fill="#454545"/><rect x="104.5" y="385.5" width="12.3" height="7.28" fill="#454545"/><rect x="474.3" y="86.45" width="32.7" height="10.18" fill="#454545"/><rect x="104.5" y="392.36" width="12.3" height="27.05" fill="#454545"/><rect x="116.3" y="96.21" width="16.6" height="13.73" fill="#3a3a3a"/><rect x="132.4" y="96.21" width="10.1" height="13.73" fill="#373737"/><rect x="116.3" y="109.53" width="16.6" height="8.36" fill="#373737"/><rect x="142" y="96.21" width="7" height="13.73" fill="#2a2a2a"/><rect x="116.3" y="117.47" width="16.6" height="5.79" fill="#2a2a2a"/><rect x="148.5" y="96.21" width="33.7" height="13.73" fill="#3e3e3e"/><rect x="116.3" y="122.85" width="16.6" height="27.88" fill="#3e3e3e"/><rect x="181.7" y="96.21" width="6.8" height="13.73" fill="#2a2a2a"/><rect x="116.3" y="150.31" width="16.6" height="5.63" fill="#2a2a2a"/><rect x="188" y="96.21" width="15.5" height="13.73" fill="#353535"/><rect x="116.3" y="155.52" width="16.6" height="12.82" fill="#353535"/><rect x="203" y="96.21" width="26.5" height="13.73" fill="#3a3a3a"/><rect x="116.3" y="167.93" width="16.6" height="21.92" fill="#3a3a3a"/><rect x="229" y="96.21" width="6.8" height="13.73" fill="#333333"/><rect x="116.3" y="189.44" width="16.6" height="5.63" fill="#333333"/><rect x="235.3" y="96.21" width="8.2" height="13.73" fill="#2a2a2a"/><rect x="116.3" y="194.65" width="16.6" height="6.78" fill="#2a2a2a"/><rect x="243" y="96.21" width="33.5" height="13.73" fill="#3e3e3e"/><rect x="116.3" y="201.02" width="16.6" height="27.71" fill="#3e3e3e"/><rect x="276" y="96.21" width="24.2" height="13.73" fill="#353535"/><rect x="116.3" y="228.32" width="16.6" height="20.02" fill="#353535"/><rect x="299.7" y="96.21" width="11.3" height="13.73" fill="#2f2f2f"/><rect x="116.3" y="247.93" width="16.6" height="9.35" fill="#2f2f2f"/><rect x="310.5" y="96.21" width="14.5" height="13.73" fill="#393939"/><rect x="116.3" y="256.86" width="16.6" height="12" fill="#393939"/><rect x="324.5" y="96.21" width="11" height="13.73" fill="#393939"/><rect x="116.3" y="268.44" width="16.6" height="9.1" fill="#393939"/><rect x="335" y="96.21" width="28.5" height="13.73" fill="#323232"/><rect x="116.3" y="277.13" width="16.6" height="23.58" fill="#323232"/><rect x="363" y="96.21" width="11.9" height="13.73" fill="#2a2a2a"/><rect x="116.3" y="300.29" width="16.6" height="9.84" fill="#2a2a2a"/><rect x="374.4" y="96.21" width="27.5" height="13.73" fill="#3c3c3c"/><rect x="116.3" y="309.72" width="16.6" height="22.75" fill="#3c3c3c"/><rect x="401.4" y="96.21" width="15.3" height="13.73" fill="#393939"/><rect x="116.3" y="332.06" width="16.6" height="12.66" fill="#393939"/><rect x="416.2" y="96.21" width="41.3" height="13.73" fill="#343434"/><rect x="116.3" y="344.3" width="16.6" height="34.17" fill="#343434"/><rect x="457" y="96.21" width="9.5" height="13.73" fill="#393939"/><rect x="116.3" y="378.05" width="16.6" height="7.86" fill="#393939"/><rect x="466" y="96.21" width="8.8" height="13.73" fill="#353535"/><rect x="116.3" y="385.5" width="16.6" height="7.28" fill="#353535"/><rect x="474.3" y="96.21" width="32.7" height="13.73" fill="#353535"/><rect x="116.3" y="392.36" width="16.6" height="27.05" fill="#353535"/><rect x="132.4" y="109.53" width="10.1" height="8.36" fill="#828282"/><rect x="142" y="109.53" width="7" height="8.36" fill="#2a2a2a"/><rect x="132.4" y="117.47" width="10.1" height="5.79" fill="#2a2a2a"/><rect x="148.5" y="109.53" width="33.7" height="8.36" fill="#4d4d4d"/><rect x="132.4" y="122.85" width="10.1" height="27.88" fill="#4d4d4d"/><rect x="181.7" y="109.53" width="6.8" height="8.36" fill="#2a2a2a"/><rect x="132.4" y="150.31" width="10.1" height="5.63" fill="#2a2a2a"/><rect x="188" y="109.53" width="15.5" height="8.36" fill="#3d3d3d"/><rect x="132.4" y="155.52" width="10.1" height="12.82" fill="#3d3d3d"/><rect x="203" y="109.53" width="26.5" height="8.36" fill="#454545"/><rect x="132.4" y="167.93" width="10.1" height="21.92" fill="#454545"/><rect x="229" y="109.53" width="6.8" height="8.36" fill="#393939"/><rect x="132.4" y="189.44" width="10.1" height="5.63" fill="#393939"/><rect x="235.3" y="109.53" width="8.2" height="8.36" fill="#2a2a2a"/><rect x="132.4" y="194.65" width="10.1" height="6.78" fill="#2a2a2a"/><rect x="243" y="109.53" width="33.5" height="8.36" fill="#4d4d4d"/><rect x="132.4" y="201.02" width="10.1" height="27.71" fill="#4d4d4d"/><rect x="276" y="109.53" width="24.2" height="8.36" fill="#3d3d3d"/><rect x="132.4" y="228.32" width="10.1" height="20.02" fill="#3d3d3d"/><rect x="299.7" y="109.53" width="11.3" height="8.36" fill="#323232"/><rect x="132.4" y="247.93" width="10.1" height="9.35" fill="#323232"/><rect x="310.5" y="109.53" width="14.5" height="8.36" fill="#444444"/><rect x="132.4" y="256.86" width="10.1" height="12" fill="#444444"/><rect x="324.5" y="109.53" width="11" height="8.36" fill="#444444"/><rect x="132.4" y="268.44" width="10.1" height="9.1" fill="#444444"/><rect x="335" y="109.53" width="28.5" height="8.36" fill="#373737"/><rect x="132.4" y="277.13" width="10.1" height="23.58" fill="#373737"/><rect x="363" y="109.53" width="11.9" height="8.36" fill="#2a2a2a"/><rect x="132.4" y="300.29" width="10.1" height="9.84" fill="#2a2a2a"/><rect x="374.4" y="109.53" width="27.5" height="8.36" fill="#494949"/><rect x="132.4" y="309.72" width="10.1" height="22.75" fill="#494949"/><rect x="401.4" y="109.53" width="15.3" height="8.36" fill="#444444"/><rect x="132.4" y="332.06" width="10.1" height="12.66" fill="#444444"/><rect x="416.2" y="109.53" width="41.3" height="8.36" fill="#3b3b3b"/><rect x="132.4" y="344.3" width="10.1" height="34.17" fill="#3b3b3b"/><rect x="457" y="109.53" width="9.5" height="8.36" fill="#444444"/><rect x="132.4" y="378.05" width="10.1" height="7.86" fill="#444444"/><rect x="466" y="109.53" width="8.8" height="8.36" fill="#3d3d3d"/><rect x="132.4" y="385.5" width="10.1" height="7.28" fill="#3d3d3d"/><rect x="474.3" y="109.53" width="32.7" height="8.36" fill="#3d3d3d"/><rect x="132.4" y="392.36" width="10.1" height="27.05" fill="#3d3d3d"/><rect x="142" y="117.47" width="7" height="5.79" fill="#2a2a2a"/><rect x="148.5" y="117.47" width="33.7" height="5.79" fill="#2a2a2a"/><rect x="142" y="122.85" width="7" height="27.88" fill="#2a2a2a"/><rect x="181.7" y="117.47" width="6.8" height="5.79" fill="#2a2a2a"/><rect x="142" y="150.31" width="7" height="5.63" fill="#2a2a2a"/><rect x="188" y="117.47" width="15.5" height="5.79" fill="#2a2a2a"/><rect x="142" y="155.52" width="7" height="12.82" fill="#2a2a2a"/><rect x="203" y="117.47" width="26.5" height="5.79" fill="#2a2a2a"/><rect x="142" y="167.93" width="7" height="21.92" fill="#2a2a2a"/><rect x="229" y="117.47" width="6.8" height="5.79" fill="#2a2a2a"/><rect x="142" y="189.44" width="7" height="5.63" fill="#2a2a2a"/><rect x="235.3" y="117.47" width="8.2" height="5.79" fill="#2a2a2a"/><rect x="142" y="194.65" width="7" height="6.78" fill="#2a2a2a"/><rect x="243" y="117.47" width="33.5" height="5.79" fill="#2a2a2a"/><rect x="142" y="201.02" width="7" height="27.71" fill="#2a2a2a"/><rect x="276" y="117.47" width="24.2" height="5.79" fill="#2a2a2a"/><rect x="142" y="228.32" width="7" height="20.02" fill="#2a2a2a"/><rect x="299.7" y="117.47" width="11.3" height="5.79" fill="#2a2a2a"/><rect x="142" y="247.93" width="7" height="9.35" fill="#2a2a2a"/><rect x="310.5" y="117.47" width="14.5" height="5.79" fill="#2a2a2a"/><rect x="142" y="256.86" width="7" height="12" fill="#2a2a2a"/><rect x="324.5" y="117.47" width="11" height="5.79" fill="#2a2a2a"/><rect x="142" y="268.44" width="7" height="9.1" fill="#2a2a2a"/><rect x="335" y="117.47" width="28.5" height="5.79" fill="#2a2a2a"/><rect x="142" y="277.13" width="7" height="23.58" fill="#2a2a2a"/><rect x="363" y="117.47" width="11.9" height="5.79" fill="#2a2a2a"/><rect x="142" y="300.29" width="7" height="9.84" fill="#2a2a2a"/><rect x="374.4" y="117.47" width="27.5" height="5.79" fill="#2a2a2a"/><rect x="142" y="309.72" width="7" height="22.75" fill="#2a2a2a"/><rect x="401.4" y="117.47" width="15.3" height="5.79" fill="#2a2a2a"/><rect x="142" y="332.06" width="7" height="12.66" fill="#2a2a2a"/><rect x="416.2" y="117.47" width="41.3" height="5.79" fill="#2a2a2a"/><rect x="142" y="344.3" width="7" height="34.17" fill="#2a2a2a"/><rect x="457" y="117.47" width="9.5" height="5.79" fill="#2a2a2a"/><rect x="142" y="378.05" width="7" height="7.86" fill="#2a2a2a"/><rect x="466" y="117.47" width="8.8" height="5.79" fill="#2a2a2a"/><rect x="142" y="385.5" width="7" height="7.28" fill="#2a2a2a"/><rect x="474.3" y="117.47" width="32.7" height="5.79" fill="#2a2a2a"/><rect x="142" y="392.36" width="7" height="27.05" fill="#2a2a2a"/><rect x="148.5" y="122.85" width="33.7" height="27.88" fill="#737373"/><rect x="181.7" y="122.85" width="6.8" height="27.88" fill="#2a2a2a"/><rect x="148.5" y="150.31" width="33.7" height="5.63" fill="#2a2a2a"/><rect x="188" y="122.85" width="15.5" height="27.88" fill="#474747"/><rect x="148.5" y="155.52" width="33.7" height="12.82" fill="#474747"/><rect x="203" y="122.85" width="26.5" height="27.88" fill="#555555"/><rect x="148.5" y="167.93" width="33.7" height="21.92" fill="#555555"/><rect x="229" y="122.85" width="6.8" height="27.88" fill="#424242"/><rect x="148.5" y="189.44" width="33.7" height="5.63" fill="#424242"/><rect x="235.3" y="122.85" width="8.2" height="27.88" fill="#2a2a2a"/><rect x="148.5" y="194.65" width="33.7" height="6.78" fill="#2a2a2a"/><rect x="243" y="122.85" width="33.5" height="27.88" fill="#787878"/><rect x="148.5" y="201.02" width="33.7" height="27.71" fill="#787878"/><rect x="276" y="122.85" width="24.2" height="27.88" fill="#474747"/><rect x="148.5" y="228.32" width="33.7" height="20.02" fill="#474747"/><rect x="299.7" y="122.85" width="11.3" height="27.88" fill="#363636"/><rect x="148.5" y="247.93" width="33.7" height="9.35" fill="#363636"/><rect x="310.5" y="122.85" width="14.5" height="27.88" fill="#525252"/><rect x="148.5" y="256.86" width="33.7" height="12" fill="#525252"/><rect x="324.5" y="122.85" width="11" height="27.88" fill="#525252"/><rect x="148.5" y="268.44" width="33.7" height="9.1" fill="#525252"/><rect x="335" y="122.85" width="28.5" height="27.88" fill="#3e3e3e"/><rect x="148.5" y="277.13" width="33.7" height="23.58" fill="#3e3e3e"/><rect x="363" y="122.85" width="11.9" height="27.88" fill="#2a2a2a"/><rect x="148.5" y="300.29" width="33.7" height="9.84" fill="#2a2a2a"/><rect x="374.4" y="122.85" width="27.5" height="27.88" fill="#787878"/><rect x="148.5" y="309.72" width="33.7" height="22.75" fill="#787878"/><rect x="401.4" y="122.85" width="15.3" height="27.88" fill="#525252"/><rect x="148.5" y="332.06" width="33.7" height="12.66" fill="#525252"/><rect x="416.2" y="122.85" width="41.3" height="27.88" fill="#454545"/><rect x="148.5" y="344.3" width="33.7" height="34.17" fill="#454545"/><rect x="457" y="122.85" width="9.5" height="27.88" fill="#525252"/><rect x="148.5" y="378.05" width="33.7" height="7.86" fill="#525252"/><rect x="466" y="122.85" width="8.8" height="27.88" fill="#474747"/><rect x="148.5" y="385.5" width="33.7" height="7.28" fill="#474747"/><rect x="474.3" y="122.85" width="32.7" height="27.88" fill="#474747"/><rect x="148.5" y="392.36" width="33.7" height="27.05" fill="#474747"/><rect x="181.7" y="150.31" width="6.8" height="5.63" fill="#2a2a2a"/><rect x="188" y="150.31" width="15.5" height="5.63" fill="#2a2a2a"/><rect x="181.7" y="155.52" width="6.8" height="12.82" fill="#2a2a2a"/><rect x="203" y="150.31" width="26.5" height="5.63" fill="#2a2a2a"/><rect x="181.7" y="167.93" width="6.8" height="21.92" fill="#2a2a2a"/><rect x="229" y="150.31" width="6.8" height="5.63" fill="#2a2a2a"/><rect x="181.7" y="189.44" width="6.8" height="5.63" fill="#2a2a2a"/><rect x="235.3" y="150.31" width="8.2" height="5.63" fill="#2a2a2a"/><rect x="181.7" y="194.65" width="6.8" height="6.78" fill="#2a2a2a"/><rect x="243" y="150.31" width="33.5" height="5.63" fill="#2a2a2a"/><rect x="181.7" y="201.02" width="6.8" height="27.71" fill="#2a2a2a"/><rect x="276" y="150.31" width="24.2" height="5.63" fill="#2a2a2a"/><rect x="181.7" y="228.32" width="6.8" height="20.02" fill="#2a2a2a"/><rect x="299.7" y="150.31" width="11.3" height="5.63" fill="#2a2a2a"/><rect x="181.7" y="247.93" width="6.8" height="9.35" fill="#2a2a2a"/><rect x="310.5" y="150.31" width="14.5" height="5.63" fill="#2a2a2a"/><rect x="181.7" y="256.86" width="6.8" height="12" fill="#2a2a2a"/><rect x="324.5" y="150.31" width="11" height="5.63" fill="#2a2a2a"/><rect x="181.7" y="268.44" width="6.8" height="9.1" fill="#2a2a2a"/><rect x="335" y="150.31" width="28.5" height="5.63" fill="#2a2a2a"/><rect x="181.7" y="277.13" width="6.8" height="23.58" fill="#2a2a2a"/><rect x="363" y="150.31" width="11.9" height="5.63" fill="#2a2a2a"/><rect x="181.7" y="300.29" width="6.8" height="9.84" fill="#2a2a2a"/><rect x="374.4" y="150.31" width="27.5" height="5.63" fill="#2a2a2a"/><rect x="181.7" y="309.72" width="6.8" height="22.75" fill="#2a2a2a"/><rect x="401.4" y="150.31" width="15.3" height="5.63" fill="#2a2a2a"/><rect x="181.7" y="332.06" width="6.8" height="12.66" fill="#2a2a2a"/><rect x="416.2" y="150.31" width="41.3" height="5.63" fill="#2a2a2a"/><rect x="181.7" y="344.3" width="6.8" height="34.17" fill="#2a2a2a"/><rect x="457" y="150.31" width="9.5" height="5.63" fill="#2a2a2a"/><rect x="181.7" y="378.05" width="6.8" height="7.86" fill="#2a2a2a"/><rect x="466" y="150.31" width="8.8" height="5.63" fill="#2a2a2a"/><rect x="181.7" y="385.5" width="6.8" height="7.28" fill="#2a2a2a"/><rect x="474.3" y="150.31" width="32.7" height="5.63" fill="#2a2a2a"/><rect x="181.7" y="392.36" width="6.8" height="27.05" fill="#2a2a2a"/><rect x="188" y="155.52" width="15.5" height="12.82" fill="#787878"/><rect x="203" y="155.52" width="26.5" height="12.82" fill="#414141"/><rect x="188" y="167.93" width="15.5" height="21.92" fill="#414141"/><rect x="229" y="155.52" width="6.8" height="12.82" fill="#373737"/><rect x="188" y="189.44" width="15.5" height="5.63" fill="#373737"/><rect x="235.3" y="155.52" width="8.2" height="12.82" fill="#2a2a2a"/><rect x="188" y="194.65" width="15.5" height="6.78" fill="#2a2a2a"/><rect x="243" y="155.52" width="33.5" height="12.82" fill="#474747"/><rect x="188" y="201.02" width="15.5" height="27.71" fill="#474747"/><rect x="276" y="155.52" width="24.2" height="12.82" fill="#3a3a3a"/><rect x="188" y="228.32" width="15.5" height="20.02" fill="#3a3a3a"/><rect x="299.7" y="155.52" width="11.3" height="12.82" fill="#a3a3a3"/><rect x="188" y="247.93" width="15.5" height="9.35" fill="#a3a3a3"/><rect x="310.5" y="155.52" width="14.5" height="12.82" fill="#404040"/><rect x="188" y="256.86" width="15.5" height="12" fill="#404040"/><rect x="324.5" y="155.52" width="11" height="12.82" fill="#404040"/><rect x="188" y="268.44" width="15.5" height="9.1" fill="#404040"/><rect x="335" y="155.52" width="28.5" height="12.82" fill="#353535"/><rect x="188" y="277.13" width="15.5" height="23.58" fill="#353535"/><rect x="363" y="155.52" width="11.9" height="12.82" fill="#2a2a2a"/><rect x="188" y="300.29" width="15.5" height="9.84" fill="#2a2a2a"/><rect x="374.4" y="155.52" width="27.5" height="12.82" fill="#454545"/><rect x="188" y="309.72" width="15.5" height="22.75" fill="#454545"/><rect x="401.4" y="155.52" width="15.3" height="12.82" fill="#404040"/><rect x="188" y="332.06" width="15.5" height="12.66" fill="#404040"/><rect x="416.2" y="155.52" width="41.3" height="12.82" fill="#393939"/><rect x="188" y="344.3" width="15.5" height="34.17" fill="#393939"/><rect x="457" y="155.52" width="9.5" height="12.82" fill="#404040"/><rect x="188" y="378.05" width="15.5" height="7.86" fill="#404040"/><rect x="466" y="155.52" width="8.8" height="12.82" fill="#3a3a3a"/><rect x="188" y="385.5" width="15.5" height="7.28" fill="#3a3a3a"/><rect x="474.3" y="155.52" width="32.7" height="12.82" fill="#3a3a3a"/><rect x="188" y="392.36" width="15.5" height="27.05" fill="#3a3a3a"/><rect x="203" y="167.93" width="26.5" height="21.92" fill="#dddddd"/><rect x="229" y="167.93" width="6.8" height="21.92" fill="#3d3d3d"/><rect x="203" y="189.44" width="26.5" height="5.63" fill="#3d3d3d"/><rect x="235.3" y="167.93" width="8.2" height="21.92" fill="#2a2a2a"/><rect x="203" y="194.65" width="26.5" height="6.78" fill="#2a2a2a"/><rect x="243" y="167.93" width="33.5" height="21.92" fill="#5b5b5b"/><rect x="203" y="201.02" width="26.5" height="27.71" fill="#5b5b5b"/><rect x="276" y="167.93" width="24.2" height="21.92" fill="#414141"/><rect x="203" y="228.32" width="26.5" height="20.02" fill="#414141"/><rect x="299.7" y="167.93" width="11.3" height="21.92" fill="#343434"/><rect x="203" y="247.93" width="26.5" height="9.35" fill="#343434"/><rect x="310.5" y="167.93" width="14.5" height="21.92" fill="#494949"/><rect x="203" y="256.86" width="26.5" height="12" fill="#494949"/><rect x="324.5" y="167.93" width="11" height="21.92" fill="#494949"/><rect x="203" y="268.44" width="26.5" height="9.1" fill="#494949"/><rect x="335" y="167.93" width="28.5" height="21.92" fill="#3a3a3a"/><rect x="203" y="277.13" width="26.5" height="23.58" fill="#3a3a3a"/><rect x="363" y="167.93" width="11.9" height="21.92" fill="#2a2a2a"/><rect x="203" y="300.29" width="26.5" height="9.84" fill="#2a2a2a"/><rect x="374.4" y="167.93" width="27.5" height="21.92" fill="#cacaca"/><rect x="203" y="309.72" width="26.5" height="22.75" fill="#cacaca"/><rect x="401.4" y="167.93" width="15.3" height="21.92" fill="#494949"/><rect x="203" y="332.06" width="26.5" height="12.66" fill="#494949"/><rect x="416.2" y="167.93" width="41.3" height="21.92" fill="#3f3f3f"/><rect x="203" y="344.3" width="26.5" height="34.17" fill="#3f3f3f"/><rect x="457" y="167.93" width="9.5" height="21.92" fill="#737373"/><rect x="203" y="378.05" width="26.5" height="7.86" fill="#737373"/><rect x="466" y="167.93" width="8.8" height="21.92" fill="#414141"/><rect x="203" y="385.5" width="26.5" height="7.28" fill="#414141"/><rect x="474.3" y="167.93" width="32.7" height="21.92" fill="#414141"/><rect x="203" y="392.36" width="26.5" height="27.05" fill="#414141"/><rect x="229" y="189.44" width="6.8" height="5.63" fill="#353535"/><rect x="235.3" y="189.44" width="8.2" height="5.63" fill="#2a2a2a"/><rect x="229" y="194.65" width="6.8" height="6.78" fill="#2a2a2a"/><rect x="243" y="189.44" width="33.5" height="5.63" fill="#424242"/><rect x="229" y="201.02" width="6.8" height="27.71" fill="#424242"/><rect x="276" y="189.44" width="24.2" height="5.63" fill="#373737"/><rect x="229" y="228.32" width="6.8" height="20.02" fill="#373737"/><rect x="299.7" y="189.44" width="11.3" height="5.63" fill="#303030"/><rect x="229" y="247.93" width="6.8" height="9.35" fill="#303030"/><rect x="310.5" y="189.44" width="14.5" height="5.63" fill="#3c3c3c"/><rect x="229" y="256.86" width="6.8" height="12" fill="#3c3c3c"/><rect x="324.5" y="189.44" width="11" height="5.63" fill="#3c3c3c"/><rect x="229" y="268.44" width="6.8" height="9.1" fill="#3c3c3c"/><rect x="335" y="189.44" width="28.5" height="5.63" fill="#333333"/><rect x="229" y="277.13" width="6.8" height="23.58" fill="#333333"/><rect x="363" y="189.44" width="11.9" height="5.63" fill="#2a2a2a"/><rect x="229" y="300.29" width="6.8" height="9.84" fill="#2a2a2a"/><rect x="374.4" y="189.44" width="27.5" height="5.63" fill="#404040"/><rect x="229" y="309.72" width="6.8" height="22.75" fill="#404040"/><rect x="401.4" y="189.44" width="15.3" height="5.63" fill="#3c3c3c"/><rect x="229" y="332.06" width="6.8" height="12.66" fill="#3c3c3c"/><rect x="416.2" y="189.44" width="41.3" height="5.63" fill="#363636"/><rect x="229" y="344.3" width="6.8" height="34.17" fill="#363636"/><rect x="457" y="189.44" width="9.5" height="5.63" fill="#3c3c3c"/><rect x="229" y="378.05" width="6.8" height="7.86" fill="#3c3c3c"/><rect x="466" y="189.44" width="8.8" height="5.63" fill="#373737"/><rect x="229" y="385.5" width="6.8" height="7.28" fill="#373737"/><rect x="474.3" y="189.44" width="32.7" height="5.63" fill="#373737"/><rect x="229" y="392.36" width="6.8" height="27.05" fill="#373737"/><rect x="235.3" y="194.65" width="8.2" height="6.78" fill="#2a2a2a"/><rect x="243" y="194.65" width="33.5" height="6.78" fill="#2a2a2a"/><rect x="235.3" y="201.02" width="8.2" height="27.71" fill="#2a2a2a"/><rect x="276" y="194.65" width="24.2" height="6.78" fill="#2a2a2a"/><rect x="235.3" y="228.32" width="8.2" height="20.02" fill="#2a2a2a"/><rect x="299.7" y="194.65" width="11.3" height="6.78" fill="#2a2a2a"/><rect x="235.3" y="247.93" width="8.2" height="9.35" fill="#2a2a2a"/><rect x="310.5" y="194.65" width="14.5" height="6.78" fill="#2a2a2a"/><rect x="235.3" y="256.86" width="8.2" height="12" fill="#2a2a2a"/><rect x="324.5" y="194.65" width="11" height="6.78" fill="#2a2a2a"/><rect x="235.3" y="268.44" width="8.2" height="9.1" fill="#2a2a2a"/><rect x="335" y="194.65" width="28.5" height="6.78" fill="#2a2a2a"/><rect x="235.3" y="277.13" width="8.2" height="23.58" fill="#2a2a2a"/><rect x="363" y="194.65" width="11.9" height="6.78" fill="#2a2a2a"/><rect x="235.3" y="300.29" width="8.2" height="9.84" fill="#2a2a2a"/><rect x="374.4" y="194.65" width="27.5" height="6.78" fill="#2a2a2a"/><rect x="235.3" y="309.72" width="8.2" height="22.75" fill="#2a2a2a"/><rect x="401.4" y="194.65" width="15.3" height="6.78" fill="#2a2a2a"/><rect x="235.3" y="332.06" width="8.2" height="12.66" fill="#2a2a2a"/><rect x="416.2" y="194.65" width="41.3" height="6.78" fill="#2a2a2a"/><rect x="235.3" y="344.3" width="8.2" height="34.17" fill="#2a2a2a"/><rect x="457" y="194.65" width="9.5" height="6.78" fill="#2a2a2a"/><rect x="235.3" y="378.05" width="8.2" height="7.86" fill="#2a2a2a"/><rect x="466" y="194.65" width="8.8" height="6.78" fill="#2a2a2a"/><rect x="235.3" y="385.5" width="8.2" height="7.28" fill="#2a2a2a"/><rect x="474.3" y="194.65" width="32.7" height="6.78" fill="#2a2a2a"/><rect x="235.3" y="392.36" width="8.2" height="27.05" fill="#2a2a2a"/><rect x="243" y="201.02" width="33.5" height="27.71" fill="#6a6a6a"/><rect x="276" y="201.02" width="24.2" height="27.71" fill="#474747"/><rect x="243" y="228.32" width="33.5" height="20.02" fill="#474747"/><rect x="299.7" y="201.02" width="11.3" height="27.71" fill="#363636"/><rect x="243" y="247.93" width="33.5" height="9.35" fill="#363636"/><rect x="310.5" y="201.02" width="14.5" height="27.71" fill="#525252"/><rect x="243" y="256.86" width="33.5" height="12" fill="#525252"/><rect x="324.5" y="201.02" width="11" height="27.71" fill="#525252"/><rect x="243" y="268.44" width="33.5" height="9.1" fill="#525252"/><rect x="335" y="201.02" width="28.5" height="27.71" fill="#3e3e3e"/><rect x="243" y="277.13" width="33.5" height="23.58" fill="#3e3e3e"/><rect x="363" y="201.02" width="11.9" height="27.71" fill="#2a2a2a"/><rect x="243" y="300.29" width="33.5" height="9.84" fill="#2a2a2a"/><rect x="374.4" y="201.02" width="27.5" height="27.71" fill="#787878"/><rect x="243" y="309.72" width="33.5" height="22.75" fill="#787878"/><rect x="401.4" y="201.02" width="15.3" height="27.71" fill="#525252"/><rect x="243" y="332.06" width="33.5" height="12.66" fill="#525252"/><rect x="416.2" y="201.02" width="41.3" height="27.71" fill="#454545"/><rect x="243" y="344.3" width="33.5" height="34.17" fill="#454545"/><rect x="457" y="201.02" width="9.5" height="27.71" fill="#525252"/><rect x="243" y="378.05" width="33.5" height="7.86" fill="#525252"/><rect x="466" y="201.02" width="8.8" height="27.71" fill="#474747"/><rect x="243" y="385.5" width="33.5" height="7.28" fill="#474747"/><rect x="474.3" y="201.02" width="32.7" height="27.71" fill="#474747"/><rect x="243" y="392.36" width="33.5" height="27.05" fill="#474747"/><rect x="276" y="228.32" width="24.2" height="20.02" fill="#3a3a3a"/><rect x="299.7" y="228.32" width="11.3" height="20.02" fill="#313131"/><rect x="276" y="247.93" width="24.2" height="9.35" fill="#313131"/><rect x="310.5" y="228.32" width="14.5" height="20.02" fill="#404040"/><rect x="276" y="256.86" width="24.2" height="12" fill="#404040"/><rect x="324.5" y="228.32" width="11" height="20.02" fill="#404040"/><rect x="276" y="268.44" width="24.2" height="9.1" fill="#404040"/><rect x="335" y="228.32" width="28.5" height="20.02" fill="#353535"/><rect x="276" y="277.13" width="24.2" height="23.58" fill="#353535"/><rect x="363" y="228.32" width="11.9" height="20.02" fill="#2a2a2a"/><rect x="276" y="300.29" width="24.2" height="9.84" fill="#2a2a2a"/><rect x="374.4" y="228.32" width="27.5" height="20.02" fill="#454545"/><rect x="276" y="309.72" width="24.2" height="22.75" fill="#454545"/><rect x="401.4" y="228.32" width="15.3" height="20.02" fill="#404040"/><rect x="276" y="332.06" width="24.2" height="12.66" fill="#404040"/><rect x="416.2" y="228.32" width="41.3" height="20.02" fill="#393939"/><rect x="276" y="344.3" width="24.2" height="34.17" fill="#393939"/><rect x="457" y="228.32" width="9.5" height="20.02" fill="#404040"/><rect x="276" y="378.05" width="24.2" height="7.86" fill="#404040"/><rect x="466" y="228.32" width="8.8" height="20.02" fill="#3a3a3a"/><rect x="276" y="385.5" width="24.2" height="7.28" fill="#3a3a3a"/><rect x="474.3" y="228.32" width="32.7" height="20.02" fill="#3a3a3a"/><rect x="276" y="392.36" width="24.2" height="27.05" fill="#3a3a3a"/><rect x="299.7" y="247.93" width="11.3" height="9.35" fill="#828282"/><rect x="310.5" y="247.93" width="14.5" height="9.35" fill="#333333"/><rect x="299.7" y="256.86" width="11.3" height="12" fill="#333333"/><rect x="324.5" y="247.93" width="11" height="9.35" fill="#333333"/><rect x="299.7" y="268.44" width="11.3" height="9.1" fill="#333333"/><rect x="335" y="247.93" width="28.5" height="9.35" fill="#2f2f2f"/><rect x="299.7" y="277.13" width="11.3" height="23.58" fill="#2f2f2f"/><rect x="363" y="247.93" width="11.9" height="9.35" fill="#2a2a2a"/><rect x="299.7" y="300.29" width="11.3" height="9.84" fill="#2a2a2a"/><rect x="374.4" y="247.93" width="27.5" height="9.35" fill="#353535"/><rect x="299.7" y="309.72" width="11.3" height="22.75" fill="#353535"/><rect x="401.4" y="247.93" width="15.3" height="9.35" fill="#333333"/><rect x="299.7" y="332.06" width="11.3" height="12.66" fill="#333333"/><rect x="416.2" y="247.93" width="41.3" height="9.35" fill="#303030"/><rect x="299.7" y="344.3" width="11.3" height="34.17" fill="#303030"/><rect x="457" y="247.93" width="9.5" height="9.35" fill="#333333"/><rect x="299.7" y="378.05" width="11.3" height="7.86" fill="#333333"/><rect x="466" y="247.93" width="8.8" height="9.35" fill="#313131"/><rect x="299.7" y="385.5" width="11.3" height="7.28" fill="#313131"/><rect x="474.3" y="247.93" width="32.7" height="9.35" fill="#313131"/><rect x="299.7" y="392.36" width="11.3" height="27.05" fill="#313131"/><rect x="310.5" y="256.86" width="14.5" height="12" fill="#9f9f9f"/><rect x="324.5" y="256.86" width="11" height="12" fill="#525252"/><rect x="310.5" y="268.44" width="14.5" height="9.1" fill="#525252"/><rect x="335" y="256.86" width="28.5" height="12" fill="#393939"/><rect x="310.5" y="277.13" width="14.5" height="23.58" fill="#393939"/><rect x="363" y="256.86" width="11.9" height="12" fill="#2a2a2a"/><rect x="310.5" y="300.29" width="14.5" height="9.84" fill="#2a2a2a"/><rect x="374.4" y="256.86" width="27.5" height="12" fill="#4e4e4e"/><rect x="310.5" y="309.72" width="14.5" height="22.75" fill="#4e4e4e"/><rect x="401.4" y="256.86" width="15.3" height="12" fill="#474747"/><rect x="310.5" y="332.06" width="14.5" height="12.66" fill="#474747"/><rect x="416.2" y="256.86" width="41.3" height="12" fill="#3e3e3e"/><rect x="310.5" y="344.3" width="14.5" height="34.17" fill="#3e3e3e"/><rect x="457" y="256.86" width="9.5" height="12" fill="#474747"/><rect x="310.5" y="378.05" width="14.5" height="7.86" fill="#474747"/><rect x="466" y="256.86" width="8.8" height="12" fill="#404040"/><rect x="310.5" y="385.5" width="14.5" height="7.28" fill="#404040"/><rect x="474.3" y="256.86" width="32.7" height="12" fill="#404040"/><rect x="310.5" y="392.36" width="14.5" height="27.05" fill="#404040"/><rect x="324.5" y="268.44" width="11" height="9.1" fill="#5b5b5b"/><rect x="335" y="268.44" width="28.5" height="9.1" fill="#393939"/><rect x="324.5" y="277.13" width="11" height="23.58" fill="#393939"/><rect x="363" y="268.44" width="11.9" height="9.1" fill="#2a2a2a"/><rect x="324.5" y="300.29" width="11" height="9.84" fill="#2a2a2a"/><rect x="374.4" y="268.44" width="27.5" height="9.1" fill="#4e4e4e"/><rect x="324.5" y="309.72" width="11" height="22.75" fill="#4e4e4e"/><rect x="401.4" y="268.44" width="15.3" height="9.1" fill="#474747"/><rect x="324.5" y="332.06" width="11" height="12.66" fill="#474747"/><rect x="416.2" y="268.44" width="41.3" height="9.1" fill="#3e3e3e"/><rect x="324.5" y="344.3" width="11" height="34.17" fill="#3e3e3e"/><rect x="457" y="268.44" width="9.5" height="9.1" fill="#474747"/><rect x="324.5" y="378.05" width="11" height="7.86" fill="#474747"/><rect x="466" y="268.44" width="8.8" height="9.1" fill="#404040"/><rect x="324.5" y="385.5" width="11" height="7.28" fill="#404040"/><rect x="474.3" y="268.44" width="32.7" height="9.1" fill="#404040"/><rect x="324.5" y="392.36" width="11" height="27.05" fill="#404040"/><rect x="335" y="277.13" width="28.5" height="23.58" fill="#323232"/><rect x="363" y="277.13" width="11.9" height="23.58" fill="#2a2a2a"/><rect x="335" y="300.29" width="28.5" height="9.84" fill="#2a2a2a"/><rect x="374.4" y="277.13" width="27.5" height="23.58" fill="#3c3c3c"/><rect x="335" y="309.72" width="28.5" height="22.75" fill="#3c3c3c"/><rect x="401.4" y="277.13" width="15.3" height="23.58" fill="#393939"/><rect x="335" y="332.06" width="28.5" height="12.66" fill="#393939"/><rect x="416.2" y="277.13" width="41.3" height="23.58" fill="#343434"/><rect x="335" y="344.3" width="28.5" height="34.17" fill="#343434"/><rect x="457" y="277.13" width="9.5" height="23.58" fill="#393939"/><rect x="335" y="378.05" width="28.5" height="7.86" fill="#393939"/><rect x="466" y="277.13" width="8.8" height="23.58" fill="#353535"/><rect x="335" y="385.5" width="28.5" height="7.28" fill="#353535"/><rect x="474.3" y="277.13" width="32.7" height="23.58" fill="#353535"/><rect x="335" y="392.36" width="28.5" height="27.05" fill="#353535"/><rect x="363" y="300.29" width="11.9" height="9.84" fill="#2a2a2a"/><rect x="374.4" y="300.29" width="27.5" height="9.84" fill="#2a2a2a"/><rect x="363" y="309.72" width="11.9" height="22.75" fill="#2a2a2a"/><rect x="401.4" y="300.29" width="15.3" height="9.84" fill="#2a2a2a"/><rect x="363" y="332.06" width="11.9" height="12.66" fill="#2a2a2a"/><rect x="416.2" y="300.29" width="41.3" height="9.84" fill="#2a2a2a"/><rect x="363" y="344.3" width="11.9" height="34.17" fill="#2a2a2a"/><rect x="457" y="300.29" width="9.5" height="9.84" fill="#2a2a2a"/><rect x="363" y="378.05" width="11.9" height="7.86" fill="#2a2a2a"/><rect x="466" y="300.29" width="8.8" height="9.84" fill="#2a2a2a"/><rect x="363" y="385.5" width="11.9" height="7.28" fill="#2a2a2a"/><rect x="474.3" y="300.29" width="32.7" height="9.84" fill="#2a2a2a"/><rect x="363" y="392.36" width="11.9" height="27.05" fill="#2a2a2a"/><rect x="374.4" y="309.72" width="27.5" height="22.75" fill="#c0c0c0"/><rect x="401.4" y="309.72" width="15.3" height="22.75" fill="#5b5b5b"/><rect x="374.4" y="332.06" width="27.5" height="12.66" fill="#5b5b5b"/><rect x="416.2" y="309.72" width="41.3" height="22.75" fill="#424242"/><rect x="374.4" y="344.3" width="27.5" height="34.17" fill="#424242"/><rect x="457" y="309.72" width="9.5" height="22.75" fill="#787878"/><rect x="374.4" y="378.05" width="27.5" height="7.86" fill="#787878"/><rect x="466" y="309.72" width="8.8" height="22.75" fill="#454545"/><rect x="374.4" y="385.5" width="27.5" height="7.28" fill="#454545"/><rect x="474.3" y="309.72" width="32.7" height="22.75" fill="#454545"/><rect x="374.4" y="392.36" width="27.5" height="27.05" fill="#454545"/><rect x="401.4" y="332.06" width="15.3" height="12.66" fill="#656565"/><rect x="416.2" y="332.06" width="41.3" height="12.66" fill="#3e3e3e"/><rect x="401.4" y="344.3" width="15.3" height="34.17" fill="#3e3e3e"/><rect x="457" y="332.06" width="9.5" height="12.66" fill="#474747"/><rect x="401.4" y="378.05" width="15.3" height="7.86" fill="#474747"/><rect x="466" y="332.06" width="8.8" height="12.66" fill="#737373"/><rect x="401.4" y="385.5" width="15.3" height="7.28" fill="#737373"/><rect x="474.3" y="332.06" width="32.7" height="12.66" fill="#404040"/><rect x="401.4" y="392.36" width="15.3" height="27.05" fill="#404040"/><rect x="416.2" y="344.3" width="41.3" height="34.17" fill="#434343"/><rect x="457" y="344.3" width="9.5" height="34.17" fill="#3e3e3e"/><rect x="416.2" y="378.05" width="41.3" height="7.86" fill="#3e3e3e"/><rect x="466" y="344.3" width="8.8" height="34.17" fill="#393939"/><rect x="416.2" y="385.5" width="41.3" height="7.28" fill="#393939"/><rect x="474.3" y="344.3" width="32.7" height="34.17" fill="#393939"/><rect x="416.2" y="392.36" width="41.3" height="27.05" fill="#393939"/><rect x="457" y="378.05" width="9.5" height="7.86" fill="#787878"/><rect x="466" y="378.05" width="8.8" height="7.86" fill="#404040"/><rect x="457" y="385.5" width="9.5" height="7.28" fill="#404040"/><rect x="474.3" y="378.05" width="32.7" height="7.86" fill="#404040"/><rect x="457" y="392.36" width="9.5" height="27.05" fill="#404040"/><rect x="466" y="385.5" width="8.8" height="7.28" fill="#e7e7e7"/><rect x="474.3" y="385.5" width="32.7" height="7.28" fill="#3a3a3a"/><rect x="466" y="392.36" width="8.8" height="27.05" fill="#3a3a3a"/><rect x="474.3" y="392.36" width="32.7" height="27.05" fill="#434343"/><rect x="434" y="268.44" width="13" height="7.86" fill="#a3a3a3"/><rect x="324.5" y="359.02" width="9.5" height="10.75" fill="#a3a3a3"/><rect x="212.8" y="176.04" width="16.2" height="13.4" fill="#f7f7f7"/><rect x="203" y="167.93" width="5.6" height="4.63" fill="#f7f7f7"/><rect x="407" y="336.69" width="7.6" height="6.29" fill="#c0c0c0"/><rect x="250" y="206.81" width="25" height="20.68" fill="#878787"/><rect x="448.6" y="0" width="7.4" height="26.06" fill="#606060"/><rect x="0" y="371.1" width="31.5" height="6.12" fill="#606060"/><g style="mix-blend-mode:multiply"><rect x="0" width="2.86" height="419" fill="#f7f7f7"/><rect x="2.16" width="1.78" height="419" fill="#fafafa"/><rect x="3.24" width="1.78" height="419" fill="#e3e3e3"/><rect x="4.32" width="1.78" height="419" fill="#fcfcfc"/><rect x="5.4" width="1.78" height="419" fill="#ababab"/><rect x="6.48" width="1.78" height="419" fill="#c7c7c7"/><rect x="7.56" width="1.78" height="419" fill="#f0f0f0"/><rect x="8.64" width="1.78" height="419" fill="#ffffff"/><rect x="9.72" width="1.78" height="419" fill="#fafafa"/><rect x="10.8" width="1.78" height="419" fill="#d6d6d6"/><rect x="11.88" width="1.78" height="419" fill="#f0f0f0"/><rect x="12.96" width="1.78" height="419" fill="#dbdbdb"/><rect x="14.04" width="1.78" height="419" fill="#b2b2b2"/><rect x="15.12" width="1.78" height="419" fill="#fcfcfc"/><rect x="16.2" width="2.86" height="419" fill="#fafafa"/><rect x="18.36" width="1.78" height="419" fill="#f5f5f5"/><rect x="19.44" width="1.78" height="419" fill="#ffffff"/><rect x="20.52" width="1.78" height="419" fill="#fafafa"/><rect x="21.6" width="1.78" height="419" fill="#dbdbdb"/><rect x="22.68" width="1.78" height="419" fill="#d9d9d9"/><rect x="23.76" width="2.86" height="419" fill="#f5f5f5"/><rect x="25.92" width="1.78" height="419" fill="#fcfcfc"/><rect x="27" width="1.78" height="419" fill="#a6a6a6"/><rect x="28.08" width="1.78" height="419" fill="#f7f7f7"/><rect x="29.16" width="1.78" height="419" fill="#f5f5f5"/><rect x="30.24" width="1.78" height="419" fill="#bdbdbd"/><rect x="31.32" width="1.78" height="419" fill="#f5f5f5"/><rect x="32.4" width="1.78" height="419" fill="#ababab"/><rect x="33.48" width="1.78" height="419" fill="#fcfcfc"/><rect x="34.56" width="1.78" height="419" fill="#a6a6a6"/><rect x="35.64" width="1.78" height="419" fill="#9c9c9c"/><rect x="36.72" width="1.78" height="419" fill="#f2f2f2"/><rect x="37.8" width="1.78" height="419" fill="#f7f7f7"/><rect x="38.88" width="1.78" height="419" fill="#e8e8e8"/><rect x="39.96" width="1.78" height="419" fill="#e6e6e6"/><rect x="41.04" width="1.78" height="419" fill="#b0b0b0"/><rect x="42.12" width="1.78" height="419" fill="#dedede"/><rect x="43.2" width="1.78" height="419" fill="#fcfcfc"/><rect x="44.28" width="1.78" height="419" fill="#ededed"/><rect x="45.36" width="1.78" height="419" fill="#e0e0e0"/><rect x="46.44" width="1.78" height="419" fill="#fafafa"/><rect x="47.52" width="1.78" height="419" fill="#d1d1d1"/><rect x="48.6" width="1.78" height="419" fill="#dedede"/><rect x="49.68" width="1.78" height="419" fill="#f5f5f5"/><rect x="50.76" width="1.78" height="419" fill="#d9d9d9"/><rect x="51.84" width="1.78" height="419" fill="#bababa"/><rect x="52.92" width="1.78" height="419" fill="#e6e6e6"/><rect x="54" width="2.86" height="419" fill="#f7f7f7"/><rect x="56.16" width="1.78" height="419" fill="#fcfcfc"/><rect x="57.24" width="1.78" height="419" fill="#dbdbdb"/><rect x="58.32" width="1.78" height="419" fill="#fcfcfc"/><rect x="59.4" width="1.78" height="419" fill="#dbdbdb"/><rect x="60.48" width="1.78" height="419" fill="#ffffff"/><rect x="61.56" width="1.78" height="419" fill="#f0f0f0"/><rect x="62.64" width="1.78" height="419" fill="#fafafa"/><rect x="63.72" width="1.78" height="419" fill="#f2f2f2"/><rect x="64.8" width="1.78" height="419" fill="#cfcfcf"/><rect x="65.88" width="1.78" height="419" fill="#e8e8e8"/><rect x="66.96" width="1.78" height="419" fill="#ebebeb"/><rect x="68.04" width="1.78" height="419" fill="#f5f5f5"/><rect x="69.12" width="1.78" height="419" fill="#e8e8e8"/><rect x="70.2" width="1.78" height="419" fill="#a6a6a6"/><rect x="71.28" width="1.78" height="419" fill="#fcfcfc"/><rect x="72.36" width="1.78" height="419" fill="#f5f5f5"/><rect x="73.44" width="1.78" height="419" fill="#f2f2f2"/><rect x="74.52" width="1.78" height="419" fill="#a8a8a8"/><rect x="75.6" width="1.78" height="419" fill="#f0f0f0"/><rect x="76.68" width="1.78" height="419" fill="#e0e0e0"/><rect x="77.76" width="1.78" height="419" fill="#f2f2f2"/><rect x="78.84" width="1.78" height="419" fill="#fcfcfc"/><rect x="79.92" width="2.86" height="419" fill="#fafafa"/><rect x="82.08" width="1.78" height="419" fill="#d6d6d6"/><rect x="83.16" width="1.78" height="419" fill="#cccccc"/><rect x="84.24" width="1.78" height="419" fill="#ffffff"/><rect x="85.32" width="1.78" height="419" fill="#bdbdbd"/><rect x="86.4" width="1.78" height="419" fill="#fafafa"/><rect x="87.48" width="1.78" height="419" fill="#f0f0f0"/><rect x="88.56" width="1.78" height="419" fill="#b8b8b8"/><rect x="89.64" width="1.78" height="419" fill="#fcfcfc"/><rect x="90.72" width="1.78" height="419" fill="#fafafa"/><rect x="91.8" width="1.78" height="419" fill="#fcfcfc"/><rect x="92.88" width="1.78" height="419" fill="#fafafa"/><rect x="93.96" width="2.86" height="419" fill="#fcfcfc"/><rect x="96.12" width="1.78" height="419" fill="#f7f7f7"/><rect x="97.2" width="1.78" height="419" fill="#f5f5f5"/><rect x="98.28" width="1.78" height="419" fill="#fafafa"/><rect x="99.36" width="1.78" height="419" fill="#bdbdbd"/><rect x="100.44" width="1.78" height="419" fill="#fcfcfc"/><rect x="101.52" width="1.78" height="419" fill="#f5f5f5"/><rect x="102.6" width="1.78" height="419" fill="#f7f7f7"/><rect x="103.68" width="1.78" height="419" fill="#fcfcfc"/><rect x="104.76" width="1.78" height="419" fill="#c4c4c4"/><rect x="105.84" width="1.78" height="419" fill="#bababa"/><rect x="106.92" width="1.78" height="419" fill="#f2f2f2"/><rect x="108" width="1.78" height="419" fill="#f7f7f7"/><rect x="109.08" width="1.78" height="419" fill="#ffffff"/><rect x="110.16" width="1.78" height="419" fill="#d6d6d6"/><rect x="111.24" width="1.78" height="419" fill="#e8e8e8"/><rect x="112.32" width="1.78" height="419" fill="#dbdbdb"/><rect x="113.4" width="1.78" height="419" fill="#fafafa"/><rect x="114.48" width="1.78" height="419" fill="#fcfcfc"/><rect x="115.56" width="1.78" height="419" fill="#b2b2b2"/><rect x="116.64" width="1.78" height="419" fill="#e0e0e0"/><rect x="117.72" width="1.78" height="419" fill="#fcfcfc"/><rect x="118.8" width="2.86" height="419" fill="#f5f5f5"/><rect x="120.96" width="1.78" height="419" fill="#e3e3e3"/><rect x="122.04" width="1.78" height="419" fill="#fcfcfc"/><rect x="123.12" width="1.78" height="419" fill="#ffffff"/><rect x="124.2" width="1.78" height="419" fill="#dbdbdb"/><rect x="125.28" width="1.78" height="419" fill="#f5f5f5"/><rect x="126.36" width="1.78" height="419" fill="#e0e0e0"/><rect x="127.44" width="1.78" height="419" fill="#f7f7f7"/><rect x="128.52" width="1.78" height="419" fill="#ebebeb"/><rect x="129.6" width="1.78" height="419" fill="#f7f7f7"/><rect x="130.68" width="1.78" height="419" fill="#9c9c9c"/><rect x="131.76" width="1.78" height="419" fill="#f0f0f0"/><rect x="132.84" width="1.78" height="419" fill="#f7f7f7"/><rect x="133.92" width="1.78" height="419" fill="#ebebeb"/><rect x="135" width="1.78" height="419" fill="#a1a1a1"/><rect x="136.08" width="1.78" height="419" fill="#f0f0f0"/><rect x="137.16" width="1.78" height="419" fill="#f2f2f2"/><rect x="138.24" width="1.78" height="419" fill="#d6d6d6"/><rect x="139.32" width="1.78" height="419" fill="#f7f7f7"/><rect x="140.4" width="1.78" height="419" fill="#fafafa"/><rect x="141.48" width="1.78" height="419" fill="#ffffff"/><rect x="142.56" width="2.86" height="419" fill="#f2f2f2"/><rect x="144.72" width="1.78" height="419" fill="#b2b2b2"/><rect x="145.8" width="1.78" height="419" fill="#f2f2f2"/><rect x="146.88" width="1.78" height="419" fill="#dedede"/><rect x="147.96" width="1.78" height="419" fill="#f7f7f7"/><rect x="149.04" width="2.86" height="419" fill="#fcfcfc"/><rect x="151.2" width="1.78" height="419" fill="#f2f2f2"/><rect x="152.28" width="1.78" height="419" fill="#fafafa"/><rect x="153.36" width="1.78" height="419" fill="#e3e3e3"/><rect x="154.44" width="1.78" height="419" fill="#fcfcfc"/><rect x="155.52" width="1.78" height="419" fill="#f7f7f7"/><rect x="156.6" width="1.78" height="419" fill="#fcfcfc"/><rect x="157.68" width="1.78" height="419" fill="#f7f7f7"/><rect x="158.76" width="1.78" height="419" fill="#f2f2f2"/><rect x="159.84" width="1.78" height="419" fill="#fcfcfc"/><rect x="160.92" width="1.78" height="419" fill="#fafafa"/><rect x="162" width="1.78" height="419" fill="#ededed"/><rect x="163.08" width="1.78" height="419" fill="#ffffff"/><rect x="164.16" width="1.78" height="419" fill="#fcfcfc"/><rect x="165.24" width="1.78" height="419" fill="#ededed"/><rect x="166.32" width="1.78" height="419" fill="#f5f5f5"/><rect x="167.4" width="1.78" height="419" fill="#b2b2b2"/><rect x="168.48" width="1.78" height="419" fill="#fcfcfc"/><rect x="169.56" width="2.86" height="419" fill="#f0f0f0"/><rect x="171.72" width="1.78" height="419" fill="#f2f2f2"/><rect x="172.8" width="1.78" height="419" fill="#ebebeb"/><rect x="173.88" width="1.78" height="419" fill="#d9d9d9"/><rect x="174.96" width="2.86" height="419" fill="#fafafa"/><rect x="177.12" width="1.78" height="419" fill="#f7f7f7"/><rect x="178.2" width="1.78" height="419" fill="#f2f2f2"/><rect x="179.28" width="1.78" height="419" fill="#e3e3e3"/><rect x="180.36" width="1.78" height="419" fill="#e8e8e8"/><rect x="181.44" width="2.86" height="419" fill="#f7f7f7"/><rect x="183.6" width="1.78" height="419" fill="#e0e0e0"/><rect x="184.68" width="1.78" height="419" fill="#fcfcfc"/><rect x="185.76" width="1.78" height="419" fill="#ededed"/><rect x="186.84" width="1.78" height="419" fill="#f7f7f7"/><rect x="187.92" width="1.78" height="419" fill="#f2f2f2"/><rect x="189" width="1.78" height="419" fill="#f7f7f7"/><rect x="190.08" width="1.78" height="419" fill="#f0f0f0"/><rect x="191.16" width="1.78" height="419" fill="#f7f7f7"/><rect x="192.24" width="1.78" height="419" fill="#fcfcfc"/><rect x="193.32" width="1.78" height="419" fill="#f7f7f7"/><rect x="194.4" width="1.78" height="419" fill="#f0f0f0"/><rect x="195.48" width="1.78" height="419" fill="#f5f5f5"/><rect x="196.56" width="1.78" height="419" fill="#ffffff"/><rect x="197.64" width="1.78" height="419" fill="#e3e3e3"/><rect x="198.72" width="1.78" height="419" fill="#e0e0e0"/><rect x="199.8" width="1.78" height="419" fill="#fcfcfc"/><rect x="200.88" width="1.78" height="419" fill="#f5f5f5"/><rect x="201.96" width="1.78" height="419" fill="#e6e6e6"/><rect x="203.04" width="1.78" height="419" fill="#f2f2f2"/><rect x="204.12" width="1.78" height="419" fill="#f0f0f0"/><rect x="205.2" width="1.78" height="419" fill="#dbdbdb"/><rect x="206.28" width="1.78" height="419" fill="#f5f5f5"/><rect x="207.36" width="1.78" height="419" fill="#fafafa"/><rect x="208.44" width="1.78" height="419" fill="#c2c2c2"/><rect x="209.52" width="1.78" height="419" fill="#e3e3e3"/><rect x="210.6" width="1.78" height="419" fill="#dbdbdb"/><rect x="211.68" width="1.78" height="419" fill="#f7f7f7"/><rect x="212.76" width="1.78" height="419" fill="#f5f5f5"/><rect x="213.84" width="1.78" height="419" fill="#f2f2f2"/><rect x="214.92" width="1.78" height="419" fill="#e6e6e6"/><rect x="216" width="1.78" height="419" fill="#f7f7f7"/><rect x="217.08" width="1.78" height="419" fill="#fafafa"/><rect x="218.16" width="1.78" height="419" fill="#f2f2f2"/><rect x="219.24" width="1.78" height="419" fill="#fcfcfc"/><rect x="220.32" width="1.78" height="419" fill="#f5f5f5"/><rect x="221.4" width="1.78" height="419" fill="#ededed"/><rect x="222.48" width="1.78" height="419" fill="#f0f0f0"/><rect x="223.56" width="1.78" height="419" fill="#f2f2f2"/><rect x="224.64" width="1.78" height="419" fill="#e8e8e8"/><rect x="225.72" width="1.78" height="419" fill="#d9d9d9"/><rect x="226.8" width="1.78" height="419" fill="#f7f7f7"/><rect x="227.88" width="1.78" height="419" fill="#f2f2f2"/><rect x="228.96" width="1.78" height="419" fill="#fafafa"/><rect x="230.04" width="1.78" height="419" fill="#a3a3a3"/><rect x="231.12" width="1.78" height="419" fill="#fcfcfc"/><rect x="232.2" width="1.78" height="419" fill="#f2f2f2"/><rect x="233.28" width="1.78" height="419" fill="#fcfcfc"/><rect x="234.36" width="1.78" height="419" fill="#fafafa"/><rect x="235.44" width="1.78" height="419" fill="#d9d9d9"/><rect x="236.52" width="1.78" height="419" fill="#9c9c9c"/><rect x="237.6" width="1.78" height="419" fill="#f7f7f7"/><rect x="238.68" width="1.78" height="419" fill="#f2f2f2"/><rect x="239.76" width="1.78" height="419" fill="#dbdbdb"/><rect x="240.84" width="1.78" height="419" fill="#ffffff"/><rect x="241.92" width="1.78" height="419" fill="#f2f2f2"/><rect x="243" width="1.78" height="419" fill="#cfcfcf"/><rect x="244.08" width="1.78" height="419" fill="#fcfcfc"/><rect x="245.16" width="1.78" height="419" fill="#e3e3e3"/><rect x="246.24" width="1.78" height="419" fill="#f7f7f7"/><rect x="247.32" width="1.78" height="419" fill="#f0f0f0"/><rect x="248.4" width="1.78" height="419" fill="#fcfcfc"/><rect x="249.48" width="1.78" height="419" fill="#e3e3e3"/><rect x="250.56" width="1.78" height="419" fill="#f5f5f5"/><rect x="251.64" width="1.78" height="419" fill="#dbdbdb"/><rect x="252.72" width="1.78" height="419" fill="#f0f0f0"/><rect x="253.8" width="2.86" height="419" fill="#fcfcfc"/><rect x="255.96" width="1.78" height="419" fill="#f5f5f5"/><rect x="257.04" width="1.78" height="419" fill="#f7f7f7"/><rect x="258.12" width="1.78" height="419" fill="#fcfcfc"/><rect x="259.2" width="1.78" height="419" fill="#ededed"/><rect x="260.28" width="1.78" height="419" fill="#fcfcfc"/><rect x="261.36" width="1.78" height="419" fill="#f5f5f5"/><rect x="262.44" width="2.86" height="419" fill="#fcfcfc"/><rect x="264.6" width="1.78" height="419" fill="#f5f5f5"/><rect x="265.68" width="1.78" height="419" fill="#f0f0f0"/><rect x="266.76" width="1.78" height="419" fill="#e3e3e3"/><rect x="267.84" width="1.78" height="419" fill="#adadad"/><rect x="268.92" width="1.78" height="419" fill="#fafafa"/><rect x="270" width="1.78" height="419" fill="#ededed"/><rect x="271.08" width="1.78" height="419" fill="#f5f5f5"/><rect x="272.16" width="1.78" height="419" fill="#f7f7f7"/><rect x="273.24" width="1.78" height="419" fill="#f5f5f5"/><rect x="274.32" width="1.78" height="419" fill="#fafafa"/><rect x="275.4" width="1.78" height="419" fill="#fcfcfc"/><rect x="276.48" width="5.02" height="419" fill="#737373"/><rect x="280.8" width="1.78" height="419" fill="#f2f2f2"/><rect x="281.88" width="1.78" height="419" fill="#ededed"/><rect x="282.96" width="2.86" height="419" fill="#f7f7f7"/><rect x="285.12" width="1.78" height="419" fill="#fafafa"/><rect x="286.2" width="1.78" height="419" fill="#f0f0f0"/><rect x="287.28" width="1.78" height="419" fill="#fcfcfc"/><rect x="288.36" width="1.78" height="419" fill="#cccccc"/><rect x="289.44" width="2.86" height="419" fill="#e3e3e3"/><rect x="291.6" width="1.78" height="419" fill="#f0f0f0"/><rect x="292.68" width="1.78" height="419" fill="#f7f7f7"/><rect x="293.76" width="1.78" height="419" fill="#fafafa"/><rect x="294.84" width="1.78" height="419" fill="#f5f5f5"/><rect x="295.92" width="1.78" height="419" fill="#f7f7f7"/><rect x="297" width="1.78" height="419" fill="#e8e8e8"/><rect x="298.08" width="2.86" height="419" fill="#d6d6d6"/><rect x="300.24" width="1.78" height="419" fill="#ebebeb"/><rect x="301.32" width="1.78" height="419" fill="#fcfcfc"/><rect x="302.4" width="1.78" height="419" fill="#f0f0f0"/><rect x="303.48" width="1.78" height="419" fill="#ffffff"/><rect x="304.56" width="1.78" height="419" fill="#cccccc"/><rect x="305.64" width="1.78" height="419" fill="#f7f7f7"/><rect x="306.72" width="1.78" height="419" fill="#f2f2f2"/><rect x="307.8" width="1.78" height="419" fill="#ffffff"/><rect x="308.88" width="1.78" height="419" fill="#f7f7f7"/><rect x="309.96" width="1.78" height="419" fill="#fcfcfc"/><rect x="311.04" width="1.78" height="419" fill="#f2f2f2"/><rect x="312.12" width="1.78" height="419" fill="#f7f7f7"/><rect x="313.2" width="1.78" height="419" fill="#d9d9d9"/><rect x="314.28" width="1.78" height="419" fill="#f2f2f2"/><rect x="315.36" width="1.78" height="419" fill="#fafafa"/><rect x="316.44" width="1.78" height="419" fill="#f5f5f5"/><rect x="317.52" width="2.86" height="419" fill="#f7f7f7"/><rect x="319.68" width="1.78" height="419" fill="#ffffff"/><rect x="320.76" width="1.78" height="419" fill="#f2f2f2"/><rect x="321.84" width="1.78" height="419" fill="#cccccc"/><rect x="322.92" width="1.78" height="419" fill="#fafafa"/><rect x="324" width="1.78" height="419" fill="#f5f5f5"/><rect x="325.08" width="1.78" height="419" fill="#f7f7f7"/><rect x="326.16" width="1.78" height="419" fill="#fafafa"/><rect x="327.24" width="1.78" height="419" fill="#f2f2f2"/><rect x="328.32" width="1.78" height="419" fill="#f0f0f0"/><rect x="329.4" width="1.78" height="419" fill="#fcfcfc"/><rect x="330.48" width="1.78" height="419" fill="#9c9c9c"/><rect x="331.56" width="1.78" height="419" fill="#e0e0e0"/><rect x="332.64" width="1.78" height="419" fill="#f2f2f2"/><rect x="333.72" width="1.78" height="419" fill="#f0f0f0"/><rect x="334.8" width="1.78" height="419" fill="#bfbfbf"/><rect x="335.88" width="1.78" height="419" fill="#fafafa"/><rect x="336.96" width="1.78" height="419" fill="#f7f7f7"/><rect x="338.04" width="1.78" height="419" fill="#dedede"/><rect x="339.12" width="1.78" height="419" fill="#fcfcfc"/><rect x="340.2" width="1.78" height="419" fill="#a1a1a1"/><rect x="341.28" width="1.78" height="419" fill="#fafafa"/><rect x="342.36" width="1.78" height="419" fill="#f2f2f2"/><rect x="343.44" width="2.86" height="419" fill="#f5f5f5"/><rect x="345.6" width="1.78" height="419" fill="#ffffff"/><rect x="346.68" width="1.78" height="419" fill="#e3e3e3"/><rect x="347.76" width="1.78" height="419" fill="#ffffff"/><rect x="348.84" width="1.78" height="419" fill="#f5f5f5"/><rect x="349.92" width="1.78" height="419" fill="#c9c9c9"/><rect x="351" width="1.78" height="419" fill="#9e9e9e"/><rect x="352.08" width="1.78" height="419" fill="#f7f7f7"/><rect x="353.16" width="1.78" height="419" fill="#f5f5f5"/><rect x="354.24" width="1.78" height="419" fill="#f0f0f0"/><rect x="355.32" width="1.78" height="419" fill="#e8e8e8"/><rect x="356.4" width="1.78" height="419" fill="#ababab"/><rect x="357.48" width="1.78" height="419" fill="#fafafa"/><rect x="358.56" width="1.78" height="419" fill="#d9d9d9"/><rect x="359.64" width="1.78" height="419" fill="#fafafa"/><rect x="360.72" width="1.78" height="419" fill="#f2f2f2"/><rect x="361.8" width="1.78" height="419" fill="#f7f7f7"/><rect x="362.88" width="1.78" height="419" fill="#ffffff"/><rect x="363.96" width="1.78" height="419" fill="#f7f7f7"/><rect x="365.04" width="1.78" height="419" fill="#f5f5f5"/><rect x="366.12" width="1.78" height="419" fill="#e0e0e0"/><rect x="367.2" width="1.78" height="419" fill="#fcfcfc"/><rect x="368.28" width="1.78" height="419" fill="#e0e0e0"/><rect x="369.36" width="2.86" height="419" fill="#f5f5f5"/><rect x="371.52" width="1.78" height="419" fill="#e6e6e6"/><rect x="372.6" width="2.86" height="419" fill="#f7f7f7"/><rect x="374.76" width="1.78" height="419" fill="#ebebeb"/><rect x="375.84" width="1.78" height="419" fill="#f5f5f5"/><rect x="376.92" width="1.78" height="419" fill="#b5b5b5"/><rect x="378" width="1.78" height="419" fill="#f7f7f7"/><rect x="379.08" width="1.78" height="419" fill="#fafafa"/><rect x="380.16" width="1.78" height="419" fill="#f0f0f0"/><rect x="381.24" width="1.78" height="419" fill="#fcfcfc"/><rect x="382.32" width="1.78" height="419" fill="#9e9e9e"/><rect x="383.4" width="1.78" height="419" fill="#fcfcfc"/><rect x="384.48" width="1.78" height="419" fill="#bdbdbd"/><rect x="385.56" width="1.78" height="419" fill="#e8e8e8"/><rect x="386.64" width="1.78" height="419" fill="#f2f2f2"/><rect x="387.72" width="1.78" height="419" fill="#ebebeb"/><rect x="388.8" width="1.78" height="419" fill="#fcfcfc"/><rect x="389.88" width="1.78" height="419" fill="#f5f5f5"/><rect x="390.96" width="1.78" height="419" fill="#fafafa"/><rect x="392.04" width="1.78" height="419" fill="#f7f7f7"/><rect x="393.12" width="1.78" height="419" fill="#fafafa"/><rect x="394.2" width="1.78" height="419" fill="#f5f5f5"/><rect x="395.28" width="1.78" height="419" fill="#fafafa"/><rect x="396.36" width="2.86" height="419" fill="#fcfcfc"/><rect x="398.52" width="2.86" height="419" fill="#fafafa"/><rect x="400.68" width="1.78" height="419" fill="#f7f7f7"/><rect x="401.76" width="1.78" height="419" fill="#f2f2f2"/><rect x="402.84" width="1.78" height="419" fill="#ffffff"/><rect x="403.92" width="1.78" height="419" fill="#f2f2f2"/><rect x="405" width="1.78" height="419" fill="#e0e0e0"/><rect x="406.08" width="1.78" height="419" fill="#f0f0f0"/><rect x="407.16" width="1.78" height="419" fill="#ababab"/><rect x="408.24" width="1.78" height="419" fill="#bdbdbd"/><rect x="409.32" width="1.78" height="419" fill="#f2f2f2"/><rect x="410.4" width="1.78" height="419" fill="#b2b2b2"/><rect x="411.48" width="1.78" height="419" fill="#fcfcfc"/><rect x="412.56" width="1.78" height="419" fill="#9e9e9e"/><rect x="413.64" width="1.78" height="419" fill="#dbdbdb"/><rect x="414.72" width="1.78" height="419" fill="#e8e8e8"/><rect x="415.8" width="1.78" height="419" fill="#f2f2f2"/><rect x="416.88" width="1.78" height="419" fill="#dedede"/><rect x="417.96" width="1.78" height="419" fill="#ebebeb"/><rect x="419.04" width="1.78" height="419" fill="#e3e3e3"/><rect x="420.12" width="1.78" height="419" fill="#f7f7f7"/><rect x="421.2" width="1.78" height="419" fill="#ededed"/><rect x="422.28" width="1.78" height="419" fill="#f5f5f5"/><rect x="423.36" width="1.78" height="419" fill="#ffffff"/><rect x="424.44" width="1.78" height="419" fill="#f2f2f2"/><rect x="425.52" width="1.78" height="419" fill="#cfcfcf"/><rect x="426.6" width="1.78" height="419" fill="#f5f5f5"/><rect x="427.68" width="1.78" height="419" fill="#f7f7f7"/><rect x="428.76" width="1.78" height="419" fill="#f0f0f0"/><rect x="429.84" width="1.78" height="419" fill="#f2f2f2"/><rect x="430.92" width="1.78" height="419" fill="#b2b2b2"/><rect x="432" width="1.78" height="419" fill="#fcfcfc"/><rect x="433.08" width="1.78" height="419" fill="#fafafa"/><rect x="434.16" width="1.78" height="419" fill="#dbdbdb"/><rect x="435.24" width="1.78" height="419" fill="#dedede"/><rect x="436.32" width="1.78" height="419" fill="#f7f7f7"/><rect x="437.4" width="1.78" height="419" fill="#ffffff"/><rect x="438.48" width="1.78" height="419" fill="#e3e3e3"/><rect x="439.56" width="1.78" height="419" fill="#ebebeb"/><rect x="440.64" width="1.78" height="419" fill="#c7c7c7"/><rect x="441.72" width="1.78" height="419" fill="#fcfcfc"/><rect x="442.8" width="1.78" height="419" fill="#a8a8a8"/><rect x="443.88" width="1.78" height="419" fill="#f2f2f2"/><rect x="444.96" width="1.78" height="419" fill="#f7f7f7"/><rect x="446.04" width="1.78" height="419" fill="#fafafa"/><rect x="447.12" width="1.78" height="419" fill="#f5f5f5"/><rect x="448.2" width="1.78" height="419" fill="#f7f7f7"/><rect x="449.28" width="2.86" height="419" fill="#f2f2f2"/><rect x="451.44" width="1.78" height="419" fill="#f7f7f7"/><rect x="452.52" width="1.78" height="419" fill="#ebebeb"/><rect x="453.6" width="1.78" height="419" fill="#dedede"/><rect x="454.68" width="1.78" height="419" fill="#ababab"/><rect x="455.76" width="2.86" height="419" fill="#fafafa"/><rect x="457.92" width="1.78" height="419" fill="#b0b0b0"/><rect x="459" width="1.78" height="419" fill="#ffffff"/><rect x="460.08" width="1.78" height="419" fill="#fafafa"/><rect x="461.16" width="1.78" height="419" fill="#adadad"/><rect x="462.24" width="1.78" height="419" fill="#f2f2f2"/><rect x="463.32" width="1.78" height="419" fill="#f7f7f7"/><rect x="464.4" width="1.78" height="419" fill="#d1d1d1"/><rect x="465.48" width="1.78" height="419" fill="#f2f2f2"/><rect x="466.56" width="1.78" height="419" fill="#f5f5f5"/><rect x="467.64" width="1.78" height="419" fill="#f7f7f7"/><rect x="468.72" width="1.78" height="419" fill="#dedede"/><rect x="469.8" width="1.78" height="419" fill="#fafafa"/><rect x="470.88" width="1.78" height="419" fill="#dbdbdb"/><rect x="471.96" width="1.78" height="419" fill="#f5f5f5"/><rect x="473.04" width="1.78" height="419" fill="#f7f7f7"/><rect x="474.12" width="1.78" height="419" fill="#f5f5f5"/><rect x="475.2" width="1.78" height="419" fill="#f2f2f2"/><rect x="476.28" width="1.78" height="419" fill="#d9d9d9"/><rect x="477.36" width="1.78" height="419" fill="#fafafa"/><rect x="478.44" width="1.78" height="419" fill="#e0e0e0"/><rect x="479.52" width="1.78" height="419" fill="#fafafa"/><rect x="480.6" width="1.78" height="419" fill="#a6a6a6"/><rect x="481.68" width="1.78" height="419" fill="#d9d9d9"/><rect x="482.76" width="1.78" height="419" fill="#f0f0f0"/><rect x="483.84" width="1.78" height="419" fill="#f7f7f7"/><rect x="484.92" width="1.78" height="419" fill="#fafafa"/><rect x="486" width="1.78" height="419" fill="#fcfcfc"/><rect x="487.08" width="1.78" height="419" fill="#f5f5f5"/><rect x="488.16" width="1.78" height="419" fill="#f0f0f0"/><rect x="489.24" width="1.78" height="419" fill="#fafafa"/><rect x="490.32" width="1.78" height="419" fill="#fcfcfc"/><rect x="491.4" width="1.78" height="419" fill="#fafafa"/><rect x="492.48" width="1.78" height="419" fill="#ababab"/><rect x="493.56" width="1.78" height="419" fill="#e8e8e8"/><rect x="494.64" width="1.78" height="419" fill="#adadad"/><rect x="495.72" width="1.78" height="419" fill="#fcfcfc"/><rect x="496.8" width="1.78" height="419" fill="#fafafa"/><rect x="497.88" width="1.78" height="419" fill="#ebebeb"/><rect x="498.96" width="2.86" height="419" fill="#f7f7f7"/><rect x="501.12" width="1.78" height="419" fill="#e8e8e8"/><rect x="502.2" width="1.78" height="419" fill="#f7f7f7"/><rect x="503.28" width="1.78" height="419" fill="#fcfcfc"/><rect x="504.36" width="1.78" height="419" fill="#ededed"/><rect x="505.44" width="1.06" height="419" fill="#f2f2f2"/></g><g style="mix-blend-mode:multiply"><rect y="0" height="2.49" width="506.5" fill="#f7f7f7"/><rect y="1.79" height="1.59" width="506.5" fill="#fafafa"/><rect y="2.68" height="1.59" width="506.5" fill="#e3e3e3"/><rect y="3.57" height="1.59" width="506.5" fill="#fcfcfc"/><rect y="4.47" height="1.59" width="506.5" fill="#ababab"/><rect y="5.36" height="1.59" width="506.5" fill="#c7c7c7"/><rect y="6.25" height="1.59" width="506.5" fill="#f0f0f0"/><rect y="7.15" height="1.59" width="506.5" fill="#ffffff"/><rect y="8.04" height="1.59" width="506.5" fill="#fafafa"/><rect y="8.93" height="1.59" width="506.5" fill="#d6d6d6"/><rect y="9.83" height="1.59" width="506.5" fill="#f0f0f0"/><rect y="10.72" height="1.59" width="506.5" fill="#dbdbdb"/><rect y="11.61" height="1.59" width="506.5" fill="#b2b2b2"/><rect y="12.51" height="1.59" width="506.5" fill="#fcfcfc"/><rect y="13.4" height="2.49" width="506.5" fill="#fafafa"/><rect y="15.19" height="1.59" width="506.5" fill="#f5f5f5"/><rect y="16.08" height="1.59" width="506.5" fill="#ffffff"/><rect y="16.98" height="1.59" width="506.5" fill="#fafafa"/><rect y="17.87" height="1.59" width="506.5" fill="#dbdbdb"/><rect y="18.76" height="1.59" width="506.5" fill="#d9d9d9"/><rect y="19.66" height="2.49" width="506.5" fill="#f5f5f5"/><rect y="21.44" height="1.59" width="506.5" fill="#fcfcfc"/><rect y="22.34" height="1.59" width="506.5" fill="#a6a6a6"/><rect y="23.23" height="1.59" width="506.5" fill="#f7f7f7"/><rect y="24.12" height="1.59" width="506.5" fill="#f5f5f5"/><rect y="25.02" height="1.59" width="506.5" fill="#bdbdbd"/><rect y="25.91" height="1.59" width="506.5" fill="#f5f5f5"/><rect y="26.8" height="1.59" width="506.5" fill="#ababab"/><rect y="27.7" height="1.59" width="506.5" fill="#fcfcfc"/><rect y="28.59" height="1.59" width="506.5" fill="#a6a6a6"/><rect y="29.48" height="1.59" width="506.5" fill="#9c9c9c"/><rect y="30.38" height="1.59" width="506.5" fill="#f2f2f2"/><rect y="31.27" height="1.59" width="506.5" fill="#f7f7f7"/><rect y="32.16" height="1.59" width="506.5" fill="#e8e8e8"/><rect y="33.06" height="1.59" width="506.5" fill="#e6e6e6"/><rect y="33.95" height="1.59" width="506.5" fill="#b0b0b0"/><rect y="34.84" height="1.59" width="506.5" fill="#dedede"/><rect y="35.74" height="1.59" width="506.5" fill="#fcfcfc"/><rect y="36.63" height="1.59" width="506.5" fill="#ededed"/><rect y="37.52" height="1.59" width="506.5" fill="#e0e0e0"/><rect y="38.42" height="1.59" width="506.5" fill="#fafafa"/><rect y="39.31" height="1.59" width="506.5" fill="#d1d1d1"/><rect y="40.2" height="1.59" width="506.5" fill="#dedede"/><rect y="41.1" height="1.59" width="506.5" fill="#f5f5f5"/><rect y="41.99" height="1.59" width="506.5" fill="#d9d9d9"/><rect y="42.88" height="1.59" width="506.5" fill="#bababa"/><rect y="43.78" height="1.59" width="506.5" fill="#e6e6e6"/><rect y="44.67" height="2.49" width="506.5" fill="#f7f7f7"/><rect y="46.46" height="1.59" width="506.5" fill="#fcfcfc"/><rect y="47.35" height="1.59" width="506.5" fill="#dbdbdb"/><rect y="48.24" height="1.59" width="506.5" fill="#fcfcfc"/><rect y="49.14" height="1.59" width="506.5" fill="#dbdbdb"/><rect y="50.03" height="1.59" width="506.5" fill="#ffffff"/><rect y="50.93" height="1.59" width="506.5" fill="#f0f0f0"/><rect y="51.82" height="1.59" width="506.5" fill="#fafafa"/><rect y="52.71" height="1.59" width="506.5" fill="#f2f2f2"/><rect y="53.61" height="1.59" width="506.5" fill="#cfcfcf"/><rect y="54.5" height="1.59" width="506.5" fill="#e8e8e8"/><rect y="55.39" height="1.59" width="506.5" fill="#ebebeb"/><rect y="56.29" height="1.59" width="506.5" fill="#f5f5f5"/><rect y="57.18" height="1.59" width="506.5" fill="#e8e8e8"/><rect y="58.07" height="1.59" width="506.5" fill="#a6a6a6"/><rect y="58.97" height="1.59" width="506.5" fill="#fcfcfc"/><rect y="59.86" height="1.59" width="506.5" fill="#f5f5f5"/><rect y="60.75" height="1.59" width="506.5" fill="#f2f2f2"/><rect y="61.65" height="1.59" width="506.5" fill="#a8a8a8"/><rect y="62.54" height="1.59" width="506.5" fill="#f0f0f0"/><rect y="63.43" height="1.59" width="506.5" fill="#e0e0e0"/><rect y="64.33" height="1.59" width="506.5" fill="#f2f2f2"/><rect y="65.22" height="1.59" width="506.5" fill="#fcfcfc"/><rect y="66.11" height="2.49" width="506.5" fill="#fafafa"/><rect y="67.9" height="1.59" width="506.5" fill="#d6d6d6"/><rect y="68.79" height="1.59" width="506.5" fill="#cccccc"/><rect y="69.69" height="1.59" width="506.5" fill="#ffffff"/><rect y="70.58" height="1.59" width="506.5" fill="#bdbdbd"/><rect y="71.47" height="1.59" width="506.5" fill="#fafafa"/><rect y="72.37" height="1.59" width="506.5" fill="#f0f0f0"/><rect y="73.26" height="1.59" width="506.5" fill="#b8b8b8"/><rect y="74.15" height="1.59" width="506.5" fill="#fcfcfc"/><rect y="75.05" height="1.59" width="506.5" fill="#fafafa"/><rect y="75.94" height="1.59" width="506.5" fill="#fcfcfc"/><rect y="76.83" height="1.59" width="506.5" fill="#fafafa"/><rect y="77.73" height="2.49" width="506.5" fill="#fcfcfc"/><rect y="79.51" height="1.59" width="506.5" fill="#f7f7f7"/><rect y="80.41" height="1.59" width="506.5" fill="#f5f5f5"/><rect y="81.3" height="1.59" width="506.5" fill="#fafafa"/><rect y="82.2" height="1.59" width="506.5" fill="#bdbdbd"/><rect y="83.09" height="1.59" width="506.5" fill="#fcfcfc"/><rect y="83.98" height="1.59" width="506.5" fill="#f5f5f5"/><rect y="84.88" height="1.59" width="506.5" fill="#f7f7f7"/><rect y="85.77" height="1.59" width="506.5" fill="#fcfcfc"/><rect y="86.66" height="1.59" width="506.5" fill="#c4c4c4"/><rect y="87.56" height="1.59" width="506.5" fill="#bababa"/><rect y="88.45" height="1.59" width="506.5" fill="#f2f2f2"/><rect y="89.34" height="1.59" width="506.5" fill="#f7f7f7"/><rect y="90.24" height="1.59" width="506.5" fill="#ffffff"/><rect y="91.13" height="1.59" width="506.5" fill="#d6d6d6"/><rect y="92.02" height="1.59" width="506.5" fill="#e8e8e8"/><rect y="92.92" height="1.59" width="506.5" fill="#dbdbdb"/><rect y="93.81" height="1.59" width="506.5" fill="#fafafa"/><rect y="94.7" height="1.59" width="506.5" fill="#fcfcfc"/><rect y="95.6" height="1.59" width="506.5" fill="#b2b2b2"/><rect y="96.49" height="1.59" width="506.5" fill="#e0e0e0"/><rect y="97.38" height="1.59" width="506.5" fill="#fcfcfc"/><rect y="98.28" height="2.49" width="506.5" fill="#f5f5f5"/><rect y="100.06" height="1.59" width="506.5" fill="#e3e3e3"/><rect y="100.96" height="1.59" width="506.5" fill="#fcfcfc"/><rect y="101.85" height="1.59" width="506.5" fill="#ffffff"/><rect y="102.74" height="1.59" width="506.5" fill="#dbdbdb"/><rect y="103.64" height="1.59" width="506.5" fill="#f5f5f5"/><rect y="104.53" height="1.59" width="506.5" fill="#e0e0e0"/><rect y="105.42" height="1.59" width="506.5" fill="#f7f7f7"/><rect y="106.32" height="1.59" width="506.5" fill="#ebebeb"/><rect y="107.21" height="1.59" width="506.5" fill="#f7f7f7"/><rect y="108.1" height="1.59" width="506.5" fill="#9c9c9c"/><rect y="109" height="1.59" width="506.5" fill="#f0f0f0"/><rect y="109.89" height="1.59" width="506.5" fill="#f7f7f7"/><rect y="110.78" height="1.59" width="506.5" fill="#ebebeb"/><rect y="111.68" height="1.59" width="506.5" fill="#a1a1a1"/><rect y="112.57" height="1.59" width="506.5" fill="#f0f0f0"/><rect y="113.47" height="1.59" width="506.5" fill="#f2f2f2"/><rect y="114.36" height="1.59" width="506.5" fill="#d6d6d6"/><rect y="115.25" height="1.59" width="506.5" fill="#f7f7f7"/><rect y="116.15" height="1.59" width="506.5" fill="#fafafa"/><rect y="117.04" height="1.59" width="506.5" fill="#ffffff"/><rect y="117.93" height="2.49" width="506.5" fill="#f2f2f2"/><rect y="119.72" height="1.59" width="506.5" fill="#b2b2b2"/><rect y="120.61" height="1.59" width="506.5" fill="#f2f2f2"/><rect y="121.51" height="1.59" width="506.5" fill="#dedede"/><rect y="122.4" height="1.59" width="506.5" fill="#f7f7f7"/><rect y="123.29" height="2.49" width="506.5" fill="#fcfcfc"/><rect y="125.08" height="1.59" width="506.5" fill="#f2f2f2"/><rect y="125.97" height="1.59" width="506.5" fill="#fafafa"/><rect y="126.87" height="1.59" width="506.5" fill="#e3e3e3"/><rect y="127.76" height="1.59" width="506.5" fill="#fcfcfc"/><rect y="128.65" height="1.59" width="506.5" fill="#f7f7f7"/><rect y="129.55" height="1.59" width="506.5" fill="#fcfcfc"/><rect y="130.44" height="1.59" width="506.5" fill="#f7f7f7"/><rect y="131.33" height="1.59" width="506.5" fill="#f2f2f2"/><rect y="132.23" height="1.59" width="506.5" fill="#fcfcfc"/><rect y="133.12" height="1.59" width="506.5" fill="#fafafa"/><rect y="134.01" height="1.59" width="506.5" fill="#ededed"/><rect y="134.91" height="1.59" width="506.5" fill="#ffffff"/><rect y="135.8" height="1.59" width="506.5" fill="#fcfcfc"/><rect y="136.69" height="1.59" width="506.5" fill="#ededed"/><rect y="137.59" height="1.59" width="506.5" fill="#f5f5f5"/><rect y="138.48" height="1.59" width="506.5" fill="#b2b2b2"/><rect y="139.37" height="1.59" width="506.5" fill="#fcfcfc"/><rect y="140.27" height="2.49" width="506.5" fill="#f0f0f0"/><rect y="142.05" height="1.59" width="506.5" fill="#f2f2f2"/><rect y="142.95" height="1.59" width="506.5" fill="#ebebeb"/><rect y="143.84" height="1.59" width="506.5" fill="#d9d9d9"/><rect y="144.73" height="2.49" width="506.5" fill="#fafafa"/><rect y="146.52" height="1.59" width="506.5" fill="#f7f7f7"/><rect y="147.42" height="1.59" width="506.5" fill="#f2f2f2"/><rect y="148.31" height="1.59" width="506.5" fill="#e3e3e3"/><rect y="149.2" height="1.59" width="506.5" fill="#e8e8e8"/><rect y="150.1" height="2.49" width="506.5" fill="#f7f7f7"/><rect y="151.88" height="1.59" width="506.5" fill="#e0e0e0"/><rect y="152.78" height="1.59" width="506.5" fill="#fcfcfc"/><rect y="153.67" height="1.59" width="506.5" fill="#ededed"/><rect y="154.56" height="1.59" width="506.5" fill="#f7f7f7"/><rect y="155.46" height="1.59" width="506.5" fill="#f2f2f2"/><rect y="156.35" height="1.59" width="506.5" fill="#f7f7f7"/><rect y="157.24" height="1.59" width="506.5" fill="#f0f0f0"/><rect y="158.14" height="1.59" width="506.5" fill="#f7f7f7"/><rect y="159.03" height="1.59" width="506.5" fill="#fcfcfc"/><rect y="159.92" height="1.59" width="506.5" fill="#f7f7f7"/><rect y="160.82" height="1.59" width="506.5" fill="#f0f0f0"/><rect y="161.71" height="1.59" width="506.5" fill="#f5f5f5"/><rect y="162.6" height="1.59" width="506.5" fill="#ffffff"/><rect y="163.5" height="1.59" width="506.5" fill="#e3e3e3"/><rect y="164.39" height="1.59" width="506.5" fill="#e0e0e0"/><rect y="165.28" height="1.59" width="506.5" fill="#fcfcfc"/><rect y="166.18" height="1.59" width="506.5" fill="#f5f5f5"/><rect y="167.07" height="1.59" width="506.5" fill="#e6e6e6"/><rect y="167.96" height="1.59" width="506.5" fill="#f2f2f2"/><rect y="168.86" height="1.59" width="506.5" fill="#f0f0f0"/><rect y="169.75" height="1.59" width="506.5" fill="#dbdbdb"/><rect y="170.64" height="1.59" width="506.5" fill="#f5f5f5"/><rect y="171.54" height="1.59" width="506.5" fill="#fafafa"/><rect y="172.43" height="1.59" width="506.5" fill="#c2c2c2"/><rect y="173.32" height="1.59" width="506.5" fill="#e3e3e3"/><rect y="174.22" height="1.59" width="506.5" fill="#dbdbdb"/><rect y="175.11" height="1.59" width="506.5" fill="#f7f7f7"/><rect y="176" height="1.59" width="506.5" fill="#f5f5f5"/><rect y="176.9" height="1.59" width="506.5" fill="#f2f2f2"/><rect y="177.79" height="1.59" width="506.5" fill="#e6e6e6"/><rect y="178.69" height="1.59" width="506.5" fill="#f7f7f7"/><rect y="179.58" height="1.59" width="506.5" fill="#fafafa"/><rect y="180.47" height="1.59" width="506.5" fill="#f2f2f2"/><rect y="181.37" height="1.59" width="506.5" fill="#fcfcfc"/><rect y="182.26" height="1.59" width="506.5" fill="#f5f5f5"/><rect y="183.15" height="1.59" width="506.5" fill="#ededed"/><rect y="184.05" height="1.59" width="506.5" fill="#f0f0f0"/><rect y="184.94" height="1.59" width="506.5" fill="#f2f2f2"/><rect y="185.83" height="1.59" width="506.5" fill="#e8e8e8"/><rect y="186.73" height="1.59" width="506.5" fill="#d9d9d9"/><rect y="187.62" height="1.59" width="506.5" fill="#f7f7f7"/><rect y="188.51" height="1.59" width="506.5" fill="#f2f2f2"/><rect y="189.41" height="1.59" width="506.5" fill="#fafafa"/><rect y="190.3" height="1.59" width="506.5" fill="#a3a3a3"/><rect y="191.19" height="1.59" width="506.5" fill="#fcfcfc"/><rect y="192.09" height="1.59" width="506.5" fill="#f2f2f2"/><rect y="192.98" height="1.59" width="506.5" fill="#fcfcfc"/><rect y="193.87" height="1.59" width="506.5" fill="#fafafa"/><rect y="194.77" height="1.59" width="506.5" fill="#d9d9d9"/><rect y="195.66" height="1.59" width="506.5" fill="#9c9c9c"/><rect y="196.55" height="1.59" width="506.5" fill="#f7f7f7"/><rect y="197.45" height="1.59" width="506.5" fill="#f2f2f2"/><rect y="198.34" height="1.59" width="506.5" fill="#dbdbdb"/><rect y="199.23" height="1.59" width="506.5" fill="#ffffff"/><rect y="200.13" height="1.59" width="506.5" fill="#f2f2f2"/><rect y="201.02" height="1.59" width="506.5" fill="#cfcfcf"/><rect y="201.91" height="1.59" width="506.5" fill="#fcfcfc"/><rect y="202.81" height="1.59" width="506.5" fill="#e3e3e3"/><rect y="203.7" height="1.59" width="506.5" fill="#f7f7f7"/><rect y="204.59" height="1.59" width="506.5" fill="#f0f0f0"/><rect y="205.49" height="1.59" width="506.5" fill="#fcfcfc"/><rect y="206.38" height="1.59" width="506.5" fill="#e3e3e3"/><rect y="207.27" height="1.59" width="506.5" fill="#f5f5f5"/><rect y="208.17" height="1.59" width="506.5" fill="#dbdbdb"/><rect y="209.06" height="1.59" width="506.5" fill="#f0f0f0"/><rect y="209.95" height="2.49" width="506.5" fill="#fcfcfc"/><rect y="211.74" height="1.59" width="506.5" fill="#f5f5f5"/><rect y="212.64" height="1.59" width="506.5" fill="#f7f7f7"/><rect y="213.53" height="1.59" width="506.5" fill="#fcfcfc"/><rect y="214.42" height="1.59" width="506.5" fill="#ededed"/><rect y="215.32" height="1.59" width="506.5" fill="#fcfcfc"/><rect y="216.21" height="1.59" width="506.5" fill="#f5f5f5"/><rect y="217.1" height="2.49" width="506.5" fill="#fcfcfc"/><rect y="218.89" height="1.59" width="506.5" fill="#f5f5f5"/><rect y="219.78" height="1.59" width="506.5" fill="#f0f0f0"/><rect y="220.68" height="1.59" width="506.5" fill="#e3e3e3"/><rect y="221.57" height="1.59" width="506.5" fill="#adadad"/><rect y="222.46" height="1.59" width="506.5" fill="#fafafa"/><rect y="223.36" height="1.59" width="506.5" fill="#ededed"/><rect y="224.25" height="1.59" width="506.5" fill="#f5f5f5"/><rect y="225.14" height="1.59" width="506.5" fill="#f7f7f7"/><rect y="226.04" height="1.59" width="506.5" fill="#f5f5f5"/><rect y="226.93" height="1.59" width="506.5" fill="#fafafa"/><rect y="227.82" height="1.59" width="506.5" fill="#fcfcfc"/><rect y="228.72" height="4.27" width="506.5" fill="#737373"/><rect y="232.29" height="1.59" width="506.5" fill="#f2f2f2"/><rect y="233.18" height="1.59" width="506.5" fill="#ededed"/><rect y="234.08" height="2.49" width="506.5" fill="#f7f7f7"/><rect y="235.86" height="1.59" width="506.5" fill="#fafafa"/><rect y="236.76" height="1.59" width="506.5" fill="#f0f0f0"/><rect y="237.65" height="1.59" width="506.5" fill="#fcfcfc"/><rect y="238.54" height="1.59" width="506.5" fill="#cccccc"/><rect y="239.44" height="2.49" width="506.5" fill="#e3e3e3"/><rect y="241.22" height="1.59" width="506.5" fill="#f0f0f0"/><rect y="242.12" height="1.59" width="506.5" fill="#f7f7f7"/><rect y="243.01" height="1.59" width="506.5" fill="#fafafa"/><rect y="243.91" height="1.59" width="506.5" fill="#f5f5f5"/><rect y="244.8" height="1.59" width="506.5" fill="#f7f7f7"/><rect y="245.69" height="1.59" width="506.5" fill="#e8e8e8"/><rect y="246.59" height="2.49" width="506.5" fill="#d6d6d6"/><rect y="248.37" height="1.59" width="506.5" fill="#ebebeb"/><rect y="249.27" height="1.59" width="506.5" fill="#fcfcfc"/><rect y="250.16" height="1.59" width="506.5" fill="#f0f0f0"/><rect y="251.05" height="1.59" width="506.5" fill="#ffffff"/><rect y="251.95" height="1.59" width="506.5" fill="#cccccc"/><rect y="252.84" height="1.59" width="506.5" fill="#f7f7f7"/><rect y="253.73" height="1.59" width="506.5" fill="#f2f2f2"/><rect y="254.63" height="1.59" width="506.5" fill="#ffffff"/><rect y="255.52" height="1.59" width="506.5" fill="#f7f7f7"/><rect y="256.41" height="1.59" width="506.5" fill="#fcfcfc"/><rect y="257.31" height="1.59" width="506.5" fill="#f2f2f2"/><rect y="258.2" height="1.59" width="506.5" fill="#f7f7f7"/><rect y="259.09" height="1.59" width="506.5" fill="#d9d9d9"/><rect y="259.99" height="1.59" width="506.5" fill="#f2f2f2"/><rect y="260.88" height="1.59" width="506.5" fill="#fafafa"/><rect y="261.77" height="1.59" width="506.5" fill="#f5f5f5"/><rect y="262.67" height="2.49" width="506.5" fill="#f7f7f7"/><rect y="264.45" height="1.59" width="506.5" fill="#ffffff"/><rect y="265.35" height="1.59" width="506.5" fill="#f2f2f2"/><rect y="266.24" height="1.59" width="506.5" fill="#cccccc"/><rect y="267.13" height="1.59" width="506.5" fill="#fafafa"/><rect y="268.03" height="1.59" width="506.5" fill="#f5f5f5"/><rect y="268.92" height="1.59" width="506.5" fill="#f7f7f7"/><rect y="269.81" height="1.59" width="506.5" fill="#fafafa"/><rect y="270.71" height="1.59" width="506.5" fill="#f2f2f2"/><rect y="271.6" height="1.59" width="506.5" fill="#f0f0f0"/><rect y="272.49" height="1.59" width="506.5" fill="#fcfcfc"/><rect y="273.39" height="1.59" width="506.5" fill="#9c9c9c"/><rect y="274.28" height="1.59" width="506.5" fill="#e0e0e0"/><rect y="275.18" height="1.59" width="506.5" fill="#f2f2f2"/><rect y="276.07" height="1.59" width="506.5" fill="#f0f0f0"/><rect y="276.96" height="1.59" width="506.5" fill="#bfbfbf"/><rect y="277.86" height="1.59" width="506.5" fill="#fafafa"/><rect y="278.75" height="1.59" width="506.5" fill="#f7f7f7"/><rect y="279.64" height="1.59" width="506.5" fill="#dedede"/><rect y="280.54" height="1.59" width="506.5" fill="#fcfcfc"/><rect y="281.43" height="1.59" width="506.5" fill="#a1a1a1"/><rect y="282.32" height="1.59" width="506.5" fill="#fafafa"/><rect y="283.22" height="1.59" width="506.5" fill="#f2f2f2"/><rect y="284.11" height="2.49" width="506.5" fill="#f5f5f5"/><rect y="285.9" height="1.59" width="506.5" fill="#ffffff"/><rect y="286.79" height="1.59" width="506.5" fill="#e3e3e3"/><rect y="287.68" height="1.59" width="506.5" fill="#ffffff"/><rect y="288.58" height="1.59" width="506.5" fill="#f5f5f5"/><rect y="289.47" height="1.59" width="506.5" fill="#c9c9c9"/><rect y="290.36" height="1.59" width="506.5" fill="#9e9e9e"/><rect y="291.26" height="1.59" width="506.5" fill="#f7f7f7"/><rect y="292.15" height="1.59" width="506.5" fill="#f5f5f5"/><rect y="293.04" height="1.59" width="506.5" fill="#f0f0f0"/><rect y="293.94" height="1.59" width="506.5" fill="#e8e8e8"/><rect y="294.83" height="1.59" width="506.5" fill="#ababab"/><rect y="295.72" height="1.59" width="506.5" fill="#fafafa"/><rect y="296.62" height="1.59" width="506.5" fill="#d9d9d9"/><rect y="297.51" height="1.59" width="506.5" fill="#fafafa"/><rect y="298.4" height="1.59" width="506.5" fill="#f2f2f2"/><rect y="299.3" height="1.59" width="506.5" fill="#f7f7f7"/><rect y="300.19" height="1.59" width="506.5" fill="#ffffff"/><rect y="301.08" height="1.59" width="506.5" fill="#f7f7f7"/><rect y="301.98" height="1.59" width="506.5" fill="#f5f5f5"/><rect y="302.87" height="1.59" width="506.5" fill="#e0e0e0"/><rect y="303.76" height="1.59" width="506.5" fill="#fcfcfc"/><rect y="304.66" height="1.59" width="506.5" fill="#e0e0e0"/><rect y="305.55" height="2.49" width="506.5" fill="#f5f5f5"/><rect y="307.34" height="1.59" width="506.5" fill="#e6e6e6"/><rect y="308.23" height="2.49" width="506.5" fill="#f7f7f7"/><rect y="310.02" height="1.59" width="506.5" fill="#ebebeb"/><rect y="310.91" height="1.59" width="506.5" fill="#f5f5f5"/><rect y="311.81" height="1.59" width="506.5" fill="#b5b5b5"/><rect y="312.7" height="1.59" width="506.5" fill="#f7f7f7"/><rect y="313.59" height="1.59" width="506.5" fill="#fafafa"/><rect y="314.49" height="1.59" width="506.5" fill="#f0f0f0"/><rect y="315.38" height="1.59" width="506.5" fill="#fcfcfc"/><rect y="316.27" height="1.59" width="506.5" fill="#9e9e9e"/><rect y="317.17" height="1.59" width="506.5" fill="#fcfcfc"/><rect y="318.06" height="1.59" width="506.5" fill="#bdbdbd"/><rect y="318.95" height="1.59" width="506.5" fill="#e8e8e8"/><rect y="319.85" height="1.59" width="506.5" fill="#f2f2f2"/><rect y="320.74" height="1.59" width="506.5" fill="#ebebeb"/><rect y="321.63" height="1.59" width="506.5" fill="#fcfcfc"/><rect y="322.53" height="1.59" width="506.5" fill="#f5f5f5"/><rect y="323.42" height="1.59" width="506.5" fill="#fafafa"/><rect y="324.31" height="1.59" width="506.5" fill="#f7f7f7"/><rect y="325.21" height="1.59" width="506.5" fill="#fafafa"/><rect y="326.1" height="1.59" width="506.5" fill="#f5f5f5"/><rect y="326.99" height="1.59" width="506.5" fill="#fafafa"/><rect y="327.89" height="2.49" width="506.5" fill="#fcfcfc"/><rect y="329.67" height="2.49" width="506.5" fill="#fafafa"/><rect y="331.46" height="1.59" width="506.5" fill="#f7f7f7"/><rect y="332.35" height="1.59" width="506.5" fill="#f2f2f2"/><rect y="333.25" height="1.59" width="506.5" fill="#ffffff"/><rect y="334.14" height="1.59" width="506.5" fill="#f2f2f2"/><rect y="335.03" height="1.59" width="506.5" fill="#e0e0e0"/><rect y="335.93" height="1.59" width="506.5" fill="#f0f0f0"/><rect y="336.82" height="1.59" width="506.5" fill="#ababab"/><rect y="337.71" height="1.59" width="506.5" fill="#bdbdbd"/><rect y="338.61" height="1.59" width="506.5" fill="#f2f2f2"/><rect y="339.5" height="1.59" width="506.5" fill="#b2b2b2"/><rect y="340.4" height="1.59" width="506.5" fill="#fcfcfc"/><rect y="341.29" height="1.59" width="506.5" fill="#9e9e9e"/><rect y="342.18" height="1.59" width="506.5" fill="#dbdbdb"/><rect y="343.08" height="1.59" width="506.5" fill="#e8e8e8"/><rect y="343.97" height="1.59" width="506.5" fill="#f2f2f2"/><rect y="344.86" height="1.59" width="506.5" fill="#dedede"/><rect y="345.76" height="1.59" width="506.5" fill="#ebebeb"/><rect y="346.65" height="1.59" width="506.5" fill="#e3e3e3"/><rect y="347.54" height="1.59" width="506.5" fill="#f7f7f7"/><rect y="348.44" height="1.59" width="506.5" fill="#ededed"/><rect y="349.33" height="1.59" width="506.5" fill="#f5f5f5"/><rect y="350.22" height="1.59" width="506.5" fill="#ffffff"/><rect y="351.12" height="1.59" width="506.5" fill="#f2f2f2"/><rect y="352.01" height="1.59" width="506.5" fill="#cfcfcf"/><rect y="352.9" height="1.59" width="506.5" fill="#f5f5f5"/><rect y="353.8" height="1.59" width="506.5" fill="#f7f7f7"/><rect y="354.69" height="1.59" width="506.5" fill="#f0f0f0"/><rect y="355.58" height="1.59" width="506.5" fill="#f2f2f2"/><rect y="356.48" height="1.59" width="506.5" fill="#b2b2b2"/><rect y="357.37" height="1.59" width="506.5" fill="#fcfcfc"/><rect y="358.26" height="1.59" width="506.5" fill="#fafafa"/><rect y="359.16" height="1.59" width="506.5" fill="#dbdbdb"/><rect y="360.05" height="1.59" width="506.5" fill="#dedede"/><rect y="360.94" height="1.59" width="506.5" fill="#f7f7f7"/><rect y="361.84" height="1.59" width="506.5" fill="#ffffff"/><rect y="362.73" height="1.59" width="506.5" fill="#e3e3e3"/><rect y="363.62" height="1.59" width="506.5" fill="#ebebeb"/><rect y="364.52" height="1.59" width="506.5" fill="#c7c7c7"/><rect y="365.41" height="1.59" width="506.5" fill="#fcfcfc"/><rect y="366.3" height="1.59" width="506.5" fill="#a8a8a8"/><rect y="367.2" height="1.59" width="506.5" fill="#f2f2f2"/><rect y="368.09" height="1.59" width="506.5" fill="#f7f7f7"/><rect y="368.98" height="1.59" width="506.5" fill="#fafafa"/><rect y="369.88" height="1.59" width="506.5" fill="#f5f5f5"/><rect y="370.77" height="1.59" width="506.5" fill="#f7f7f7"/><rect y="371.66" height="2.49" width="506.5" fill="#f2f2f2"/><rect y="373.45" height="1.59" width="506.5" fill="#f7f7f7"/><rect y="374.35" height="1.59" width="506.5" fill="#ebebeb"/><rect y="375.24" height="1.59" width="506.5" fill="#dedede"/><rect y="376.13" height="1.59" width="506.5" fill="#ababab"/><rect y="377.03" height="2.49" width="506.5" fill="#fafafa"/><rect y="378.81" height="1.59" width="506.5" fill="#b0b0b0"/><rect y="379.71" height="1.59" width="506.5" fill="#ffffff"/><rect y="380.6" height="1.59" width="506.5" fill="#fafafa"/><rect y="381.49" height="1.59" width="506.5" fill="#adadad"/><rect y="382.39" height="1.59" width="506.5" fill="#f2f2f2"/><rect y="383.28" height="1.59" width="506.5" fill="#f7f7f7"/><rect y="384.17" height="1.59" width="506.5" fill="#d1d1d1"/><rect y="385.07" height="1.59" width="506.5" fill="#f2f2f2"/><rect y="385.96" height="1.59" width="506.5" fill="#f5f5f5"/><rect y="386.85" height="1.59" width="506.5" fill="#f7f7f7"/><rect y="387.75" height="1.59" width="506.5" fill="#dedede"/><rect y="388.64" height="1.59" width="506.5" fill="#fafafa"/><rect y="389.53" height="1.59" width="506.5" fill="#dbdbdb"/><rect y="390.43" height="1.59" width="506.5" fill="#f5f5f5"/><rect y="391.32" height="1.59" width="506.5" fill="#f7f7f7"/><rect y="392.21" height="1.59" width="506.5" fill="#f5f5f5"/><rect y="393.11" height="1.59" width="506.5" fill="#f2f2f2"/><rect y="394" height="1.59" width="506.5" fill="#d9d9d9"/><rect y="394.89" height="1.59" width="506.5" fill="#fafafa"/><rect y="395.79" height="1.59" width="506.5" fill="#e0e0e0"/><rect y="396.68" height="1.59" width="506.5" fill="#fafafa"/><rect y="397.57" height="1.59" width="506.5" fill="#a6a6a6"/><rect y="398.47" height="1.59" width="506.5" fill="#d9d9d9"/><rect y="399.36" height="1.59" width="506.5" fill="#f0f0f0"/><rect y="400.25" height="1.59" width="506.5" fill="#f7f7f7"/><rect y="401.15" height="1.59" width="506.5" fill="#fafafa"/><rect y="402.04" height="1.59" width="506.5" fill="#fcfcfc"/><rect y="402.93" height="1.59" width="506.5" fill="#f5f5f5"/><rect y="403.83" height="1.59" width="506.5" fill="#f0f0f0"/><rect y="404.72" height="1.59" width="506.5" fill="#fafafa"/><rect y="405.62" height="1.59" width="506.5" fill="#fcfcfc"/><rect y="406.51" height="1.59" width="506.5" fill="#fafafa"/><rect y="407.4" height="1.59" width="506.5" fill="#ababab"/><rect y="408.3" height="1.59" width="506.5" fill="#e8e8e8"/><rect y="409.19" height="1.59" width="506.5" fill="#adadad"/><rect y="410.08" height="1.59" width="506.5" fill="#fcfcfc"/><rect y="410.98" height="1.59" width="506.5" fill="#fafafa"/><rect y="411.87" height="1.59" width="506.5" fill="#ebebeb"/><rect y="412.76" height="2.49" width="506.5" fill="#f7f7f7"/><rect y="414.55" height="1.59" width="506.5" fill="#e8e8e8"/><rect y="415.44" height="1.59" width="506.5" fill="#f7f7f7"/><rect y="416.34" height="1.59" width="506.5" fill="#fcfcfc"/><rect y="417.23" height="1.59" width="506.5" fill="#ededed"/><rect y="418.12" height="0.88" width="506.5" fill="#f2f2f2"/></g></g><line x1="0" y1="0" x2="506.5" y2="419" stroke="#f9e3d3" stroke-width="1.25" stroke-opacity="0.85"/></svg><div class="cb" style="left:539px;top:4px;width:21px;height:419.5px"></div><div class="tk" style="left:560px;top:3.8px"></div><div class="tl" style="left:563.5px;top:-2.9px">1.0</div><div class="tk" style="left:560px;top:67.9px"></div><div class="tl" style="left:563.5px;top:61.2px">0.8</div><div class="tk" style="left:560px;top:132px"></div><div class="tl" style="left:563.5px;top:125.3px">0.6</div><div class="tk" style="left:560px;top:196.1px"></div><div class="tl" style="left:563.5px;top:189.4px">0.4</div><div class="tk" style="left:560px;top:260.2px"></div><div class="tl" style="left:563.5px;top:253.5px">0.2</div><div class="tk" style="left:560px;top:324.3px"></div><div class="tl" style="left:563.5px;top:317.6px">0.0</div><div class="tk" style="left:560px;top:388.4px"></div><div class="tl" style="left:563.5px;top:381.7px">−0.2</div><div class="cb" style="left:1152.2px;top:4px;width:21px;height:419.5px"></div><div class="tk" style="left:1173.2px;top:3.8px"></div><div class="tl" style="left:1176.7px;top:-2.9px">1.0</div><div class="tk" style="left:1173.2px;top:70.14px"></div><div class="tl" style="left:1176.7px;top:63.44px">0.8</div><div class="tk" style="left:1173.2px;top:136.48px"></div><div class="tl" style="left:1176.7px;top:129.78px">0.6</div><div class="tk" style="left:1173.2px;top:202.82px"></div><div class="tl" style="left:1176.7px;top:196.12px">0.4</div><div class="tk" style="left:1173.2px;top:269.16px"></div><div class="tl" style="left:1176.7px;top:262.46px">0.2</div><div class="tk" style="left:1173.2px;top:335.5px"></div><div class="tl" style="left:1176.7px;top:328.8px">0.0</div><div class="tk" style="left:1173.2px;top:401.84px"></div><div class="tl" style="left:1176.7px;top:395.14px">−0.2</div><div class="cb" style="left:539px;top:519px;width:21px;height:419px"></div><div class="tk" style="left:560px;top:524.7px"></div><div class="tl" style="left:563.5px;top:518px">1.6</div><div class="tk" style="left:560px;top:576.3px"></div><div class="tl" style="left:563.5px;top:569.6px">1.4</div><div class="tk" style="left:560px;top:627.9px"></div><div class="tl" style="left:563.5px;top:621.2px">1.2</div><div class="tk" style="left:560px;top:679.5px"></div><div class="tl" style="left:563.5px;top:672.8px">1.0</div><div class="tk" style="left:560px;top:731.1px"></div><div class="tl" style="left:563.5px;top:724.4px">0.8</div><div class="tk" style="left:560px;top:782.7px"></div><div class="tl" style="left:563.5px;top:776px">0.6</div><div class="tk" style="left:560px;top:834.3px"></div><div class="tl" style="left:563.5px;top:827.6px">0.4</div><div class="tk" style="left:560px;top:885.9px"></div><div class="tl" style="left:563.5px;top:879.2px">0.2</div><div class="tk" style="left:560px;top:937.5px"></div><div class="tl" style="left:563.5px;top:930.8px">0.0</div><div class="cb" style="left:1152.2px;top:519px;width:21px;height:419px"></div><div class="tk" style="left:1173.2px;top:532.1px"></div><div class="tl" style="left:1176.7px;top:525.4px">1.2</div><div class="tk" style="left:1173.2px;top:578.9px"></div><div class="tl" style="left:1176.7px;top:572.2px">1.1</div><div class="tk" style="left:1173.2px;top:625.7px"></div><div class="tl" style="left:1176.7px;top:619px">1.0</div><div class="tk" style="left:1173.2px;top:672.5px"></div><div class="tl" style="left:1176.7px;top:665.8px">0.9</div><div class="tk" style="left:1173.2px;top:719.3px"></div><div class="tl" style="left:1176.7px;top:712.6px">0.8</div><div class="tk" style="left:1173.2px;top:766.1px"></div><div class="tl" style="left:1176.7px;top:759.4px">0.7</div><div class="tk" style="left:1173.2px;top:812.9px"></div><div class="tl" style="left:1176.7px;top:806.2px">0.6</div><div class="tk" style="left:1173.2px;top:859.7px"></div><div class="tl" style="left:1176.7px;top:853px">0.5</div><div class="tk" style="left:1173.2px;top:906.5px"></div><div class="tl" style="left:1176.7px;top:899.8px">0.4</div><div class="cap" id="ca" style="left:113px;top:438.8px;letter-spacing:0.89px;word-spacing:2.2px">(a) Cryptocurrencies correlation</div><div class="cap" id="cb2" style="left:794px;top:438.8px;letter-spacing:0.83px;word-spacing:2.2px">(b) Stock correlation</div><div class="cap" id="cc" style="left:61.5px;top:953.1px;letter-spacing:0.93px;word-spacing:2.2px">(c) Cryptocurrencies mutual information</div><div class="cap" id="cd" style="left:742.8px;top:953.1px;letter-spacing:0.89px;word-spacing:2.2px">(d) Stock mutual information</div></div></body></html>
